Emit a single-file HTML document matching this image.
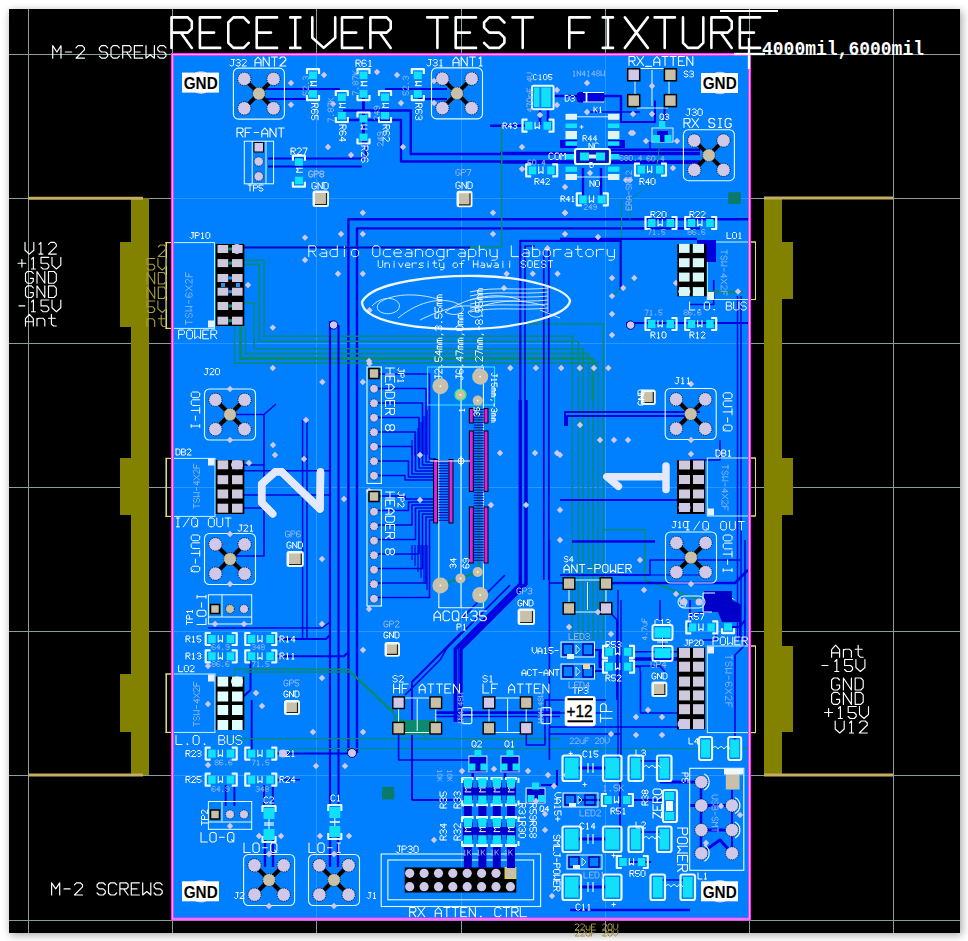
<!DOCTYPE html>
<html><head><meta charset="utf-8">
<style>
html,body{margin:0;padding:0;background:#fff;width:968px;height:941px;overflow:hidden}
svg{display:block}
</style></head><body>
<svg width="968" height="941" viewBox="0 0 968 941">
<defs><filter id="sh" x="-5%" y="-5%" width="110%" height="110%"><feGaussianBlur stdDeviation="4"/></filter></defs>
<rect x="0" y="0" width="968" height="941" fill="#fff"/>
<rect x="10" y="11" width="952" height="924" fill="#000" opacity="0.35" filter="url(#sh)"/>
<rect x="9" y="9" width="951" height="924" fill="#000"/>
<g stroke="#84a0a0" stroke-width="1">
<line x1="9" y1="54.5" x2="960" y2="54.5"/>
<line x1="9" y1="198.5" x2="960" y2="198.5"/>
<line x1="9" y1="343.5" x2="960" y2="343.5"/>
<line x1="9" y1="487.5" x2="960" y2="487.5"/>
<line x1="9" y1="631.5" x2="960" y2="631.5"/>
<line x1="9" y1="775.5" x2="960" y2="775.5"/>
<line x1="9" y1="920.5" x2="960" y2="920.5"/>
<line x1="28.5" y1="9" x2="28.5" y2="933"/>
<line x1="172.5" y1="9" x2="172.5" y2="933"/>
<line x1="316.5" y1="9" x2="316.5" y2="933"/>
<line x1="461.5" y1="9" x2="461.5" y2="933"/>
<line x1="605.5" y1="9" x2="605.5" y2="933"/>
<line x1="749.5" y1="9" x2="749.5" y2="933"/>
<line x1="893.5" y1="9" x2="893.5" y2="933"/>
</g>
<g fill="#828200">
<rect x="131" y="198" width="18" height="577"/>
<rect x="120" y="242" width="11" height="85"/>
<rect x="120" y="458" width="11" height="57"/>
<rect x="120" y="674" width="11" height="58"/>
<rect x="764" y="198" width="18" height="577"/>
<rect x="782" y="242" width="11" height="57"/>
<rect x="782" y="458" width="11" height="57"/>
<rect x="782" y="646" width="11" height="86"/>
</g>
<g stroke="#c4ac60" stroke-width="3">
<line x1="28" y1="198.3" x2="143" y2="198.3"/>
<line x1="28" y1="775" x2="143" y2="775"/>
<line x1="764" y1="198" x2="893" y2="198"/>
<line x1="764" y1="775" x2="893" y2="775"/>
</g>
<rect x="172" y="54" width="578" height="865" fill="#0080ff"/>
<g stroke="#a0d0ff" stroke-width="1" opacity="0.28">
<line x1="173" y1="198.5" x2="749" y2="198.5"/>
<line x1="173" y1="343.5" x2="749" y2="343.5"/>
<line x1="173" y1="487.5" x2="749" y2="487.5"/>
<line x1="173" y1="631.5" x2="749" y2="631.5"/>
<line x1="173" y1="775.5" x2="749" y2="775.5"/>
<line x1="316.5" y1="55" x2="316.5" y2="919"/>
<line x1="461.5" y1="55" x2="461.5" y2="919"/>
<line x1="605.5" y1="55" x2="605.5" y2="919"/>
</g>
<path d="M171.5 47.9L171.5 17.4L187.8 17.4L191.8 21.5L191.8 28.6L187.8 32.6L171.5 32.6M180.7 32.6L191.8 47.9M220.2 17.4L199.9 17.4L199.9 47.9L220.2 47.9M199.9 32.6L214.1 32.6M248.7 22.5L243.6 17.4L233.4 17.4L228.3 22.5L228.3 42.8L233.4 47.9L243.6 47.9L248.7 42.8M277.1 17.4L256.7 17.4L256.7 47.9L277.1 47.9M256.7 32.6L271.0 32.6M290.2 17.4L300.4 17.4M295.3 17.4L295.3 47.9M290.2 47.9L300.4 47.9M312.3 17.4L312.3 37.7L323.7 47.9L335.2 37.7L335.2 17.4M362.3 17.4L342.0 17.4L342.0 47.9L362.3 47.9M342.0 32.6L356.2 32.6M370.4 47.9L370.4 17.4L386.7 17.4L390.7 21.5L390.7 28.6L386.7 32.6L370.4 32.6M379.6 32.6L390.7 47.9M427.2 17.4L447.6 17.4M437.4 17.4L437.4 47.9M476.0 17.4L455.7 17.4L455.7 47.9L476.0 47.9M455.7 32.6L469.9 32.6M504.4 22.5L499.3 17.4L489.2 17.4L484.1 22.5L484.1 27.6L489.2 32.6L499.3 32.6L504.4 37.7L504.4 42.8L499.3 47.9L489.2 47.9L484.1 42.8M512.5 17.4L532.8 17.4M522.7 17.4L522.7 47.9M589.7 17.4L569.3 17.4L569.3 47.9M569.3 32.6L583.6 32.6M602.8 17.4L613.0 17.4M607.9 17.4L607.9 47.9M602.8 47.9L613.0 47.9M624.9 17.4L647.8 47.9M647.8 17.4L624.9 47.9M654.6 17.4L674.9 17.4M664.7 17.4L664.7 47.9M683.0 17.4L683.0 42.8L688.1 47.9L698.2 47.9L703.3 42.8L703.3 17.4M711.4 47.9L711.4 17.4L727.7 17.4L731.7 21.5L731.7 28.6L727.7 32.6L711.4 32.6M720.6 32.6L731.7 47.9M760.1 17.4L739.8 17.4L739.8 47.9L760.1 47.9M739.8 32.6L754.0 32.6" stroke="#ffffff" stroke-width="2.60" fill="none" stroke-linecap="round" stroke-linejoin="round"/>
<path d="M265.0 89.0L340.0 89.0" stroke="#0000e0" stroke-width="2.2" fill="none" stroke-linejoin="round"/>
<path d="M265.0 99.0L308.0 99.0" stroke="#0000e0" stroke-width="2.2" fill="none" stroke-linejoin="round"/>
<path d="M385.0 89.0L447.0 89.0" stroke="#0000e0" stroke-width="2.2" fill="none" stroke-linejoin="round"/>
<path d="M418.0 99.0L447.0 99.0" stroke="#0000e0" stroke-width="2.2" fill="none" stroke-linejoin="round"/>
<path d="M363.5 98.0L363.5 145.0" stroke="#0000e0" stroke-width="3.0" fill="none" stroke-linejoin="round"/>
<path d="M343.0 110.5L410.8 110.5L410.8 154.0L700.0 154.0" stroke="#0000e0" stroke-width="2.4" fill="none" stroke-linejoin="round"/>
<path d="M346.0 120.0L401.0 120.0L401.0 161.5L700.0 161.5" stroke="#0000e0" stroke-width="2.4" fill="none" stroke-linejoin="round"/>
<path d="M268.0 158.5L365.8 158.5L365.8 140.0" stroke="#0000e0" stroke-width="2.2" fill="none" stroke-linejoin="round"/>
<path d="M268.0 166.5L362.0 166.5" stroke="#0000e0" stroke-width="2.2" fill="none" stroke-linejoin="round"/>
<path d="M600.0 149.8L700.0 149.8" stroke="#0000e0" stroke-width="2.6" fill="none" stroke-linejoin="round"/>
<path d="M600.0 162.4L700.0 162.4" stroke="#0000e0" stroke-width="2.6" fill="none" stroke-linejoin="round"/>
<path d="M348.4 400.0L348.4 219.3L750.0 219.3" stroke="#0000e0" stroke-width="2.4" fill="none" stroke-linejoin="round"/>
<path d="M357.0 400.0L357.0 228.4L700.0 228.4" stroke="#0000e0" stroke-width="2.4" fill="none" stroke-linejoin="round"/>
<path d="M553.0 96.0L577.0 96.0" stroke="#0000e0" stroke-width="2.4" fill="none" stroke-linejoin="round"/>
<path d="M604.0 96.0L621.0 96.0L621.0 113.0" stroke="#0000e0" stroke-width="2.4" fill="none" stroke-linejoin="round"/>
<path d="M540.0 109.0L540.0 125.0" stroke="#0000e0" stroke-width="2.6" fill="none" stroke-linejoin="round"/>
<path d="M548.0 109.0L548.0 125.0" stroke="#0000e0" stroke-width="2.6" fill="none" stroke-linejoin="round"/>
<path d="M500.0 153.2L700.0 153.2" stroke="#0000e0" stroke-width="3.0" fill="none" stroke-linejoin="round"/>
<path d="M500.0 162.2L700.0 162.2" stroke="#0000e0" stroke-width="3.0" fill="none" stroke-linejoin="round"/>
<path d="M583.0 168.0L583.0 200.0" stroke="#0000e0" stroke-width="2.4" fill="none" stroke-linejoin="round"/>
<path d="M601.0 168.0L601.0 200.0" stroke="#0000e0" stroke-width="2.4" fill="none" stroke-linejoin="round"/>
<path d="M490.0 125.7L525.0 125.7" stroke="#0000e0" stroke-width="2.4" fill="none" stroke-linejoin="round"/>
<path d="M621.0 113.0L621.0 122.0L655.0 122.0L655.0 100.6" stroke="#0000e0" stroke-width="2.0" fill="none" stroke-linejoin="round"/>
<path d="M590.0 112.0L640.0 112.0" stroke="#0000e0" stroke-width="1.5" fill="none" stroke-linejoin="round"/>
<path d="M664.5 106.6L664.5 125.0" stroke="#0000e0" stroke-width="2.0" fill="none" stroke-linejoin="round"/>
<path d="M650.0 142.0L650.0 150.0" stroke="#0000e0" stroke-width="1.5" fill="none" stroke-linejoin="round"/>
<path d="M630.0 220.0L630.0 200.0L655.0 180.0L660.0 142.0" stroke="#0a8a6e" stroke-width="1.0" fill="none" stroke-linejoin="round"/>
<path d="M244.0 260.2L264.1 260.2L264.1 336.3L572.3 336.3L572.3 400.0" stroke="#0a8a6e" stroke-width="1.6" fill="none" stroke-linejoin="round"/>
<path d="M244.0 264.4L259.2 264.4L259.2 341.3L578.5 341.3L578.5 400.0" stroke="#0a8a6e" stroke-width="1.6" fill="none" stroke-linejoin="round"/>
<path d="M244.0 302.8L254.2 302.8L254.2 348.7L583.0 348.7L583.0 400.0" stroke="#0a8a6e" stroke-width="1.6" fill="none" stroke-linejoin="round"/>
<path d="M245.5 326.0L245.5 353.6L588.4 353.6L588.4 400.0" stroke="#0a8a6e" stroke-width="1.6" fill="none" stroke-linejoin="round"/>
<path d="M240.6 326.0L240.6 358.6L593.0 358.6L593.0 400.0" stroke="#0a8a6e" stroke-width="3.0" fill="none" stroke-linejoin="round"/>
<path d="M234.4 326.0L234.4 363.0L598.0 363.0L598.0 400.0" stroke="#0a8a6e" stroke-width="1.4" fill="none" stroke-linejoin="round"/>
<path d="M244.0 247.0L501.7 247.0L501.7 125.0" stroke="#0a8a6e" stroke-width="1.6" fill="none" stroke-linejoin="round"/>
<path d="M516.5 324.0L603.3 324.0L603.3 400.0" stroke="#0a8a6e" stroke-width="1.6" fill="none" stroke-linejoin="round"/>
<path d="M621.6 200.0L621.6 287.8L612.0 296.0" stroke="#0a8a6e" stroke-width="1.2" fill="none" stroke-linejoin="round"/>
<path d="M244.0 247.5L470.0 247.5" stroke="#0000e0" stroke-width="2.2" fill="none" stroke-linejoin="round"/>
<path d="M520.3 400.0L520.3 240.8L620.7 240.8L620.7 289.2" stroke="#0000e0" stroke-width="2.2" fill="none" stroke-linejoin="round"/>
<path d="M525.0 400.0L525.0 246.0L535.0 246.0" stroke="#0000e0" stroke-width="1.6" fill="none" stroke-linejoin="round"/>
<path d="M543.8 400.0L543.8 250.0" stroke="#0000e0" stroke-width="1.8" fill="none" stroke-linejoin="round"/>
<path d="M548.8 400.0L548.8 250.0" stroke="#0000e0" stroke-width="1.8" fill="none" stroke-linejoin="round"/>
<path d="M330.0 400.0L330.0 321.0" stroke="#0000e0" stroke-width="2.2" fill="none" stroke-linejoin="round"/>
<path d="M338.5 400.0L338.5 325.0" stroke="#0000e0" stroke-width="2.2" fill="none" stroke-linejoin="round"/>
<path d="M560.0 238.9L697.0 238.9" stroke="#0000e0" stroke-width="2.4" fill="none" stroke-linejoin="round"/>
<path d="M626.0 323.0L750.0 323.0" stroke="#0000e0" stroke-width="2.2" fill="none" stroke-linejoin="round"/>
<path d="M737.5 296.0L737.5 640.0" stroke="#0000e0" stroke-width="1.4" fill="none" stroke-linejoin="round"/>
<path d="M741.0 296.0L741.0 640.0" stroke="#0000e0" stroke-width="1.4" fill="none" stroke-linejoin="round"/>
<path d="M713.7 280.0L713.7 304.5L689.0 304.5" stroke="#0000e0" stroke-width="1.6" fill="none" stroke-linejoin="round"/>
<path d="M705.5 292.0L742.6 292.0" stroke="#0a8a6e" stroke-width="2.5" fill="none" stroke-linejoin="round"/>
<path d="M572.3 400.0L572.3 640.0" stroke="#0a8a6e" stroke-width="1.5" fill="none" stroke-linejoin="round"/>
<path d="M578.5 400.0L578.5 640.0" stroke="#0a8a6e" stroke-width="1.5" fill="none" stroke-linejoin="round"/>
<path d="M583.0 400.0L583.0 640.0" stroke="#0a8a6e" stroke-width="1.5" fill="none" stroke-linejoin="round"/>
<path d="M588.4 400.0L588.4 640.0" stroke="#0a8a6e" stroke-width="1.5" fill="none" stroke-linejoin="round"/>
<path d="M593.0 400.0L593.0 640.0" stroke="#0a8a6e" stroke-width="1.5" fill="none" stroke-linejoin="round"/>
<path d="M598.0 400.0L598.0 640.0" stroke="#0a8a6e" stroke-width="1.5" fill="none" stroke-linejoin="round"/>
<path d="M603.3 400.0L603.3 640.0" stroke="#0a8a6e" stroke-width="1.5" fill="none" stroke-linejoin="round"/>
<path d="M603.3 529.7L645.0 529.7L645.0 580.0L700.0 600.0" stroke="#0a8a6e" stroke-width="1.5" fill="none" stroke-linejoin="round"/>
<path d="M520.3 400.0L520.3 584.0L455.3 649.0L455.3 722.0" stroke="#0000e0" stroke-width="3.5" fill="none" stroke-linejoin="round"/>
<path d="M526.0 400.0L526.0 584.0L461.0 649.0L461.0 722.0" stroke="#0000e0" stroke-width="3.5" fill="none" stroke-linejoin="round"/>
<path d="M523.2 584.0L458.2 649.0L458.2 722.0" stroke="#0000e0" stroke-width="1.0" fill="none" stroke-linejoin="round"/>
<path d="M543.8 400.0L543.8 580.0" stroke="#0000e0" stroke-width="1.8" fill="none" stroke-linejoin="round"/>
<path d="M548.8 400.0L548.8 580.0" stroke="#0000e0" stroke-width="1.8" fill="none" stroke-linejoin="round"/>
<path d="M330.0 400.0L330.0 640.0" stroke="#0000e0" stroke-width="2.2" fill="none" stroke-linejoin="round"/>
<path d="M338.5 400.0L338.5 640.0" stroke="#0000e0" stroke-width="2.2" fill="none" stroke-linejoin="round"/>
<path d="M348.4 400.0L348.4 640.0" stroke="#0000e0" stroke-width="2.4" fill="none" stroke-linejoin="round"/>
<path d="M357.0 400.0L357.0 640.0" stroke="#0000e0" stroke-width="2.4" fill="none" stroke-linejoin="round"/>
<path d="M302.6 420.0L302.6 560.0" stroke="#0000e0" stroke-width="1.5" fill="none" stroke-linejoin="round"/>
<path d="M307.0 420.0L307.0 560.0" stroke="#0000e0" stroke-width="1.5" fill="none" stroke-linejoin="round"/>
<path d="M230.0 414.5L264.0 414.5L276.0 404.0" stroke="#0000e0" stroke-width="1.6" fill="none" stroke-linejoin="round"/>
<path d="M264.0 414.5L264.0 556.0L230.0 556.0" stroke="#0000e0" stroke-width="1.6" fill="none" stroke-linejoin="round"/>
<path d="M565.0 426.0L565.0 411.9L700.0 411.9" stroke="#0000e0" stroke-width="2.0" fill="none" stroke-linejoin="round"/>
<path d="M567.0 426.0L567.0 416.0L690.0 416.0" stroke="#0000e0" stroke-width="2.0" fill="none" stroke-linejoin="round"/>
<path d="M560.0 500.0L690.0 500.0" stroke="#0000e0" stroke-width="1.8" fill="none" stroke-linejoin="round"/>
<path d="M572.0 541.5L655.0 541.5" stroke="#0000e0" stroke-width="2.6" fill="none" stroke-linejoin="round"/>
<path d="M244.0 465.0L264.0 465.0" stroke="#0000e0" stroke-width="1.5" fill="none" stroke-linejoin="round"/>
<path d="M244.0 508.0L264.0 508.0" stroke="#0000e0" stroke-width="1.5" fill="none" stroke-linejoin="round"/>
<path d="M244.0 470.7L330.0 470.7" stroke="#0000e0" stroke-width="1.5" fill="none" stroke-linejoin="round"/>
<path d="M244.0 495.0L330.0 495.0" stroke="#0000e0" stroke-width="1.5" fill="none" stroke-linejoin="round"/>
<path d="M690.0 460.0L720.0 460.0L720.0 440.0" stroke="#0000e0" stroke-width="1.5" fill="none" stroke-linejoin="round"/>
<path d="M378.0 374.0L429.5 374.0L429.5 459.0L436.0 459.0" stroke="#0000e0" stroke-width="1.6" fill="none" stroke-linejoin="round"/>
<path d="M378.0 388.5L426.0 388.5L426.0 462.0L436.0 462.0" stroke="#0000e0" stroke-width="1.6" fill="none" stroke-linejoin="round"/>
<path d="M378.0 403.0L422.5 403.0L422.5 465.0L436.0 465.0" stroke="#0000e0" stroke-width="1.6" fill="none" stroke-linejoin="round"/>
<path d="M378.0 417.5L419.0 417.5L419.0 468.0L436.0 468.0" stroke="#0000e0" stroke-width="1.6" fill="none" stroke-linejoin="round"/>
<path d="M378.0 432.0L415.5 432.0L415.5 471.0L436.0 471.0" stroke="#0000e0" stroke-width="1.6" fill="none" stroke-linejoin="round"/>
<path d="M378.0 446.5L412.0 446.5L412.0 474.0L436.0 474.0" stroke="#0000e0" stroke-width="1.6" fill="none" stroke-linejoin="round"/>
<path d="M378.0 461.0L408.5 461.0L408.5 477.0L436.0 477.0" stroke="#0000e0" stroke-width="1.6" fill="none" stroke-linejoin="round"/>
<path d="M378.0 475.5L405.0 475.5L405.0 480.0L436.0 480.0" stroke="#0000e0" stroke-width="1.6" fill="none" stroke-linejoin="round"/>
<path d="M378.0 496.0L405.0 496.0L405.0 499.0L436.0 499.0" stroke="#0000e0" stroke-width="1.6" fill="none" stroke-linejoin="round"/>
<path d="M378.0 510.5L408.5 510.5L408.5 502.0L436.0 502.0" stroke="#0000e0" stroke-width="1.6" fill="none" stroke-linejoin="round"/>
<path d="M378.0 525.0L412.0 525.0L412.0 505.0L436.0 505.0" stroke="#0000e0" stroke-width="1.6" fill="none" stroke-linejoin="round"/>
<path d="M378.0 539.5L415.5 539.5L415.5 508.0L436.0 508.0" stroke="#0000e0" stroke-width="1.6" fill="none" stroke-linejoin="round"/>
<path d="M378.0 554.0L419.0 554.0L419.0 511.0L436.0 511.0" stroke="#0000e0" stroke-width="1.6" fill="none" stroke-linejoin="round"/>
<path d="M378.0 568.5L422.5 568.5L422.5 514.0L436.0 514.0" stroke="#0000e0" stroke-width="1.6" fill="none" stroke-linejoin="round"/>
<path d="M378.0 583.0L426.0 583.0L426.0 517.0L436.0 517.0" stroke="#0000e0" stroke-width="1.6" fill="none" stroke-linejoin="round"/>
<path d="M378.0 597.5L429.5 597.5L429.5 520.0L436.0 520.0" stroke="#0000e0" stroke-width="1.6" fill="none" stroke-linejoin="round"/>
<path d="M412.0 440.0L412.0 455.0" stroke="#0000e0" stroke-width="1.2" fill="none" stroke-linejoin="round"/>
<path d="M412.0 545.0L412.0 560.0" stroke="#0000e0" stroke-width="1.2" fill="none" stroke-linejoin="round"/>
<path d="M415.0 434.0L415.0 455.0" stroke="#0000e0" stroke-width="1.2" fill="none" stroke-linejoin="round"/>
<path d="M415.0 545.0L415.0 566.0" stroke="#0000e0" stroke-width="1.2" fill="none" stroke-linejoin="round"/>
<path d="M418.0 428.0L418.0 455.0" stroke="#0000e0" stroke-width="1.2" fill="none" stroke-linejoin="round"/>
<path d="M418.0 545.0L418.0 572.0" stroke="#0000e0" stroke-width="1.2" fill="none" stroke-linejoin="round"/>
<path d="M421.0 422.0L421.0 455.0" stroke="#0000e0" stroke-width="1.2" fill="none" stroke-linejoin="round"/>
<path d="M421.0 545.0L421.0 578.0" stroke="#0000e0" stroke-width="1.2" fill="none" stroke-linejoin="round"/>
<path d="M424.0 416.0L424.0 455.0" stroke="#0000e0" stroke-width="1.2" fill="none" stroke-linejoin="round"/>
<path d="M424.0 545.0L424.0 584.0" stroke="#0000e0" stroke-width="1.2" fill="none" stroke-linejoin="round"/>
<path d="M427.0 410.0L427.0 455.0" stroke="#0000e0" stroke-width="1.2" fill="none" stroke-linejoin="round"/>
<path d="M427.0 545.0L427.0 590.0" stroke="#0000e0" stroke-width="1.2" fill="none" stroke-linejoin="round"/>
<path d="M478.7 400.0L478.7 570.0" stroke="#0a8a6e" stroke-width="2.2" fill="none" stroke-linejoin="round"/>
<path d="M440.4 585.4L460.5 578.4L477.7 572.0" stroke="#0a8a6e" stroke-width="2.5" fill="none" stroke-linejoin="round"/>
<path d="M330.0 640.0L330.0 806.0" stroke="#0000e0" stroke-width="2.2" fill="none" stroke-linejoin="round"/>
<path d="M338.5 640.0L338.5 806.0" stroke="#0000e0" stroke-width="2.2" fill="none" stroke-linejoin="round"/>
<path d="M348.4 640.0L348.4 753.0" stroke="#0000e0" stroke-width="2.4" fill="none" stroke-linejoin="round"/>
<path d="M357.0 640.0L357.0 753.0" stroke="#0000e0" stroke-width="2.4" fill="none" stroke-linejoin="round"/>
<path d="M302.6 560.0L302.6 640.0" stroke="#0000e0" stroke-width="1.5" fill="none" stroke-linejoin="round"/>
<path d="M307.0 560.0L307.0 640.0" stroke="#0000e0" stroke-width="1.5" fill="none" stroke-linejoin="round"/>
<path d="M276.0 639.0L326.0 639.0L330.0 635.0" stroke="#0000e0" stroke-width="2.0" fill="none" stroke-linejoin="round"/>
<path d="M276.0 656.3L344.0 656.3L348.4 652.0" stroke="#0000e0" stroke-width="2.0" fill="none" stroke-linejoin="round"/>
<path d="M208.0 628.0L322.0 628.0L330.0 622.0" stroke="#0000e0" stroke-width="1.5" fill="none" stroke-linejoin="round"/>
<path d="M250.5 656.0L250.5 690.0L244.0 696.0" stroke="#0000e0" stroke-width="2.0" fill="none" stroke-linejoin="round"/>
<path d="M251.7 700.0L251.7 753.6" stroke="#0000e0" stroke-width="2.0" fill="none" stroke-linejoin="round"/>
<path d="M276.0 753.6L348.0 753.6" stroke="#0000e0" stroke-width="2.0" fill="none" stroke-linejoin="round"/>
<path d="M276.0 779.7L300.0 779.7" stroke="#0000e0" stroke-width="1.6" fill="none" stroke-linejoin="round"/>
<path d="M225.7 785.0L225.7 806.0" stroke="#0000e0" stroke-width="2.0" fill="none" stroke-linejoin="round"/>
<path d="M234.4 785.0L234.4 806.0" stroke="#0000e0" stroke-width="2.0" fill="none" stroke-linejoin="round"/>
<path d="M264.0 785.0L264.0 806.0" stroke="#0000e0" stroke-width="2.0" fill="none" stroke-linejoin="round"/>
<path d="M272.8 785.0L272.8 806.0" stroke="#0000e0" stroke-width="2.0" fill="none" stroke-linejoin="round"/>
<path d="M265.0 840.0L265.0 867.0" stroke="#0000e0" stroke-width="2.4" fill="none" stroke-linejoin="round"/>
<path d="M273.0 840.0L273.0 867.0" stroke="#0000e0" stroke-width="2.4" fill="none" stroke-linejoin="round"/>
<path d="M330.0 837.0L330.0 867.0" stroke="#0000e0" stroke-width="2.4" fill="none" stroke-linejoin="round"/>
<path d="M338.0 837.0L338.0 867.0" stroke="#0000e0" stroke-width="2.4" fill="none" stroke-linejoin="round"/>
<path d="M234.4 676.0L234.4 669.2L348.4 669.2L393.0 711.3L400.0 735.0" stroke="#0a8a6e" stroke-width="1.5" fill="none" stroke-linejoin="round"/>
<path d="M244.0 672.0L350.0 672.0L396.0 716.0L430.0 740.0" stroke="#0a8a6e" stroke-width="1.3" fill="none" stroke-linejoin="round"/>
<path d="M229.0 738.6L560.0 738.6" stroke="#0a8a6e" stroke-width="1.4" fill="none" stroke-linejoin="round"/>
<path d="M290.0 748.5L750.0 748.5" stroke="#0a8a6e" stroke-width="1.2" fill="none" stroke-linejoin="round"/>
<path d="M510.0 585.0L447.0 648.0L440.0 660.0L405.0 695.0" stroke="#0000e0" stroke-width="1.6" fill="none" stroke-linejoin="round"/>
<path d="M462.0 632.0L412.0 682.0L412.0 800.0" stroke="#0000e0" stroke-width="2.0" fill="none" stroke-linejoin="round"/>
<path d="M412.0 800.0L461.0 800.0" stroke="#0000e0" stroke-width="2.0" fill="none" stroke-linejoin="round"/>
<path d="M505.0 575.0L462.0 618.0" stroke="#0000e0" stroke-width="1.6" fill="none" stroke-linejoin="round"/>
<path d="M436.0 712.6L560.0 712.6" stroke="#0000e0" stroke-width="2.8" fill="none" stroke-linejoin="round"/>
<path d="M436.0 716.5L560.0 716.5" stroke="#0000e0" stroke-width="1.6" fill="none" stroke-linejoin="round"/>
<path d="M398.6 728.0L398.6 760.0L470.0 760.0" stroke="#0000e0" stroke-width="1.6" fill="none" stroke-linejoin="round"/>
<path d="M526.3 728.0L526.3 745.0L545.0 745.0L545.0 700.0L606.0 700.0" stroke="#0000e0" stroke-width="1.6" fill="none" stroke-linejoin="round"/>
<path d="M560.0 575.0L650.0 575.0L650.0 560.0L740.0 560.0" stroke="#0000e0" stroke-width="1.6" fill="none" stroke-linejoin="round"/>
<path d="M606.0 608.0L617.0 620.0L617.0 700.0" stroke="#0000e0" stroke-width="1.8" fill="none" stroke-linejoin="round"/>
<path d="M633.0 659.0L677.0 659.0" stroke="#0000e0" stroke-width="3.5" fill="none" stroke-linejoin="round"/>
<path d="M633.0 666.0L660.0 666.0L665.0 672.0" stroke="#0000e0" stroke-width="1.5" fill="none" stroke-linejoin="round"/>
<path d="M660.0 600.0L660.0 620.0" stroke="#0000e0" stroke-width="1.5" fill="none" stroke-linejoin="round"/>
<path d="M690.0 615.0L740.0 605.0L740.0 640.0" stroke="#0000e0" stroke-width="2.0" fill="none" stroke-linejoin="round"/>
<path d="M472.7 770.0L472.7 778.0" stroke="#0000e0" stroke-width="2.5" fill="none" stroke-linejoin="round"/>
<path d="M505.0 770.0L505.0 778.0" stroke="#0000e0" stroke-width="2.5" fill="none" stroke-linejoin="round"/>
<path d="M541.0 785.0L557.0 785.0L557.0 770.0" stroke="#0000e0" stroke-width="2.0" fill="none" stroke-linejoin="round"/>
<path d="M578.5 768.0L605.5 768.0" stroke="#0000e0" stroke-width="3.0" fill="none" stroke-linejoin="round"/>
<path d="M578.5 839.0L605.5 839.0" stroke="#0000e0" stroke-width="3.0" fill="none" stroke-linejoin="round"/>
<path d="M578.5 887.0L605.5 887.0" stroke="#0000e0" stroke-width="3.0" fill="none" stroke-linejoin="round"/>
<path d="M640.5 761.0L659.5 761.0" stroke="#0000e0" stroke-width="1.5" fill="none" stroke-linejoin="round"/>
<path d="M640.5 832.0L659.5 832.0" stroke="#0000e0" stroke-width="1.5" fill="none" stroke-linejoin="round"/>
<path d="M662.5 880.0L683.0 880.0" stroke="#0000e0" stroke-width="1.5" fill="none" stroke-linejoin="round"/>
<path d="M578.5 800.0L600.0 800.0" stroke="#0000e0" stroke-width="2.0" fill="none" stroke-linejoin="round"/>
<path d="M633.0 800.0L663.0 800.0" stroke="#0000e0" stroke-width="2.0" fill="none" stroke-linejoin="round"/>
<path d="M620.0 780.0L620.0 829.0" stroke="#0000e0" stroke-width="2.0" fill="none" stroke-linejoin="round"/>
<path d="M630.0 862.0L651.0 862.0" stroke="#0000e0" stroke-width="2.0" fill="none" stroke-linejoin="round"/>
<path d="M570.0 910.0L690.0 910.0" stroke="#0000e0" stroke-width="2.5" fill="none" stroke-linejoin="round"/>
<path d="M660.0 782.0L701.0 782.0" stroke="#0000e0" stroke-width="3.0" fill="none" stroke-linejoin="round"/>
<path d="M690.0 805.5L732.0 805.5" stroke="#0000e0" stroke-width="3.0" fill="none" stroke-linejoin="round"/>
<path d="M701.0 830.0L732.0 830.0" stroke="#0000e0" stroke-width="3.0" fill="none" stroke-linejoin="round"/>
<path d="M701.0 853.3L720.0 840.0L732.0 853.3" stroke="#0000e0" stroke-width="3.0" fill="none" stroke-linejoin="round"/>
<path d="M701.0 782.0L701.0 853.0" stroke="#0000e0" stroke-width="2.5" fill="none" stroke-linejoin="round"/>
<path d="M732.0 790.0L732.0 853.0" stroke="#0000e0" stroke-width="2.0" fill="none" stroke-linejoin="round"/>
<path d="M549.4 540.0L549.4 760.0" stroke="#0000e0" stroke-width="1.6" fill="none" stroke-linejoin="round"/>
<path d="M549.4 583.0L563.0 583.0" stroke="#0000e0" stroke-width="1.6" fill="none" stroke-linejoin="round"/>
<path d="M600.0 583.0L735.0 583.0L748.0 570.0" stroke="#0000e0" stroke-width="2.6" fill="none" stroke-linejoin="round"/>
<path d="M575.0 575.0L700.0 575.0" stroke="#0000e0" stroke-width="1.2" fill="none" stroke-linejoin="round"/>
<path d="M618.0 590.0L618.0 760.0" stroke="#0000e0" stroke-width="1.4" fill="none" stroke-linejoin="round"/>
<path d="M621.0 600.0L621.0 760.0" stroke="#0000e0" stroke-width="1.4" fill="none" stroke-linejoin="round"/>
<path d="M640.5 671.0L640.5 713.0L677.0 713.0" stroke="#0000e0" stroke-width="1.6" fill="none" stroke-linejoin="round"/>
<path d="M549.4 713.0L600.0 713.0" stroke="#0000e0" stroke-width="1.4" fill="none" stroke-linejoin="round"/>
<path d="M549.4 727.0L677.0 727.0" stroke="#0000e0" stroke-width="1.6" fill="none" stroke-linejoin="round"/>
<path d="M549.4 734.0L620.0 734.0" stroke="#0000e0" stroke-width="1.6" fill="none" stroke-linejoin="round"/>
<path d="M633.0 651.8L677.0 651.8" stroke="#0000e0" stroke-width="1.6" fill="none" stroke-linejoin="round"/>
<path d="M633.0 666.7L640.0 666.7L640.0 671.0" stroke="#0000e0" stroke-width="1.6" fill="none" stroke-linejoin="round"/>
<path d="M603.6 651.8L600.0 651.8L600.0 666.7L603.6 666.7" stroke="#0000e0" stroke-width="3.0" fill="none" stroke-linejoin="round"/>
<path d="M594.5 650.0L603.6 650.0" stroke="#0000e0" stroke-width="2.0" fill="none" stroke-linejoin="round"/>
<path d="M594.5 671.0L603.6 671.0" stroke="#0000e0" stroke-width="2.0" fill="none" stroke-linejoin="round"/>
<path d="M663.0 637.6L663.0 648.0" stroke="#0000e0" stroke-width="3.0" fill="none" stroke-linejoin="round"/>
<path d="M701.0 640.0L716.0 640.0L716.0 632.0" stroke="#0000e0" stroke-width="1.6" fill="none" stroke-linejoin="round"/>
<path d="M728.0 627.0L740.0 627.0L745.0 620.0" stroke="#0000e0" stroke-width="2.0" fill="none" stroke-linejoin="round"/>
<path d="M690.0 600.0L690.0 620.0L688.0 627.0" stroke="#0000e0" stroke-width="1.6" fill="none" stroke-linejoin="round"/>
<path d="M745.0 540.0L745.0 645.0L735.0 655.0L735.0 740.0" stroke="#0000e0" stroke-width="1.6" fill="none" stroke-linejoin="round"/>
<path d="M52.7 58.2L52.7 45.7L56.9 52.0L61.0 45.7L61.0 58.2M65.4 52.0L71.7 52.0M76.0 47.8L78.1 45.7L82.3 45.7L84.4 47.8L84.4 49.9L76.0 58.2L84.4 58.2M107.7 47.8L105.6 45.7L101.5 45.7L99.4 47.8L99.4 49.9L101.5 52.0L105.6 52.0L107.7 54.0L107.7 56.1L105.6 58.2L101.5 58.2L99.4 56.1M119.4 47.8L117.3 45.7L113.1 45.7L111.0 47.8L111.0 56.1L113.1 58.2L117.3 58.2L119.4 56.1M122.7 58.2L122.7 45.7L129.4 45.7L131.0 47.4L131.0 50.3L129.4 52.0L122.7 52.0M126.5 52.0L131.0 58.2M142.7 45.7L134.4 45.7L134.4 58.2L142.7 58.2M134.4 52.0L140.2 52.0M146.0 45.7L146.0 58.2L150.2 54.7L154.4 58.2L154.4 45.7M166.0 47.8L163.9 45.7L159.8 45.7L157.7 47.8L157.7 49.9L159.8 52.0L163.9 52.0L166.0 54.0L166.0 56.1L163.9 58.2L159.8 58.2L157.7 56.1" stroke="#ffffff" stroke-width="1.20" fill="none" stroke-linecap="round" stroke-linejoin="round"/>
<path d="M51.6 895.0L51.6 882.8L55.7 888.9L59.7 882.8L59.7 895.0M64.0 888.9L70.1 888.9M74.4 884.8L76.4 882.8L80.5 882.8L82.5 884.8L82.5 886.9L74.4 895.0L82.5 895.0M105.3 884.8L103.2 882.8L99.2 882.8L97.1 884.8L97.1 886.9L99.2 888.9L103.2 888.9L105.3 890.9L105.3 893.0L103.2 895.0L99.2 895.0L97.1 893.0M116.7 884.8L114.6 882.8L110.6 882.8L108.5 884.8L108.5 893.0L110.6 895.0L114.6 895.0L116.7 893.0M119.9 895.0L119.9 882.8L126.4 882.8L128.1 884.4L128.1 887.3L126.4 888.9L119.9 888.9M123.6 888.9L128.1 895.0M139.4 882.8L131.3 882.8L131.3 895.0L139.4 895.0M131.3 888.9L137.0 888.9M142.7 882.8L142.7 895.0L146.8 891.5L150.8 895.0L150.8 882.8M162.2 884.8L160.2 882.8L156.1 882.8L154.1 884.8L154.1 886.9L156.1 888.9L160.2 888.9L162.2 890.9L162.2 893.0L160.2 895.0L156.1 895.0L154.1 893.0" stroke="#ffffff" stroke-width="1.20" fill="none" stroke-linecap="round" stroke-linejoin="round"/>
<path d="M25.0 242.4L25.0 250.2L29.4 254.1L33.8 250.2L33.8 242.4M39.0 244.3L40.9 242.4L40.9 254.1M39.0 254.1L42.9 254.1M48.5 244.3L50.5 242.4L54.4 242.4L56.3 244.3L56.3 246.3L48.5 254.1L56.3 254.1" stroke="#ffffff" stroke-width="1.15" fill="none" stroke-linecap="round" stroke-linejoin="round"/>
<path d="M18.0 263.2L25.8 263.2M21.9 259.2L21.9 267.1M31.5 259.2L33.4 257.3L33.4 269.0M31.5 269.0L35.4 269.0M48.8 257.3L41.0 257.3L41.0 263.2L46.9 263.2L48.8 265.1L48.8 267.1L46.9 269.0L43.0 269.0L41.0 267.1M52.0 257.3L52.0 265.1L56.4 269.0L60.8 265.1L60.8 257.3" stroke="#ffffff" stroke-width="1.15" fill="none" stroke-linecap="round" stroke-linejoin="round"/>
<path d="M33.3 273.4L31.4 271.5L27.4 271.5L25.5 273.4L25.5 281.2L27.4 283.2L31.4 283.2L33.3 281.2L33.3 278.3L30.4 278.3M37.0 283.2L37.0 271.5L44.8 283.2L44.8 271.5M48.5 271.5L48.5 283.2L54.0 283.2L56.3 280.9L56.3 273.8L54.0 271.5L48.5 271.5" stroke="#ffffff" stroke-width="1.15" fill="none" stroke-linecap="round" stroke-linejoin="round"/>
<path d="M33.3 287.8L31.4 285.8L27.4 285.8L25.5 287.8L25.5 295.6L27.4 297.5L31.4 297.5L33.3 295.6L33.3 292.6L30.4 292.6M37.0 297.5L37.0 285.8L44.8 297.5L44.8 285.8M48.5 285.8L48.5 297.5L54.0 297.5L56.3 295.2L56.3 288.1L54.0 285.8L48.5 285.8" stroke="#ffffff" stroke-width="1.15" fill="none" stroke-linecap="round" stroke-linejoin="round"/>
<path d="M19.0 305.9L24.8 305.9M31.5 301.9L33.4 300.0L33.4 311.7M31.5 311.7L35.4 311.7M48.8 300.0L41.0 300.0L41.0 305.9L46.9 305.9L48.8 307.8L48.8 309.8L46.9 311.7L43.0 311.7L41.0 309.8M52.0 300.0L52.0 307.8L56.4 311.7L60.8 307.8L60.8 300.0" stroke="#ffffff" stroke-width="1.15" fill="none" stroke-linecap="round" stroke-linejoin="round"/>
<path d="M25.5 326.0L25.5 318.6L29.4 314.3L33.3 318.6L33.3 326.0M25.5 321.7L33.3 321.7M37.0 326.0L37.0 318.2M37.0 319.2L39.0 318.2L42.9 318.2L44.8 320.2L44.8 326.0M51.4 314.3L51.4 324.1L53.4 326.0L56.3 326.0M48.5 318.2L55.3 318.2" stroke="#ffffff" stroke-width="1.15" fill="none" stroke-linecap="round" stroke-linejoin="round"/>
<path d="M831.6 657.2L831.6 649.6L835.6 645.2L839.6 649.6L839.6 657.2M831.6 652.8L839.6 652.8M843.4 657.2L843.4 649.2M843.4 650.2L845.4 649.2L849.4 649.2L851.4 651.2L851.4 657.2M858.2 645.2L858.2 655.2L860.2 657.2L863.2 657.2M855.2 649.2L862.2 649.2" stroke="#ffffff" stroke-width="1.15" fill="none" stroke-linecap="round" stroke-linejoin="round"/>
<path d="M822.0 665.5L828.0 665.5M834.8 661.5L836.8 659.5L836.8 671.5M834.8 671.5L838.8 671.5M852.6 659.5L844.6 659.5L844.6 665.5L850.6 665.5L852.6 667.5L852.6 669.5L850.6 671.5L846.6 671.5L844.6 669.5M855.9 659.5L855.9 667.5L860.4 671.5L864.9 667.5L864.9 659.5" stroke="#ffffff" stroke-width="1.15" fill="none" stroke-linecap="round" stroke-linejoin="round"/>
<path d="M839.6 680.0L837.6 678.0L833.6 678.0L831.6 680.0L831.6 688.0L833.6 690.0L837.6 690.0L839.6 688.0L839.6 685.0L836.6 685.0M843.4 690.0L843.4 678.0L851.4 690.0L851.4 678.0M855.2 678.0L855.2 690.0L860.8 690.0L863.2 687.6L863.2 680.4L860.8 678.0L855.2 678.0" stroke="#ffffff" stroke-width="1.15" fill="none" stroke-linecap="round" stroke-linejoin="round"/>
<path d="M839.6 694.4L837.6 692.4L833.6 692.4L831.6 694.4L831.6 702.4L833.6 704.4L837.6 704.4L839.6 702.4L839.6 699.4L836.6 699.4M843.4 704.4L843.4 692.4L851.4 704.4L851.4 692.4M855.2 692.4L855.2 704.4L860.8 704.4L863.2 702.0L863.2 694.8L860.8 692.4L855.2 692.4" stroke="#ffffff" stroke-width="1.15" fill="none" stroke-linecap="round" stroke-linejoin="round"/>
<path d="M824.6 712.5L832.6 712.5M828.6 708.5L828.6 716.5M838.4 708.5L840.4 706.5L840.4 718.5M838.4 718.5L842.4 718.5M856.2 706.5L848.2 706.5L848.2 712.5L854.2 712.5L856.2 714.5L856.2 716.5L854.2 718.5L850.2 718.5L848.2 716.5M859.5 706.5L859.5 714.5L864.0 718.5L868.5 714.5L868.5 706.5" stroke="#ffffff" stroke-width="1.15" fill="none" stroke-linecap="round" stroke-linejoin="round"/>
<path d="M835.2 721.0L835.2 729.0L839.7 733.0L844.2 729.0L844.2 721.0M849.5 723.0L851.5 721.0L851.5 733.0M849.5 733.0L853.5 733.0M859.3 723.0L861.3 721.0L865.3 721.0L867.3 723.0L867.3 725.0L859.3 733.0L867.3 733.0" stroke="#ffffff" stroke-width="1.15" fill="none" stroke-linecap="round" stroke-linejoin="round"/>
<path d="M749.0 38.0L749.0 69.0" stroke="#fff" stroke-width="2.2" fill="none" stroke-linejoin="round"/>
<path d="M734.0 54.0L765.0 54.0" stroke="#fff" stroke-width="2.2" fill="none" stroke-linejoin="round"/>
<path d="M720.0 11.0L778.0 11.0" stroke="#fff" stroke-width="2.0" fill="none" stroke-linejoin="round"/>
<text x="762" y="55" font-family="Liberation Mono" font-weight="bold" font-size="19.5" fill="#fff" textLength="162" lengthAdjust="spacingAndGlyphs">4000mil,6000mil</text>
<rect x="233.4" y="68.1" width="51.0" height="51.0" rx="5" fill="none" stroke="#e8ffff" stroke-width="1.1"/>
<path d="M258.9 93.6L247.9 82.6" stroke="#000" stroke-width="4.0" fill="none" stroke-linejoin="round"/>
<path d="M258.9 93.6L247.9 104.6" stroke="#000" stroke-width="4.0" fill="none" stroke-linejoin="round"/>
<path d="M258.9 93.6L269.8 82.6" stroke="#000" stroke-width="4.0" fill="none" stroke-linejoin="round"/>
<path d="M258.9 93.6L269.8 104.6" stroke="#000" stroke-width="4.0" fill="none" stroke-linejoin="round"/>
<circle cx="244.3" cy="78.9" r="6.6" fill="#d0c8e8" stroke="#000" stroke-width="1" stroke-dasharray="1 1.3"/>
<circle cx="244.3" cy="108.3" r="6.6" fill="#d0c8e8" stroke="#000" stroke-width="1" stroke-dasharray="1 1.3"/>
<circle cx="273.5" cy="78.9" r="6.6" fill="#d0c8e8" stroke="#000" stroke-width="1" stroke-dasharray="1 1.3"/>
<circle cx="273.5" cy="108.3" r="6.6" fill="#d0c8e8" stroke="#000" stroke-width="1" stroke-dasharray="1 1.3"/>
<circle cx="258.9" cy="93.6" r="6.3" fill="#c8c0a8" stroke="#000" stroke-width="0.8" stroke-dasharray="1 1.3"/>
<rect x="431.5" y="67.9" width="51.0" height="51.0" rx="5" fill="none" stroke="#e8ffff" stroke-width="1.1"/>
<path d="M457.0 93.4L446.1 82.4" stroke="#000" stroke-width="4.0" fill="none" stroke-linejoin="round"/>
<path d="M457.0 93.4L446.1 104.4" stroke="#000" stroke-width="4.0" fill="none" stroke-linejoin="round"/>
<path d="M457.0 93.4L467.9 82.4" stroke="#000" stroke-width="4.0" fill="none" stroke-linejoin="round"/>
<path d="M457.0 93.4L467.9 104.4" stroke="#000" stroke-width="4.0" fill="none" stroke-linejoin="round"/>
<circle cx="442.4" cy="78.7" r="6.6" fill="#d0c8e8" stroke="#000" stroke-width="1" stroke-dasharray="1 1.3"/>
<circle cx="442.4" cy="108.1" r="6.6" fill="#d0c8e8" stroke="#000" stroke-width="1" stroke-dasharray="1 1.3"/>
<circle cx="471.6" cy="78.7" r="6.6" fill="#d0c8e8" stroke="#000" stroke-width="1" stroke-dasharray="1 1.3"/>
<circle cx="471.6" cy="108.1" r="6.6" fill="#d0c8e8" stroke="#000" stroke-width="1" stroke-dasharray="1 1.3"/>
<circle cx="457.0" cy="93.4" r="6.3" fill="#c8c0a8" stroke="#000" stroke-width="0.8" stroke-dasharray="1 1.3"/>
<rect x="683.4" y="129.7" width="51.0" height="51.0" rx="5" fill="none" stroke="#e8ffff" stroke-width="1.1"/>
<path d="M708.9 155.2L697.9 144.2" stroke="#000" stroke-width="4.0" fill="none" stroke-linejoin="round"/>
<path d="M708.9 155.2L697.9 166.2" stroke="#000" stroke-width="4.0" fill="none" stroke-linejoin="round"/>
<path d="M708.9 155.2L719.9 144.2" stroke="#000" stroke-width="4.0" fill="none" stroke-linejoin="round"/>
<path d="M708.9 155.2L719.9 166.2" stroke="#000" stroke-width="4.0" fill="none" stroke-linejoin="round"/>
<circle cx="694.3" cy="140.5" r="6.6" fill="#d0c8e8" stroke="#000" stroke-width="1" stroke-dasharray="1 1.3"/>
<circle cx="694.3" cy="169.9" r="6.6" fill="#d0c8e8" stroke="#000" stroke-width="1" stroke-dasharray="1 1.3"/>
<circle cx="723.5" cy="140.5" r="6.6" fill="#d0c8e8" stroke="#000" stroke-width="1" stroke-dasharray="1 1.3"/>
<circle cx="723.5" cy="169.9" r="6.6" fill="#d0c8e8" stroke="#000" stroke-width="1" stroke-dasharray="1 1.3"/>
<circle cx="708.9" cy="155.2" r="6.3" fill="#c8c0a8" stroke="#000" stroke-width="0.8" stroke-dasharray="1 1.3"/>
<rect x="204.5" y="389.0" width="51.0" height="51.0" rx="5" fill="none" stroke="#e8ffff" stroke-width="1.1"/>
<path d="M230.0 414.5L219.1 403.5" stroke="#000" stroke-width="4.0" fill="none" stroke-linejoin="round"/>
<path d="M230.0 414.5L219.1 425.5" stroke="#000" stroke-width="4.0" fill="none" stroke-linejoin="round"/>
<path d="M230.0 414.5L240.9 403.5" stroke="#000" stroke-width="4.0" fill="none" stroke-linejoin="round"/>
<path d="M230.0 414.5L240.9 425.5" stroke="#000" stroke-width="4.0" fill="none" stroke-linejoin="round"/>
<circle cx="215.4" cy="399.8" r="6.6" fill="#d0c8e8" stroke="#000" stroke-width="1" stroke-dasharray="1 1.3"/>
<circle cx="215.4" cy="429.2" r="6.6" fill="#d0c8e8" stroke="#000" stroke-width="1" stroke-dasharray="1 1.3"/>
<circle cx="244.6" cy="399.8" r="6.6" fill="#d0c8e8" stroke="#000" stroke-width="1" stroke-dasharray="1 1.3"/>
<circle cx="244.6" cy="429.2" r="6.6" fill="#d0c8e8" stroke="#000" stroke-width="1" stroke-dasharray="1 1.3"/>
<circle cx="230.0" cy="414.5" r="6.3" fill="#c8c0a8" stroke="#000" stroke-width="0.8" stroke-dasharray="1 1.3"/>
<rect x="204.5" y="533.5" width="51.0" height="51.0" rx="5" fill="none" stroke="#e8ffff" stroke-width="1.1"/>
<path d="M230.0 559.0L219.1 548.0" stroke="#000" stroke-width="4.0" fill="none" stroke-linejoin="round"/>
<path d="M230.0 559.0L219.1 570.0" stroke="#000" stroke-width="4.0" fill="none" stroke-linejoin="round"/>
<path d="M230.0 559.0L240.9 548.0" stroke="#000" stroke-width="4.0" fill="none" stroke-linejoin="round"/>
<path d="M230.0 559.0L240.9 570.0" stroke="#000" stroke-width="4.0" fill="none" stroke-linejoin="round"/>
<circle cx="215.4" cy="544.3" r="6.6" fill="#d0c8e8" stroke="#000" stroke-width="1" stroke-dasharray="1 1.3"/>
<circle cx="215.4" cy="573.7" r="6.6" fill="#d0c8e8" stroke="#000" stroke-width="1" stroke-dasharray="1 1.3"/>
<circle cx="244.6" cy="544.3" r="6.6" fill="#d0c8e8" stroke="#000" stroke-width="1" stroke-dasharray="1 1.3"/>
<circle cx="244.6" cy="573.7" r="6.6" fill="#d0c8e8" stroke="#000" stroke-width="1" stroke-dasharray="1 1.3"/>
<circle cx="230.0" cy="559.0" r="6.3" fill="#c8c0a8" stroke="#000" stroke-width="0.8" stroke-dasharray="1 1.3"/>
<rect x="665.2" y="388.5" width="51.0" height="51.0" rx="5" fill="none" stroke="#e8ffff" stroke-width="1.1"/>
<path d="M690.7 414.0L679.8 403.0" stroke="#000" stroke-width="4.0" fill="none" stroke-linejoin="round"/>
<path d="M690.7 414.0L679.8 425.0" stroke="#000" stroke-width="4.0" fill="none" stroke-linejoin="round"/>
<path d="M690.7 414.0L701.7 403.0" stroke="#000" stroke-width="4.0" fill="none" stroke-linejoin="round"/>
<path d="M690.7 414.0L701.7 425.0" stroke="#000" stroke-width="4.0" fill="none" stroke-linejoin="round"/>
<circle cx="676.1" cy="399.3" r="6.6" fill="#d0c8e8" stroke="#000" stroke-width="1" stroke-dasharray="1 1.3"/>
<circle cx="676.1" cy="428.7" r="6.6" fill="#d0c8e8" stroke="#000" stroke-width="1" stroke-dasharray="1 1.3"/>
<circle cx="705.3" cy="399.3" r="6.6" fill="#d0c8e8" stroke="#000" stroke-width="1" stroke-dasharray="1 1.3"/>
<circle cx="705.3" cy="428.7" r="6.6" fill="#d0c8e8" stroke="#000" stroke-width="1" stroke-dasharray="1 1.3"/>
<circle cx="690.7" cy="414.0" r="6.3" fill="#c8c0a8" stroke="#000" stroke-width="0.8" stroke-dasharray="1 1.3"/>
<rect x="665.5" y="532.0" width="51.0" height="51.0" rx="5" fill="none" stroke="#e8ffff" stroke-width="1.1"/>
<path d="M691.0 557.5L680.0 546.5" stroke="#000" stroke-width="4.0" fill="none" stroke-linejoin="round"/>
<path d="M691.0 557.5L680.0 568.5" stroke="#000" stroke-width="4.0" fill="none" stroke-linejoin="round"/>
<path d="M691.0 557.5L702.0 546.5" stroke="#000" stroke-width="4.0" fill="none" stroke-linejoin="round"/>
<path d="M691.0 557.5L702.0 568.5" stroke="#000" stroke-width="4.0" fill="none" stroke-linejoin="round"/>
<circle cx="676.4" cy="542.8" r="6.6" fill="#d0c8e8" stroke="#000" stroke-width="1" stroke-dasharray="1 1.3"/>
<circle cx="676.4" cy="572.2" r="6.6" fill="#d0c8e8" stroke="#000" stroke-width="1" stroke-dasharray="1 1.3"/>
<circle cx="705.6" cy="542.8" r="6.6" fill="#d0c8e8" stroke="#000" stroke-width="1" stroke-dasharray="1 1.3"/>
<circle cx="705.6" cy="572.2" r="6.6" fill="#d0c8e8" stroke="#000" stroke-width="1" stroke-dasharray="1 1.3"/>
<circle cx="691.0" cy="557.5" r="6.3" fill="#c8c0a8" stroke="#000" stroke-width="0.8" stroke-dasharray="1 1.3"/>
<rect x="243.6" y="854.5" width="51.0" height="51.0" rx="5" fill="none" stroke="#e8ffff" stroke-width="1.1"/>
<path d="M269.1 880.0L258.2 869.0" stroke="#000" stroke-width="4.0" fill="none" stroke-linejoin="round"/>
<path d="M269.1 880.0L258.2 891.0" stroke="#000" stroke-width="4.0" fill="none" stroke-linejoin="round"/>
<path d="M269.1 880.0L280.1 869.0" stroke="#000" stroke-width="4.0" fill="none" stroke-linejoin="round"/>
<path d="M269.1 880.0L280.1 891.0" stroke="#000" stroke-width="4.0" fill="none" stroke-linejoin="round"/>
<circle cx="254.5" cy="865.3" r="6.6" fill="#d0c8e8" stroke="#000" stroke-width="1" stroke-dasharray="1 1.3"/>
<circle cx="254.5" cy="894.7" r="6.6" fill="#d0c8e8" stroke="#000" stroke-width="1" stroke-dasharray="1 1.3"/>
<circle cx="283.7" cy="865.3" r="6.6" fill="#d0c8e8" stroke="#000" stroke-width="1" stroke-dasharray="1 1.3"/>
<circle cx="283.7" cy="894.7" r="6.6" fill="#d0c8e8" stroke="#000" stroke-width="1" stroke-dasharray="1 1.3"/>
<circle cx="269.1" cy="880.0" r="6.3" fill="#c8c0a8" stroke="#000" stroke-width="0.8" stroke-dasharray="1 1.3"/>
<rect x="308.5" y="854.5" width="51.0" height="51.0" rx="5" fill="none" stroke="#e8ffff" stroke-width="1.1"/>
<path d="M334.0 880.0L323.1 869.0" stroke="#000" stroke-width="4.0" fill="none" stroke-linejoin="round"/>
<path d="M334.0 880.0L323.1 891.0" stroke="#000" stroke-width="4.0" fill="none" stroke-linejoin="round"/>
<path d="M334.0 880.0L344.9 869.0" stroke="#000" stroke-width="4.0" fill="none" stroke-linejoin="round"/>
<path d="M334.0 880.0L344.9 891.0" stroke="#000" stroke-width="4.0" fill="none" stroke-linejoin="round"/>
<circle cx="319.4" cy="865.3" r="6.6" fill="#d0c8e8" stroke="#000" stroke-width="1" stroke-dasharray="1 1.3"/>
<circle cx="319.4" cy="894.7" r="6.6" fill="#d0c8e8" stroke="#000" stroke-width="1" stroke-dasharray="1 1.3"/>
<circle cx="348.6" cy="865.3" r="6.6" fill="#d0c8e8" stroke="#000" stroke-width="1" stroke-dasharray="1 1.3"/>
<circle cx="348.6" cy="894.7" r="6.6" fill="#d0c8e8" stroke="#000" stroke-width="1" stroke-dasharray="1 1.3"/>
<circle cx="334.0" cy="880.0" r="6.3" fill="#c8c0a8" stroke="#000" stroke-width="0.8" stroke-dasharray="1 1.3"/>
<circle cx="201.0" cy="82.6" r="11.3" fill="#d0c8e8"/>
<rect x="182.0" y="72.6" width="37.0" height="20.0" rx="0" fill="#ffffff"/>
<text x="200.7" y="88.9" font-family="Liberation Sans" font-weight="bold" font-size="16.5" fill="#000" text-anchor="middle" textLength="34" lengthAdjust="spacingAndGlyphs">GND</text>
<circle cx="720.0" cy="83.0" r="11.3" fill="#d0c8e8"/>
<rect x="701.0" y="73.0" width="37.0" height="20.0" rx="0" fill="#ffffff"/>
<text x="719.7" y="89.3" font-family="Liberation Sans" font-weight="bold" font-size="16.5" fill="#000" text-anchor="middle" textLength="34" lengthAdjust="spacingAndGlyphs">GND</text>
<circle cx="201.0" cy="891.3" r="11.3" fill="#d0c8e8"/>
<rect x="182.0" y="881.3" width="37.0" height="20.0" rx="0" fill="#ffffff"/>
<text x="200.7" y="897.6" font-family="Liberation Sans" font-weight="bold" font-size="16.5" fill="#000" text-anchor="middle" textLength="34" lengthAdjust="spacingAndGlyphs">GND</text>
<circle cx="720.0" cy="891.3" r="11.3" fill="#d0c8e8"/>
<rect x="701.0" y="881.3" width="37.0" height="20.0" rx="0" fill="#ffffff"/>
<text x="719.7" y="897.6" font-family="Liberation Sans" font-weight="bold" font-size="16.5" fill="#000" text-anchor="middle" textLength="34" lengthAdjust="spacingAndGlyphs">GND</text>
<path d="M231.6 59.5L234.3 59.5M233.5 59.5L233.5 64.9L232.4 66.0L231.1 66.0L230.0 64.9M236.0 60.6L237.0 59.5L239.2 59.5L240.3 60.6L240.3 61.7L239.2 62.8L240.3 63.8L240.3 64.9L239.2 66.0L237.0 66.0L236.0 64.9M237.6 62.8L239.2 62.8M241.9 60.6L243.0 59.5L245.2 59.5L246.2 60.6L246.2 61.7L241.9 66.0L246.2 66.0" stroke="#ffffff" stroke-width="1.00" fill="none" stroke-linecap="round" stroke-linejoin="round"/>
<path d="M255.0 66.0L255.0 60.3L258.0 57.0L261.0 60.3L261.0 66.0M255.0 62.7L261.0 62.7M263.2 66.0L263.2 57.0L269.2 66.0L269.2 57.0M271.5 57.0L277.5 57.0M274.5 57.0L274.5 66.0M279.8 58.5L281.2 57.0L284.2 57.0L285.8 58.5L285.8 60.0L279.8 66.0L285.8 66.0" stroke="#ffffff" stroke-width="1.10" fill="none" stroke-linecap="round" stroke-linejoin="round"/>
<path d="M428.6 59.5L431.3 59.5M430.5 59.5L430.5 64.9L429.4 66.0L428.1 66.0L427.0 64.9M433.0 60.6L434.0 59.5L436.2 59.5L437.3 60.6L437.3 61.7L436.2 62.8L437.3 63.8L437.3 64.9L436.2 66.0L434.0 66.0L433.0 64.9M434.6 62.8L436.2 62.8M440.0 60.6L441.1 59.5L441.1 66.0M440.0 66.0L442.2 66.0" stroke="#ffffff" stroke-width="1.00" fill="none" stroke-linecap="round" stroke-linejoin="round"/>
<path d="M453.0 66.0L453.0 60.3L456.0 57.0L459.0 60.3L459.0 66.0M453.0 62.7L459.0 62.7M461.2 66.0L461.2 57.0L467.2 66.0L467.2 57.0M469.5 57.0L475.5 57.0M472.5 57.0L472.5 66.0M479.2 58.5L480.8 57.0L480.8 66.0M479.2 66.0L482.2 66.0" stroke="#ffffff" stroke-width="1.10" fill="none" stroke-linecap="round" stroke-linejoin="round"/>
<path d="M237.0 137.0L237.0 128.0L241.8 128.0L243.0 129.2L243.0 131.3L241.8 132.5L237.0 132.5M239.7 132.5L243.0 137.0M251.2 128.0L245.2 128.0L245.2 137.0M245.2 132.5L249.4 132.5M254.2 132.5L258.8 132.5M261.8 137.0L261.8 131.3L264.8 128.0L267.8 131.3L267.8 137.0M261.8 133.7L267.8 133.7M270.0 137.0L270.0 128.0L276.0 137.0L276.0 128.0M278.2 128.0L284.2 128.0M281.2 128.0L281.2 137.0" stroke="#ffffff" stroke-width="1.10" fill="none" stroke-linecap="round" stroke-linejoin="round"/>
<path d="M629.0 65.5L629.0 56.5L633.8 56.5L635.0 57.7L635.0 59.8L633.8 61.0L629.0 61.0M631.7 61.0L635.0 65.5M636.9 56.5L643.6 65.5M643.6 56.5L636.9 65.5M645.5 66.4L651.5 66.4M653.8 65.5L653.8 59.8L656.8 56.5L659.8 59.8L659.8 65.5M653.8 62.2L659.8 62.2M662.0 56.5L668.0 56.5M665.0 56.5L665.0 65.5M670.2 56.5L676.2 56.5M673.2 56.5L673.2 65.5M684.5 56.5L678.5 56.5L678.5 65.5L684.5 65.5M678.5 61.0L682.7 61.0M686.8 65.5L686.8 56.5L692.8 65.5L692.8 56.5" stroke="#ffffff" stroke-width="1.10" fill="none" stroke-linecap="round" stroke-linejoin="round"/>
<path d="M688.0 72.0L687.0 71.0L685.0 71.0L684.0 72.0L684.0 73.0L685.0 74.0L687.0 74.0L688.0 75.0L688.0 76.0L687.0 77.0L685.0 77.0L684.0 76.0M689.5 72.0L690.5 71.0L692.5 71.0L693.5 72.0L693.5 73.0L692.5 74.0L693.5 75.0L693.5 76.0L692.5 77.0L690.5 77.0L689.5 76.0M691.0 74.0L692.5 74.0" stroke="#ffffff" stroke-width="1.00" fill="none" stroke-linecap="round" stroke-linejoin="round"/>
<path d="M687.6 109.0L690.3 109.0M689.5 109.0L689.5 114.4L688.4 115.5L687.1 115.5L686.0 114.4M692.0 110.1L693.0 109.0L695.2 109.0L696.3 110.1L696.3 111.2L695.2 112.2L696.3 113.3L696.3 114.4L695.2 115.5L693.0 115.5L692.0 114.4M693.6 112.2L695.2 112.2M699.0 109.0L701.2 109.0L702.2 110.1L702.2 114.4L701.2 115.5L699.0 115.5L697.9 114.4L697.9 110.1L699.0 109.0" stroke="#ffffff" stroke-width="1.00" fill="none" stroke-linecap="round" stroke-linejoin="round"/>
<path d="M684.0 127.5L684.0 118.5L688.8 118.5L690.0 119.7L690.0 121.8L688.8 123.0L684.0 123.0M686.7 123.0L690.0 127.5M691.9 118.5L698.6 127.5M698.6 118.5L691.9 127.5M714.8 120.0L713.2 118.5L710.2 118.5L708.8 120.0L708.8 121.5L710.2 123.0L713.2 123.0L714.8 124.5L714.8 126.0L713.2 127.5L710.2 127.5L708.8 126.0M718.5 118.5L721.5 118.5M720.0 118.5L720.0 127.5M718.5 127.5L721.5 127.5M731.2 120.0L729.8 118.5L726.8 118.5L725.2 120.0L725.2 126.0L726.8 127.5L729.8 127.5L731.2 126.0L731.2 123.8L729.0 123.8" stroke="#ffffff" stroke-width="1.10" fill="none" stroke-linecap="round" stroke-linejoin="round"/>
<path d="M307.0 74.1L307.0 69.1L319.0 69.1L319.0 74.1" stroke="#e8ffff" stroke-width="2.2" fill="none" stroke-linejoin="round"/>
<path d="M307.0 95.1L307.0 100.1L319.0 100.1L319.0 95.1" stroke="#e8ffff" stroke-width="2.2" fill="none" stroke-linejoin="round"/>
<rect x="309.0" y="71.6" width="8.0" height="7.5" rx="0" fill="#10e0f8"/>
<rect x="309.0" y="90.1" width="8.0" height="7.5" rx="0" fill="#10e0f8"/>
<path d="M316.5 81.6L310.5 81.6L312.2 83.6L310.5 85.6L316.5 85.6" stroke="#e8ffff" stroke-width="1.10" fill="none" stroke-linecap="round" stroke-linejoin="round"/>
<path d="M357.5 74.1L357.5 69.1L369.5 69.1L369.5 74.1" stroke="#e8ffff" stroke-width="2.2" fill="none" stroke-linejoin="round"/>
<path d="M357.5 95.1L357.5 100.1L369.5 100.1L369.5 95.1" stroke="#e8ffff" stroke-width="2.2" fill="none" stroke-linejoin="round"/>
<rect x="359.5" y="71.6" width="8.0" height="7.5" rx="0" fill="#10e0f8"/>
<rect x="359.5" y="90.1" width="8.0" height="7.5" rx="0" fill="#10e0f8"/>
<path d="M367.0 81.6L361.0 81.6L362.7 83.6L361.0 85.6L367.0 85.6" stroke="#e8ffff" stroke-width="1.10" fill="none" stroke-linecap="round" stroke-linejoin="round"/>
<path d="M411.8 74.1L411.8 69.1L423.8 69.1L423.8 74.1" stroke="#e8ffff" stroke-width="2.2" fill="none" stroke-linejoin="round"/>
<path d="M411.8 95.1L411.8 100.1L423.8 100.1L423.8 95.1" stroke="#e8ffff" stroke-width="2.2" fill="none" stroke-linejoin="round"/>
<rect x="413.8" y="71.6" width="8.0" height="7.5" rx="0" fill="#10e0f8"/>
<rect x="413.8" y="90.1" width="8.0" height="7.5" rx="0" fill="#10e0f8"/>
<path d="M421.3 81.6L415.3 81.6L417.0 83.6L415.3 85.6L421.3 85.6" stroke="#e8ffff" stroke-width="1.10" fill="none" stroke-linecap="round" stroke-linejoin="round"/>
<path d="M335.8 96.0L335.8 91.0L347.8 91.0L347.8 96.0" stroke="#e8ffff" stroke-width="2.2" fill="none" stroke-linejoin="round"/>
<path d="M335.8 117.0L335.8 122.0L347.8 122.0L347.8 117.0" stroke="#e8ffff" stroke-width="2.2" fill="none" stroke-linejoin="round"/>
<rect x="337.8" y="93.5" width="8.0" height="7.5" rx="0" fill="#10e0f8"/>
<rect x="337.8" y="112.0" width="8.0" height="7.5" rx="0" fill="#10e0f8"/>
<path d="M345.3 103.5L339.3 103.5L341.0 105.5L339.3 107.5L345.3 107.5" stroke="#e8ffff" stroke-width="1.10" fill="none" stroke-linecap="round" stroke-linejoin="round"/>
<path d="M379.0 96.0L379.0 91.0L391.0 91.0L391.0 96.0" stroke="#e8ffff" stroke-width="2.2" fill="none" stroke-linejoin="round"/>
<path d="M379.0 117.0L379.0 122.0L391.0 122.0L391.0 117.0" stroke="#e8ffff" stroke-width="2.2" fill="none" stroke-linejoin="round"/>
<rect x="381.0" y="93.5" width="8.0" height="7.5" rx="0" fill="#10e0f8"/>
<rect x="381.0" y="112.0" width="8.0" height="7.5" rx="0" fill="#10e0f8"/>
<path d="M388.5 103.5L382.5 103.5L384.2 105.5L382.5 107.5L388.5 107.5" stroke="#e8ffff" stroke-width="1.10" fill="none" stroke-linecap="round" stroke-linejoin="round"/>
<path d="M357.5 117.5L357.5 112.5L369.5 112.5L369.5 117.5" stroke="#e8ffff" stroke-width="2.2" fill="none" stroke-linejoin="round"/>
<path d="M357.5 138.5L357.5 143.5L369.5 143.5L369.5 138.5" stroke="#e8ffff" stroke-width="2.2" fill="none" stroke-linejoin="round"/>
<rect x="359.5" y="115.0" width="8.0" height="7.5" rx="0" fill="#10e0f8"/>
<rect x="359.5" y="133.5" width="8.0" height="7.5" rx="0" fill="#10e0f8"/>
<path d="M367.0 125.0L361.0 125.0L362.7 127.0L361.0 129.0L367.0 129.0" stroke="#e8ffff" stroke-width="1.10" fill="none" stroke-linecap="round" stroke-linejoin="round"/>
<path d="M356.0 66.5L356.0 60.0L359.5 60.0L360.3 60.9L360.3 62.4L359.5 63.2L356.0 63.2M357.9 63.2L360.3 66.5M366.3 61.1L365.2 60.0L363.0 60.0L362.0 61.1L362.0 65.4L363.0 66.5L365.2 66.5L366.3 65.4L366.3 64.3L365.2 63.2L362.0 63.2M369.0 61.1L370.1 60.0L370.1 66.5M369.0 66.5L371.2 66.5" stroke="#ffffff" stroke-width="1.00" fill="none" stroke-linecap="round" stroke-linejoin="round"/>
<path d="M311.5 103.5L318.0 103.5L318.0 107.0L317.1 107.8L315.6 107.8L314.8 107.0L314.8 103.5M314.8 105.5L311.5 107.8M316.9 113.8L318.0 112.7L318.0 110.5L316.9 109.5L312.6 109.5L311.5 110.5L311.5 112.7L312.6 113.8L313.7 113.8L314.8 112.7L314.8 109.5M318.0 119.8L318.0 115.4L314.8 115.4L314.8 118.7L313.7 119.8L312.6 119.8L311.5 118.7L311.5 116.5L312.6 115.4" stroke="#ffffff" stroke-width="1.00" fill="none" stroke-linecap="round" stroke-linejoin="round"/>
<path d="M339.5 125.0L346.0 125.0L346.0 128.5L345.1 129.3L343.6 129.3L342.8 128.5L342.8 125.0M342.8 127.0L339.5 129.3M344.9 135.3L346.0 134.2L346.0 132.0L344.9 131.0L340.6 131.0L339.5 132.0L339.5 134.2L340.6 135.3L341.7 135.3L342.8 134.2L342.8 131.0M339.5 140.2L346.0 140.2L341.7 136.9L341.7 141.2" stroke="#ffffff" stroke-width="1.00" fill="none" stroke-linecap="round" stroke-linejoin="round"/>
<path d="M383.0 125.0L389.5 125.0L389.5 128.5L388.6 129.3L387.1 129.3L386.2 128.5L386.2 125.0M386.2 127.0L383.0 129.3M388.4 135.3L389.5 134.2L389.5 132.0L388.4 131.0L384.1 131.0L383.0 132.0L383.0 134.2L384.1 135.3L385.2 135.3L386.2 134.2L386.2 131.0M388.4 136.9L389.5 138.0L389.5 140.2L388.4 141.2L387.3 141.2L383.0 136.9L383.0 141.2" stroke="#ffffff" stroke-width="1.00" fill="none" stroke-linecap="round" stroke-linejoin="round"/>
<path d="M415.5 103.5L422.0 103.5L422.0 107.0L421.1 107.8L419.6 107.8L418.8 107.0L418.8 103.5M418.8 105.5L415.5 107.8M420.9 113.8L422.0 112.7L422.0 110.5L420.9 109.5L416.6 109.5L415.5 110.5L415.5 112.7L416.6 113.8L417.7 113.8L418.8 112.7L418.8 109.5M420.9 115.4L422.0 116.5L422.0 118.7L420.9 119.8L419.8 119.8L418.8 118.7L417.7 119.8L416.6 119.8L415.5 118.7L415.5 116.5L416.6 115.4M418.8 117.0L418.8 118.7" stroke="#ffffff" stroke-width="1.00" fill="none" stroke-linecap="round" stroke-linejoin="round"/>
<path d="M361.5 146.0L368.0 146.0L368.0 149.5L367.1 150.3L365.6 150.3L364.8 149.5L364.8 146.0M364.8 147.9L361.5 150.3M366.9 152.0L368.0 153.0L368.0 155.2L366.9 156.3L365.8 156.3L361.5 152.0L361.5 156.3M366.9 162.2L368.0 161.2L368.0 159.0L366.9 157.9L362.6 157.9L361.5 159.0L361.5 161.2L362.6 162.2L363.7 162.2L364.8 161.2L364.8 157.9" stroke="#ffffff" stroke-width="1.00" fill="none" stroke-linecap="round" stroke-linejoin="round"/>
<path d="M291.0 79.8l3.2 3.2l-3.2 3.2l-3.2 -3.2z" fill="#d0c8e8"/>
<path d="M291.0 101.6l3.2 3.2l-3.2 3.2l-3.2 -3.2z" fill="#d0c8e8"/>
<path d="M324.0 71.8l3.2 3.2l-3.2 3.2l-3.2 -3.2z" fill="#d0c8e8"/>
<path d="M377.0 68.8l3.2 3.2l-3.2 3.2l-3.2 -3.2z" fill="#d0c8e8"/>
<path d="M401.0 99.8l3.2 3.2l-3.2 3.2l-3.2 -3.2z" fill="#d0c8e8"/>
<path d="M333.0 100.8l3.2 3.2l-3.2 3.2l-3.2 -3.2z" fill="#d0c8e8"/>
<path d="M328.0 143.8l3.2 3.2l-3.2 3.2l-3.2 -3.2z" fill="#d0c8e8"/>
<path d="M403.0 143.8l3.2 3.2l-3.2 3.2l-3.2 -3.2z" fill="#d0c8e8"/>
<path d="M351.0 151.8l3.2 3.2l-3.2 3.2l-3.2 -3.2z" fill="#d0c8e8"/>
<path d="M397.0 71.8l3.2 3.2l-3.2 3.2l-3.2 -3.2z" fill="#d0c8e8"/>
<path d="M434.0 77.8l3.2 3.2l-3.2 3.2l-3.2 -3.2z" fill="#d0c8e8"/>
<path d="M434.0 99.8l3.2 3.2l-3.2 3.2l-3.2 -3.2z" fill="#d0c8e8"/>
<rect x="244.3" y="141.2" width="29.3" height="42.6" rx="0" fill="none" stroke="#e8ffff" stroke-width="1"/>
<path d="M252.2 141.2L252.2 183.8" stroke="#e8ffff" stroke-width="1.0" fill="none" stroke-linejoin="round"/>
<path d="M266.0 141.2L266.0 183.8" stroke="#e8ffff" stroke-width="1.0" fill="none" stroke-linejoin="round"/>
<rect x="254.0" y="142.5" width="9.5" height="9.5" rx="0" fill="#d0c8e8" stroke="#000" stroke-width="1"/>
<circle cx="258.7" cy="161.5" r="4.6" fill="#d0c8e8" stroke="#000" stroke-width="0.8" stroke-dasharray="1 1"/>
<circle cx="258.7" cy="176.4" r="4.6" fill="#d0c8e8" stroke="#000" stroke-width="0.8" stroke-dasharray="1 1"/>
<path d="M248.0 185.0L252.0 185.0M250.0 185.0L250.0 191.0M253.5 191.0L253.5 185.0L256.7 185.0L257.5 185.8L257.5 187.2L256.7 188.0L253.5 188.0M263.0 185.0L259.0 185.0L259.0 188.0L262.0 188.0L263.0 189.0L263.0 190.0L262.0 191.0L260.0 191.0L259.0 190.0" stroke="#ffffff" stroke-width="1.00" fill="none" stroke-linecap="round" stroke-linejoin="round"/>
<path d="M292.9 160.7L292.9 155.7L304.9 155.7L304.9 160.7" stroke="#e8ffff" stroke-width="2.2" fill="none" stroke-linejoin="round"/>
<path d="M292.9 181.7L292.9 186.7L304.9 186.7L304.9 181.7" stroke="#e8ffff" stroke-width="2.2" fill="none" stroke-linejoin="round"/>
<rect x="294.9" y="158.2" width="8.0" height="7.5" rx="0" fill="#10e0f8"/>
<rect x="294.9" y="176.7" width="8.0" height="7.5" rx="0" fill="#10e0f8"/>
<path d="M302.4 168.2L296.4 168.2L298.1 170.2L296.4 172.2L302.4 172.2" stroke="#e8ffff" stroke-width="1.10" fill="none" stroke-linecap="round" stroke-linejoin="round"/>
<path d="M291.0 154.5L291.0 148.0L294.5 148.0L295.3 148.9L295.3 150.4L294.5 151.2L291.0 151.2M292.9 151.2L295.3 154.5M297.0 149.1L298.0 148.0L300.2 148.0L301.3 149.1L301.3 150.2L297.0 154.5L301.3 154.5M302.9 148.0L307.2 148.0L304.5 154.5" stroke="#ffffff" stroke-width="1.00" fill="none" stroke-linecap="round" stroke-linejoin="round"/>
<path d="M312.8 172.0L311.8 171.0L309.8 171.0L308.8 172.0L308.8 176.0L309.8 177.0L311.8 177.0L312.8 176.0L312.8 174.5L311.3 174.5M314.3 177.0L314.3 171.0L317.5 171.0L318.3 171.8L318.3 173.2L317.5 174.0L314.3 174.0M320.8 174.0L319.8 173.0L319.8 172.0L320.8 171.0L322.8 171.0L323.8 172.0L323.8 173.0L322.8 174.0L320.8 174.0L319.8 175.0L319.8 176.0L320.8 177.0L322.8 177.0L323.8 176.0L323.8 175.0L322.8 174.0" stroke="#8fb4f4" stroke-width="1.00" fill="none" stroke-linecap="round" stroke-linejoin="round"/>
<path d="M316.3 183.6L315.2 182.5L313.1 182.5L312.0 183.6L312.0 187.9L313.1 189.0L315.2 189.0L316.3 187.9L316.3 186.3L314.7 186.3M318.0 189.0L318.0 182.5L322.3 189.0L322.3 182.5M323.9 182.5L323.9 189.0L326.9 189.0L328.2 187.7L328.2 183.8L326.9 182.5L323.9 182.5" stroke="#ffffff" stroke-width="1.00" fill="none" stroke-linecap="round" stroke-linejoin="round"/>
<rect x="312.5" y="190.5" width="16.5" height="16.5" rx="2.5" fill="#f0f8ff"/>
<rect x="315.0" y="193.0" width="11.5" height="11.5" rx="0" fill="#c8c0a8"/>
<path d="M315.0 204.5L326.5 204.5L326.5 193.0" stroke="#202020" stroke-width="1.2" fill="none" stroke-linejoin="round"/>
<path d="M460.0 170.5L459.0 169.5L457.0 169.5L456.0 170.5L456.0 174.5L457.0 175.5L459.0 175.5L460.0 174.5L460.0 173.0L458.5 173.0M461.5 175.5L461.5 169.5L464.7 169.5L465.5 170.3L465.5 171.7L464.7 172.5L461.5 172.5M467.0 169.5L471.0 169.5L468.5 175.5" stroke="#8fb4f4" stroke-width="1.00" fill="none" stroke-linecap="round" stroke-linejoin="round"/>
<path d="M460.3 183.1L459.2 182.0L457.1 182.0L456.0 183.1L456.0 187.4L457.1 188.5L459.2 188.5L460.3 187.4L460.3 185.8L458.7 185.8M462.0 188.5L462.0 182.0L466.3 188.5L466.3 182.0M467.9 182.0L467.9 188.5L470.9 188.5L472.2 187.2L472.2 183.3L470.9 182.0L467.9 182.0" stroke="#ffffff" stroke-width="1.00" fill="none" stroke-linecap="round" stroke-linejoin="round"/>
<rect x="456.5" y="190.8" width="16.0" height="16.5" rx="2.5" fill="#f0f8ff"/>
<rect x="459.0" y="193.3" width="11.0" height="11.5" rx="0" fill="#c8c0a8"/>
<path d="M459.0 204.8L470.0 204.8L470.0 193.3" stroke="#202020" stroke-width="1.2" fill="none" stroke-linejoin="round"/>
<rect x="532.0" y="85.7" width="21.6" height="23.5" rx="1.5" fill="none" stroke="#e8ffff" stroke-width="2"/>
<rect x="533.8" y="87.5" width="5.6" height="19.5" rx="0" fill="#10e0f8"/>
<rect x="541.3" y="87.5" width="9.4" height="19.5" rx="0" fill="#10e0f8"/>
<path d="M536.9 75.4L536.0 74.5L534.3 74.5L533.4 75.4L533.4 78.8L534.3 79.7L536.0 79.7L536.9 78.8M539.3 75.4L540.2 74.5L540.2 79.7M539.3 79.7L541.0 79.7M544.3 74.5L546.1 74.5L546.9 75.4L546.9 78.8L546.1 79.7L544.3 79.7L543.5 78.8L543.5 75.4L544.3 74.5M551.9 74.5L548.5 74.5L548.5 77.1L551.1 77.1L551.9 78.0L551.9 78.8L551.1 79.7L549.3 79.7L548.5 78.8" stroke="#ffffff" stroke-width="0.90" fill="none" stroke-linecap="round" stroke-linejoin="round"/>
<path d="M573.3 71.7L574.1 70.8L574.1 76.0M573.3 76.0L575.0 76.0M577.2 76.0L577.2 70.8L580.6 76.0L580.6 70.8M584.5 76.0L584.5 70.8L581.9 74.3L585.4 74.3M587.6 71.7L588.4 70.8L588.4 76.0M587.6 76.0L589.3 76.0M594.1 76.0L594.1 70.8L591.5 74.3L594.9 74.3M597.1 73.4L596.2 72.5L596.2 71.7L597.1 70.8L598.8 70.8L599.7 71.7L599.7 72.5L598.8 73.4L597.1 73.4L596.2 74.3L596.2 75.1L597.1 76.0L598.8 76.0L599.7 75.1L599.7 74.3L598.8 73.4M601.0 70.8L601.0 76.0L602.7 74.5L604.5 76.0L604.5 70.8" stroke="#8fb4f4" stroke-width="0.90" fill="none" stroke-linecap="round" stroke-linejoin="round"/>
<rect x="577.0" y="92.5" width="27.0" height="9.5" rx="3" fill="#0000e0" stroke="#0000a0" stroke-width="1"/>
<path d="M583.0 92.5L604.0 92.5" stroke="#e8ffff" stroke-width="1.0" fill="none" stroke-linejoin="round"/>
<path d="M583.0 102.0L604.0 102.0" stroke="#e8ffff" stroke-width="1.0" fill="none" stroke-linejoin="round"/>
<path d="M586.5 92.5L586.5 102.0" stroke="#e8ffff" stroke-width="1.8" fill="none" stroke-linejoin="round"/>
<path d="M565.2 95.4L565.2 101.2L567.9 101.2L569.1 100.0L569.1 96.6L567.9 95.4L565.2 95.4M570.5 96.4L571.5 95.4L573.4 95.4L574.4 96.4L574.4 97.3L573.4 98.3L574.4 99.3L574.4 100.2L573.4 101.2L571.5 101.2L570.5 100.2M572.0 98.3L573.4 98.3" stroke="#ffffff" stroke-width="1.00" fill="none" stroke-linecap="round" stroke-linejoin="round"/>
<path d="M594.0 107.0L594.0 112.2M597.5 107.0L594.0 110.5M595.3 109.2L597.5 112.2M599.6 107.9L600.5 107.0L600.5 112.2M599.6 112.2L601.4 112.2" stroke="#ffffff" stroke-width="1.00" fill="none" stroke-linecap="round" stroke-linejoin="round"/>
<path d="M557.0 86.8l3.2 3.2l-3.2 3.2l-3.2 -3.2z" fill="#d0c8e8"/>
<path d="M557.0 101.8l3.2 3.2l-3.2 3.2l-3.2 -3.2z" fill="#d0c8e8"/>
<path d="M587.0 79.8l3.2 3.2l-3.2 3.2l-3.2 -3.2z" fill="#d0c8e8"/>
<path d="M587.0 108.8l3.2 3.2l-3.2 3.2l-3.2 -3.2z" fill="#d0c8e8"/>
<path d="M540.0 111.8l3.2 3.2l-3.2 3.2l-3.2 -3.2z" fill="#d0c8e8"/>
<path d="M522.0 143.8l3.2 3.2l-3.2 3.2l-3.2 -3.2z" fill="#d0c8e8"/>
<path d="M522.0 165.8l3.2 3.2l-3.2 3.2l-3.2 -3.2z" fill="#d0c8e8"/>
<path d="M565.0 139.8l3.2 3.2l-3.2 3.2l-3.2 -3.2z" fill="#d0c8e8"/>
<path d="M618.0 139.8l3.2 3.2l-3.2 3.2l-3.2 -3.2z" fill="#d0c8e8"/>
<path d="M590.0 169.8l3.2 3.2l-3.2 3.2l-3.2 -3.2z" fill="#d0c8e8"/>
<path d="M565.0 183.8l3.2 3.2l-3.2 3.2l-3.2 -3.2z" fill="#d0c8e8"/>
<path d="M626.0 176.8l3.2 3.2l-3.2 3.2l-3.2 -3.2z" fill="#d0c8e8"/>
<path d="M631.0 129.8l3.2 3.2l-3.2 3.2l-3.2 -3.2z" fill="#d0c8e8"/>
<path d="M565.0 209.8l3.2 3.2l-3.2 3.2l-3.2 -3.2z" fill="#d0c8e8"/>
<path d="M633.0 110.8l3.2 3.2l-3.2 3.2l-3.2 -3.2z" fill="#d0c8e8"/>
<path d="M652.0 110.8l3.2 3.2l-3.2 3.2l-3.2 -3.2z" fill="#d0c8e8"/>
<path d="M633.0 129.8l3.2 3.2l-3.2 3.2l-3.2 -3.2z" fill="#d0c8e8"/>
<path d="M646.0 137.8l3.2 3.2l-3.2 3.2l-3.2 -3.2z" fill="#d0c8e8"/>
<path d="M677.0 137.8l3.2 3.2l-3.2 3.2l-3.2 -3.2z" fill="#d0c8e8"/>
<path d="M673.0 164.8l3.2 3.2l-3.2 3.2l-3.2 -3.2z" fill="#d0c8e8"/>
<path d="M630.0 176.8l3.2 3.2l-3.2 3.2l-3.2 -3.2z" fill="#d0c8e8"/>
<path d="M560 140 L577 140 L577 148 L560 148z M608 140 L625 140 L625 148 L608 148z" fill="#0000e0"/>
<path d="M577.0 116.8L608.0 116.8" stroke="#e8ffff" stroke-width="0.9" fill="none" stroke-linejoin="round"/>
<path d="M577.0 177.0L608.0 177.0" stroke="#e8ffff" stroke-width="0.9" fill="none" stroke-linejoin="round"/>
<rect x="565.5" y="113.8" width="11.5" height="6.0" rx="0" fill="#e0f4f0"/>
<rect x="565.5" y="123.5" width="11.5" height="4.5" rx="0" fill="#10e0f8"/>
<rect x="565.5" y="131.0" width="11.5" height="8.0" rx="0" fill="#e0f4f0"/>
<rect x="565.5" y="141.3" width="11.5" height="4.5" rx="0" fill="#10e0f8"/>
<rect x="565.5" y="154.0" width="11.5" height="5.2" rx="0" fill="#10e0f8"/>
<rect x="565.5" y="166.6" width="11.5" height="5.2" rx="0" fill="#10e0f8"/>
<rect x="565.5" y="174.0" width="11.5" height="6.0" rx="0" fill="#e0f4f0"/>
<rect x="607.9" y="113.8" width="11.5" height="6.0" rx="0" fill="#e0f4f0"/>
<rect x="607.9" y="123.5" width="11.5" height="4.5" rx="0" fill="#10e0f8"/>
<rect x="607.9" y="131.0" width="11.5" height="8.0" rx="0" fill="#e0f4f0"/>
<rect x="607.9" y="141.3" width="11.5" height="4.5" rx="0" fill="#10e0f8"/>
<rect x="607.9" y="154.0" width="11.5" height="5.2" rx="0" fill="#10e0f8"/>
<rect x="607.9" y="166.6" width="11.5" height="5.2" rx="0" fill="#10e0f8"/>
<rect x="607.9" y="174.0" width="11.5" height="6.0" rx="0" fill="#e0f4f0"/>
<path d="M574 149 L610 149 L610 164 L574 164z" fill="#0818c0"/>
<rect x="575.0" y="149.0" width="35.0" height="15.0" rx="2" fill="none" stroke="#e8ffff" stroke-width="2.2"/>
<rect x="580.0" y="152.5" width="9.0" height="8.0" rx="0" fill="#10e0f8"/>
<rect x="596.0" y="152.5" width="9.0" height="8.0" rx="0" fill="#10e0f8"/>
<rect x="589.0" y="154.5" width="7.0" height="4.0" rx="0" fill="#e0f0ff"/>
<path d="M580.0 126.9L583.2 126.9M581.6 125.3L581.6 128.5" stroke="#ffffff" stroke-width="0.90" fill="none" stroke-linecap="round" stroke-linejoin="round"/>
<path d="M583.0 141.0L583.0 135.5L585.9 135.5L586.7 136.2L586.7 137.5L585.9 138.2L583.0 138.2M584.6 138.2L586.7 141.0M590.8 141.0L590.8 135.5L588.0 139.2L591.7 139.2M595.8 141.0L595.8 135.5L593.1 139.2L596.8 139.2" stroke="#ffffff" stroke-width="0.90" fill="none" stroke-linecap="round" stroke-linejoin="round"/>
<path d="M589.0 149.0L589.0 143.0L593.0 149.0L593.0 143.0M598.5 144.0L597.5 143.0L595.5 143.0L594.5 144.0L594.5 148.0L595.5 149.0L597.5 149.0L598.5 148.0" stroke="#ffffff" stroke-width="1.00" fill="none" stroke-linecap="round" stroke-linejoin="round"/>
<path d="M553.3 154.1L552.2 153.0L550.1 153.0L549.0 154.1L549.0 158.4L550.1 159.5L552.2 159.5L553.3 158.4M556.0 153.0L558.2 153.0L559.3 154.1L559.3 158.4L558.2 159.5L556.0 159.5L555.0 158.4L555.0 154.1L556.0 153.0M560.9 159.5L560.9 153.0L563.1 156.2L565.2 153.0L565.2 159.5" stroke="#ffffff" stroke-width="1.00" fill="none" stroke-linecap="round" stroke-linejoin="round"/>
<path d="M590.0 186.5L590.0 180.5L594.0 186.5L594.0 180.5M596.5 180.5L598.5 180.5L599.5 181.5L599.5 185.5L598.5 186.5L596.5 186.5L595.5 185.5L595.5 181.5L596.5 180.5" stroke="#ffffff" stroke-width="1.00" fill="none" stroke-linecap="round" stroke-linejoin="round"/>
<path d="M590.0 162.5L590.0 167.5L592.3 167.5L593.3 166.5L593.3 163.5L592.3 162.5L590.0 162.5" stroke="#ffffff" stroke-width="0.90" fill="none" stroke-linecap="round" stroke-linejoin="round"/>
<path d="M527.5 119.7L522.5 119.7L522.5 131.7L527.5 131.7" stroke="#e8ffff" stroke-width="2.2" fill="none" stroke-linejoin="round"/>
<path d="M548.5 119.7L553.5 119.7L553.5 131.7L548.5 131.7" stroke="#e8ffff" stroke-width="2.2" fill="none" stroke-linejoin="round"/>
<rect x="525.0" y="121.7" width="7.5" height="8.0" rx="0" fill="#10e0f8"/>
<rect x="543.5" y="121.7" width="7.5" height="8.0" rx="0" fill="#10e0f8"/>
<path d="M535.0 122.2L535.0 128.7L537.2 126.9L539.3 128.7L539.3 122.2" stroke="#e8ffff" stroke-width="1.10" fill="none" stroke-linecap="round" stroke-linejoin="round"/>
<path d="M503.0 128.5L503.0 123.0L505.9 123.0L506.7 123.7L506.7 125.0L505.9 125.8L503.0 125.8M504.6 125.8L506.7 128.5M510.8 128.5L510.8 123.0L508.0 126.7L511.7 126.7M513.1 123.9L514.0 123.0L515.8 123.0L516.8 123.9L516.8 124.8L515.8 125.8L516.8 126.7L516.8 127.6L515.8 128.5L514.0 128.5L513.1 127.6M514.5 125.8L515.8 125.8" stroke="#ffffff" stroke-width="1.00" fill="none" stroke-linecap="round" stroke-linejoin="round"/>
<path d="M531.2 164.4L526.2 164.4L526.2 176.4L531.2 176.4" stroke="#e8ffff" stroke-width="2.2" fill="none" stroke-linejoin="round"/>
<path d="M552.2 164.4L557.2 164.4L557.2 176.4L552.2 176.4" stroke="#e8ffff" stroke-width="2.2" fill="none" stroke-linejoin="round"/>
<rect x="528.7" y="166.4" width="7.5" height="8.0" rx="0" fill="#10e0f8"/>
<rect x="547.2" y="166.4" width="7.5" height="8.0" rx="0" fill="#10e0f8"/>
<path d="M538.7 166.9L538.7 173.4L540.9 171.6L543.0 173.4L543.0 166.9" stroke="#e8ffff" stroke-width="1.10" fill="none" stroke-linecap="round" stroke-linejoin="round"/>
<path d="M535.0 184.3L535.0 178.5L538.1 178.5L538.9 179.3L538.9 180.6L538.1 181.4L535.0 181.4M536.7 181.4L538.9 184.3M543.2 184.3L543.2 178.5L540.3 182.4L544.2 182.4M545.6 179.5L546.6 178.5L548.5 178.5L549.5 179.5L549.5 180.4L545.6 184.3L549.5 184.3" stroke="#ffffff" stroke-width="1.00" fill="none" stroke-linecap="round" stroke-linejoin="round"/>
<path d="M531.3 160.8L530.5 160.0L528.8 160.0L528.0 160.8L528.0 164.2L528.8 165.0L530.5 165.0L531.3 164.2L531.3 163.3L530.5 162.5L528.0 162.5M533.4 160.0L535.1 160.0L535.9 160.8L535.9 164.2L535.1 165.0L533.4 165.0L532.6 164.2L532.6 160.8L533.4 160.0M538.6 164.8L539.1 164.8L539.1 165.0L538.6 165.0L538.6 164.8M544.2 165.0L544.2 160.0L541.8 163.3L545.1 163.3" stroke="#8fb4f4" stroke-width="0.90" fill="none" stroke-linecap="round" stroke-linejoin="round"/>
<path d="M581.8 193.4L576.8 193.4L576.8 205.4L581.8 205.4" stroke="#e8ffff" stroke-width="2.2" fill="none" stroke-linejoin="round"/>
<path d="M602.8 193.4L607.8 193.4L607.8 205.4L602.8 205.4" stroke="#e8ffff" stroke-width="2.2" fill="none" stroke-linejoin="round"/>
<rect x="579.3" y="195.4" width="7.5" height="8.0" rx="0" fill="#10e0f8"/>
<rect x="597.8" y="195.4" width="7.5" height="8.0" rx="0" fill="#10e0f8"/>
<path d="M589.3 195.9L589.3 202.4L591.5 200.6L593.6 202.4L593.6 195.9" stroke="#e8ffff" stroke-width="1.10" fill="none" stroke-linecap="round" stroke-linejoin="round"/>
<path d="M561.0 201.5L561.0 196.0L563.9 196.0L564.7 196.7L564.7 198.0L563.9 198.8L561.0 198.8M562.6 198.8L564.7 201.5M568.8 201.5L568.8 196.0L566.0 199.7L569.7 199.7M572.0 196.9L572.9 196.0L572.9 201.5M572.0 201.5L573.8 201.5" stroke="#ffffff" stroke-width="1.00" fill="none" stroke-linecap="round" stroke-linejoin="round"/>
<path d="M584.0 205.3L584.8 204.5L586.5 204.5L587.3 205.3L587.3 206.2L584.0 209.5L587.3 209.5M591.1 209.5L591.1 204.5L588.6 207.8L591.9 207.8M593.2 208.7L594.0 209.5L595.7 209.5L596.5 208.7L596.5 205.3L595.7 204.5L594.0 204.5L593.2 205.3L593.2 206.2L594.0 207.0L596.5 207.0" stroke="#8fb4f4" stroke-width="0.90" fill="none" stroke-linecap="round" stroke-linejoin="round"/>
<path d="M637.0 68.5L668.0 68.5" stroke="#e8ffff" stroke-width="1.0" fill="none" stroke-linejoin="round"/>
<path d="M637.0 108.0L668.0 108.0" stroke="#e8ffff" stroke-width="1.0" fill="none" stroke-linejoin="round"/>
<path d="M635.0 70.0L635.0 106.0" stroke="#e8ffff" stroke-width="1.0" fill="none" stroke-linejoin="round"/>
<path d="M669.0 70.0L669.0 106.0" stroke="#e8ffff" stroke-width="1.0" fill="none" stroke-linejoin="round"/>
<path d="M652.0 70.0L652.0 106.0" stroke="#e8ffff" stroke-width="1.0" fill="none" stroke-linejoin="round"/>
<path d="M652.0 82.8l3.2 3.2l-3.2 3.2l-3.2 -3.2z" fill="#d0c8e8"/>
<rect x="627.7" y="68.8" width="12.0" height="12.0" rx="0" fill="#d0c8e8" stroke="#000" stroke-width="1.5"/>
<rect x="664.4" y="68.8" width="12.0" height="12.0" rx="0" fill="#c8c0a8" stroke="#000" stroke-width="1.5"/>
<rect x="627.7" y="94.6" width="12.0" height="12.0" rx="0" fill="#c8c0a8" stroke="#000" stroke-width="1.5"/>
<rect x="664.4" y="94.6" width="12.0" height="12.0" rx="0" fill="#c8c0a8" stroke="#000" stroke-width="1.5"/>
<rect x="652.0" y="128.0" width="21.0" height="14.0" rx="0" fill="none" stroke="#e8ffff" stroke-width="0.9"/>
<path d="M657 131 L668 131 L668 142 L657 142z" fill="#0000e0"/>
<rect x="659.0" y="121.0" width="6.5" height="7.0" rx="0" fill="#10e0f8"/>
<rect x="653.0" y="135.0" width="7.0" height="7.0" rx="0" fill="#10e0f8"/>
<rect x="664.5" y="135.0" width="7.0" height="7.0" rx="0" fill="#10e0f8"/>
<path d="M660.9 114.0L662.8 114.0L663.7 114.9L663.7 118.6L662.8 119.5L660.9 119.5L660.0 118.6L660.0 114.9L660.9 114.0M662.3 118.1L663.7 119.5M665.0 114.9L666.0 114.0L667.8 114.0L668.7 114.9L668.7 115.8L667.8 116.8L668.7 117.7L668.7 118.6L667.8 119.5L666.0 119.5L665.0 118.6M666.4 116.8L667.8 116.8" stroke="#ffffff" stroke-width="1.00" fill="none" stroke-linecap="round" stroke-linejoin="round"/>
<path d="M640.0 163.6L635.0 163.6L635.0 175.6L640.0 175.6" stroke="#e8ffff" stroke-width="2.2" fill="none" stroke-linejoin="round"/>
<path d="M661.0 163.6L666.0 163.6L666.0 175.6L661.0 175.6" stroke="#e8ffff" stroke-width="2.2" fill="none" stroke-linejoin="round"/>
<rect x="637.5" y="165.6" width="7.5" height="8.0" rx="0" fill="#10e0f8"/>
<rect x="656.0" y="165.6" width="7.5" height="8.0" rx="0" fill="#10e0f8"/>
<path d="M647.5 166.1L647.5 172.6L649.7 170.8L651.8 172.6L651.8 166.1" stroke="#e8ffff" stroke-width="1.10" fill="none" stroke-linecap="round" stroke-linejoin="round"/>
<path d="M640.0 184.5L640.0 178.5L643.2 178.5L644.0 179.3L644.0 180.7L643.2 181.5L640.0 181.5M641.8 181.5L644.0 184.5M648.5 184.5L648.5 178.5L645.5 182.5L649.5 182.5M652.0 178.5L654.0 178.5L655.0 179.5L655.0 183.5L654.0 184.5L652.0 184.5L651.0 183.5L651.0 179.5L652.0 178.5" stroke="#ffffff" stroke-width="1.00" fill="none" stroke-linecap="round" stroke-linejoin="round"/>
<path d="M623.3 156.3L622.5 155.5L620.8 155.5L620.0 156.3L620.0 159.7L620.8 160.5L622.5 160.5L623.3 159.7L623.3 158.8L622.5 158.0L620.0 158.0M625.4 158.0L624.6 157.2L624.6 156.3L625.4 155.5L627.1 155.5L627.9 156.3L627.9 157.2L627.1 158.0L625.4 158.0L624.6 158.8L624.6 159.7L625.4 160.5L627.1 160.5L627.9 159.7L627.9 158.8L627.1 158.0M630.0 155.5L631.7 155.5L632.5 156.3L632.5 159.7L631.7 160.5L630.0 160.5L629.2 159.7L629.2 156.3L630.0 155.5M635.2 160.2L635.7 160.2L635.7 160.5L635.2 160.5L635.2 160.2M640.8 160.5L640.8 155.5L638.3 158.8L641.7 158.8" stroke="#8fb4f4" stroke-width="0.90" fill="none" stroke-linecap="round" stroke-linejoin="round"/>
<rect x="728.2" y="192.2" width="12.7" height="11.8" rx="0" fill="#0a7a6a"/>
<circle cx="333.6" cy="325.0" r="4.2" fill="#d0c8e8" stroke="#0000a0" stroke-width="1"/>
<circle cx="630.6" cy="325.1" r="4.2" fill="#d0c8e8" stroke="#0000a0" stroke-width="1"/>
<path d="M305.0 234.4l3.2 3.2l-3.2 3.2l-3.2 -3.2z" fill="#d0c8e8"/>
<path d="M305.0 256.8l3.2 3.2l-3.2 3.2l-3.2 -3.2z" fill="#d0c8e8"/>
<path d="M341.0 230.8l3.2 3.2l-3.2 3.2l-3.2 -3.2z" fill="#d0c8e8"/>
<path d="M362.8 209.6l3.2 3.2l-3.2 3.2l-3.2 -3.2z" fill="#d0c8e8"/>
<path d="M362.8 230.8l3.2 3.2l-3.2 3.2l-3.2 -3.2z" fill="#d0c8e8"/>
<path d="M338.0 270.6l3.2 3.2l-3.2 3.2l-3.2 -3.2z" fill="#d0c8e8"/>
<path d="M362.8 270.6l3.2 3.2l-3.2 3.2l-3.2 -3.2z" fill="#d0c8e8"/>
<path d="M248.0 281.8l3.2 3.2l-3.2 3.2l-3.2 -3.2z" fill="#d0c8e8"/>
<path d="M369.5 307.1l3.2 3.2l-3.2 3.2l-3.2 -3.2z" fill="#d0c8e8"/>
<path d="M272.8 324.4l3.2 3.2l-3.2 3.2l-3.2 -3.2z" fill="#d0c8e8"/>
<path d="M272.8 364.8l3.2 3.2l-3.2 3.2l-3.2 -3.2z" fill="#d0c8e8"/>
<path d="M322.4 378.8l3.2 3.2l-3.2 3.2l-3.2 -3.2z" fill="#d0c8e8"/>
<path d="M362.8 378.8l3.2 3.2l-3.2 3.2l-3.2 -3.2z" fill="#d0c8e8"/>
<path d="M369.5 360.4l3.2 3.2l-3.2 3.2l-3.2 -3.2z" fill="#d0c8e8"/>
<path d="M493.0 209.6l3.2 3.2l-3.2 3.2l-3.2 -3.2z" fill="#d0c8e8"/>
<path d="M493.0 230.8l3.2 3.2l-3.2 3.2l-3.2 -3.2z" fill="#d0c8e8"/>
<path d="M565.0 209.6l3.2 3.2l-3.2 3.2l-3.2 -3.2z" fill="#d0c8e8"/>
<path d="M565.0 230.8l3.2 3.2l-3.2 3.2l-3.2 -3.2z" fill="#d0c8e8"/>
<path d="M547.5 245.1l3.2 3.2l-3.2 3.2l-3.2 -3.2z" fill="#d0c8e8"/>
<path d="M506.6 270.6l3.2 3.2l-3.2 3.2l-3.2 -3.2z" fill="#d0c8e8"/>
<path d="M532.7 270.6l3.2 3.2l-3.2 3.2l-3.2 -3.2z" fill="#d0c8e8"/>
<path d="M557.5 270.6l3.2 3.2l-3.2 3.2l-3.2 -3.2z" fill="#d0c8e8"/>
<path d="M612.0 274.8l3.2 3.2l-3.2 3.2l-3.2 -3.2z" fill="#d0c8e8"/>
<path d="M634.3 274.8l3.2 3.2l-3.2 3.2l-3.2 -3.2z" fill="#d0c8e8"/>
<path d="M623.2 284.8l3.2 3.2l-3.2 3.2l-3.2 -3.2z" fill="#d0c8e8"/>
<path d="M612.0 292.9l3.2 3.2l-3.2 3.2l-3.2 -3.2z" fill="#d0c8e8"/>
<path d="M612.0 310.8l3.2 3.2l-3.2 3.2l-3.2 -3.2z" fill="#d0c8e8"/>
<path d="M612.0 331.8l3.2 3.2l-3.2 3.2l-3.2 -3.2z" fill="#d0c8e8"/>
<path d="M504.0 284.8l3.2 3.2l-3.2 3.2l-3.2 -3.2z" fill="#d0c8e8"/>
<path d="M510.3 364.8l3.2 3.2l-3.2 3.2l-3.2 -3.2z" fill="#d0c8e8"/>
<path d="M535.9 364.8l3.2 3.2l-3.2 3.2l-3.2 -3.2z" fill="#d0c8e8"/>
<path d="M561.2 364.8l3.2 3.2l-3.2 3.2l-3.2 -3.2z" fill="#d0c8e8"/>
<path d="M579.8 364.8l3.2 3.2l-3.2 3.2l-3.2 -3.2z" fill="#d0c8e8"/>
<path d="M593.9 364.8l3.2 3.2l-3.2 3.2l-3.2 -3.2z" fill="#d0c8e8"/>
<path d="M608.3 364.8l3.2 3.2l-3.2 3.2l-3.2 -3.2z" fill="#d0c8e8"/>
<path d="M598.0 233.8l3.2 3.2l-3.2 3.2l-3.2 -3.2z" fill="#d0c8e8"/>
<path d="M676.0 279.8l3.2 3.2l-3.2 3.2l-3.2 -3.2z" fill="#d0c8e8"/>
<path d="M691.0 380.8l3.2 3.2l-3.2 3.2l-3.2 -3.2z" fill="#d0c8e8"/>
<rect x="166.0" y="242.6" width="48.5" height="85.8" rx="0" fill="none" stroke="#c8f4ff" stroke-width="1"/>
<path d="M165.5 242.6L172.0 242.6" stroke="#e8e040" stroke-width="1.0" fill="none" stroke-linejoin="round"/>
<path d="M165.5 328.4L172.0 328.4" stroke="#e8e040" stroke-width="1.0" fill="none" stroke-linejoin="round"/>
<path d="M166.5 242.6L166.5 328.4" stroke="#e8e040" stroke-width="1.0" fill="none" stroke-linejoin="round"/>
<rect x="208.0" y="320.5" width="6.5" height="7.0" rx="0" fill="#e8f0ff"/>
<rect x="215.8" y="244.0" width="28.5" height="81.9" rx="0" fill="#000"/>
<rect x="217.5" y="245.0" width="10.7" height="8.0" rx="0" fill="#d0c8dc"/>
<rect x="232.0" y="245.0" width="10.6" height="8.0" rx="0" fill="#d0c8dc"/>
<rect x="217.5" y="259.1" width="10.7" height="8.0" rx="0" fill="#d0c8dc"/>
<rect x="232.0" y="259.1" width="10.6" height="8.0" rx="0" fill="#d0c8dc"/>
<rect x="217.5" y="274.0" width="10.7" height="8.0" rx="0" fill="#d0c8dc"/>
<rect x="232.0" y="274.0" width="10.6" height="8.0" rx="0" fill="#d0c8dc"/>
<rect x="217.5" y="287.7" width="10.7" height="8.0" rx="0" fill="#d0c8dc"/>
<rect x="232.0" y="287.7" width="10.6" height="8.0" rx="0" fill="#d0c8dc"/>
<rect x="217.5" y="302.0" width="10.7" height="8.0" rx="0" fill="#d0c8dc"/>
<rect x="232.0" y="302.0" width="10.6" height="8.0" rx="0" fill="#d0c8dc"/>
<rect x="217.5" y="316.7" width="10.7" height="8.0" rx="0" fill="#d0c8dc"/>
<rect x="232.0" y="316.7" width="10.6" height="8.0" rx="0" fill="#d0c8dc"/>
<circle cx="236.9" cy="249.0" r="5.0" fill="#d0c8e8"/>
<rect x="221.0" y="283.0" width="4.0" height="4.0" rx="0" fill="#1e90ff"/>
<rect x="236.0" y="283.0" width="4.0" height="4.0" rx="0" fill="#1e90ff"/>
<rect x="228.2" y="247.5" width="3.8" height="3.0" rx="0" fill="#0a8a6e"/>
<rect x="228.2" y="261.6" width="3.8" height="3.0" rx="0" fill="#0a8a6e"/>
<rect x="228.2" y="304.5" width="3.8" height="3.0" rx="0" fill="#0a8a6e"/>
<rect x="228.2" y="319.2" width="3.8" height="3.0" rx="0" fill="#0a8a6e"/>
<rect x="228.2" y="276.5" width="3.8" height="3.0" rx="0" fill="#1e90ff"/>
<rect x="228.2" y="290.2" width="3.8" height="3.0" rx="0" fill="#1e90ff"/>
<path d="M191.4 232.6L193.9 232.6M193.1 232.6L193.1 237.4L192.1 238.4L191.0 238.4L190.0 237.4M195.3 238.4L195.3 232.6L198.4 232.6L199.2 233.4L199.2 234.7L198.4 235.5L195.3 235.5M201.6 233.6L202.6 232.6L202.6 238.4M201.6 238.4L203.5 238.4M206.9 232.6L208.8 232.6L209.8 233.6L209.8 237.4L208.8 238.4L206.9 238.4L205.9 237.4L205.9 233.6L206.9 232.6" stroke="#ffffff" stroke-width="1.00" fill="none" stroke-linecap="round" stroke-linejoin="round"/>
<path d="M178.6 338.8L178.6 330.0L183.3 330.0L184.5 331.2L184.5 333.2L183.3 334.4L178.6 334.4M188.1 330.0L191.1 330.0L192.5 331.5L192.5 337.3L191.1 338.8L188.1 338.8L186.7 337.3L186.7 331.5L188.1 330.0M194.7 330.0L194.7 338.8L197.7 336.3L200.6 338.8L200.6 330.0M208.7 330.0L202.8 330.0L202.8 338.8L208.7 338.8M202.8 334.4L206.9 334.4M210.9 338.8L210.9 330.0L215.6 330.0L216.7 331.2L216.7 333.2L215.6 334.4L210.9 334.4M213.5 334.4L216.7 338.8" stroke="#ffffff" stroke-width="1.00" fill="none" stroke-linecap="round" stroke-linejoin="round"/>
<path d="M158.3 246.9L160.2 245.0L164.1 245.0L166.0 246.9L166.0 248.8L158.3 256.5L166.0 256.5" stroke="#a8a040" stroke-width="1.10" fill="none" stroke-linecap="round" stroke-linejoin="round"/>
<path d="M154.7 258.5L147.0 258.5L147.0 264.2L152.8 264.2L154.7 266.2L154.7 268.1L152.8 270.0L148.9 270.0L147.0 268.1M157.9 258.5L157.9 266.2L162.2 270.0L166.5 266.2L166.5 258.5" stroke="#a8a040" stroke-width="1.10" fill="none" stroke-linecap="round" stroke-linejoin="round"/>
<path d="M147.0 284.0L147.0 272.5L154.7 284.0L154.7 272.5M158.3 272.5L158.3 284.0L163.7 284.0L166.0 281.7L166.0 274.8L163.7 272.5L158.3 272.5" stroke="#a8a040" stroke-width="1.10" fill="none" stroke-linecap="round" stroke-linejoin="round"/>
<path d="M147.0 298.5L147.0 287.0L154.7 298.5L154.7 287.0M158.3 287.0L158.3 298.5L163.7 298.5L166.0 296.2L166.0 289.3L163.7 287.0L158.3 287.0" stroke="#a8a040" stroke-width="1.10" fill="none" stroke-linecap="round" stroke-linejoin="round"/>
<path d="M154.7 301.0L147.0 301.0L147.0 306.8L152.8 306.8L154.7 308.7L154.7 310.6L152.8 312.5L148.9 312.5L147.0 310.6M157.9 301.0L157.9 308.7L162.2 312.5L166.5 308.7L166.5 301.0" stroke="#a8a040" stroke-width="1.10" fill="none" stroke-linecap="round" stroke-linejoin="round"/>
<path d="M147.0 326.5L147.0 318.8M147.0 319.8L148.9 318.8L152.8 318.8L154.7 320.8L154.7 326.5M161.2 315.0L161.2 324.6L163.1 326.5L166.0 326.5M158.3 318.8L165.0 318.8" stroke="#a8a040" stroke-width="1.10" fill="none" stroke-linecap="round" stroke-linejoin="round"/>
<rect x="707.3" y="242.0" width="48.2" height="57.5" rx="0" fill="none" stroke="#c8f4ff" stroke-width="1"/>
<path d="M749.0 242.0L755.5 242.0L755.5 299.5L749.0 299.5" stroke="#e8e040" stroke-width="1.0" fill="none" stroke-linejoin="round"/>
<path d="M697 240 L716 240 L716 262 L706 262 L706 252 L697 252z" fill="#0000e0"/>
<rect x="677.3" y="244.2" width="29.4" height="52.1" rx="0" fill="#000"/>
<rect x="679.0" y="243.9" width="10.6" height="9.0" rx="0" fill="#d8f8f8"/>
<rect x="692.8" y="243.9" width="11.2" height="9.0" rx="0" fill="#d8f8f8"/>
<rect x="679.0" y="258.2" width="10.6" height="9.0" rx="0" fill="#d8f8f8"/>
<rect x="692.8" y="258.2" width="11.2" height="9.0" rx="0" fill="#d8f8f8"/>
<rect x="679.0" y="272.6" width="10.6" height="9.0" rx="0" fill="#d8f8f8"/>
<rect x="692.8" y="272.6" width="11.2" height="9.0" rx="0" fill="#d8f8f8"/>
<rect x="679.0" y="287.1" width="10.6" height="9.0" rx="0" fill="#d8f8f8"/>
<rect x="692.8" y="287.1" width="11.2" height="9.0" rx="0" fill="#d8f8f8"/>
<ellipse cx="684.3" cy="291.6" rx="6" ry="4.5" fill="#d8f8f8"/>
<path d="M738.0 288.3l3.2 3.2l-3.2 3.2l-3.2 -3.2z" fill="#d0c8e8"/>
<rect x="707.5" y="292.0" width="6.5" height="7.0" rx="0" fill="#e8f0ff"/>
<path d="M727.0 232.5L727.0 238.5L731.0 238.5M733.5 232.5L735.5 232.5L736.5 233.5L736.5 237.5L735.5 238.5L733.5 238.5L732.5 237.5L732.5 233.5L733.5 232.5M739.0 233.5L740.0 232.5L740.0 238.5M739.0 238.5L741.0 238.5" stroke="#ffffff" stroke-width="1.00" fill="none" stroke-linecap="round" stroke-linejoin="round"/>
<path d="M689.6 302.0L689.6 310.0L694.9 310.0M699.2 309.6L700.0 309.6L700.0 310.0L699.2 310.0L699.2 309.6M705.6 302.0L708.3 302.0L709.6 303.3L709.6 308.7L708.3 310.0L705.6 310.0L704.3 308.7L704.3 303.3L705.6 302.0M713.9 309.6L714.7 309.6L714.7 310.0L713.9 310.0L713.9 309.6M726.3 306.0L730.5 306.0L731.6 307.1L731.6 308.9L730.5 310.0L726.3 310.0L726.3 302.0L730.3 302.0L731.3 303.1L731.3 304.9L730.3 306.0M733.6 302.0L733.6 308.7L734.9 310.0L737.6 310.0L738.9 308.7L738.9 302.0M746.3 303.3L744.9 302.0L742.3 302.0L740.9 303.3L740.9 304.7L742.3 306.0L744.9 306.0L746.3 307.3L746.3 308.7L744.9 310.0L742.3 310.0L740.9 308.7" stroke="#ffffff" stroke-width="1.00" fill="none" stroke-linecap="round" stroke-linejoin="round"/>
<path d="M650.5 217.0L645.5 217.0L645.5 229.0L650.5 229.0" stroke="#e8ffff" stroke-width="2.2" fill="none" stroke-linejoin="round"/>
<path d="M671.5 217.0L676.5 217.0L676.5 229.0L671.5 229.0" stroke="#e8ffff" stroke-width="2.2" fill="none" stroke-linejoin="round"/>
<rect x="648.0" y="219.0" width="7.5" height="8.0" rx="0" fill="#10e0f8"/>
<rect x="666.5" y="219.0" width="7.5" height="8.0" rx="0" fill="#10e0f8"/>
<path d="M658.0 219.5L658.0 226.0L660.2 224.2L662.3 226.0L662.3 219.5" stroke="#e8ffff" stroke-width="1.10" fill="none" stroke-linecap="round" stroke-linejoin="round"/>
<path d="M690.2 217.0L685.2 217.0L685.2 229.0L690.2 229.0" stroke="#e8ffff" stroke-width="2.2" fill="none" stroke-linejoin="round"/>
<path d="M711.2 217.0L716.2 217.0L716.2 229.0L711.2 229.0" stroke="#e8ffff" stroke-width="2.2" fill="none" stroke-linejoin="round"/>
<rect x="687.7" y="219.0" width="7.5" height="8.0" rx="0" fill="#10e0f8"/>
<rect x="706.2" y="219.0" width="7.5" height="8.0" rx="0" fill="#10e0f8"/>
<path d="M697.7 219.5L697.7 226.0L699.9 224.2L702.0 226.0L702.0 219.5" stroke="#e8ffff" stroke-width="1.10" fill="none" stroke-linecap="round" stroke-linejoin="round"/>
<path d="M650.5 318.0L645.5 318.0L645.5 330.0L650.5 330.0" stroke="#e8ffff" stroke-width="2.2" fill="none" stroke-linejoin="round"/>
<path d="M671.5 318.0L676.5 318.0L676.5 330.0L671.5 330.0" stroke="#e8ffff" stroke-width="2.2" fill="none" stroke-linejoin="round"/>
<rect x="648.0" y="320.0" width="7.5" height="8.0" rx="0" fill="#10e0f8"/>
<rect x="666.5" y="320.0" width="7.5" height="8.0" rx="0" fill="#10e0f8"/>
<path d="M658.0 320.5L658.0 327.0L660.2 325.2L662.3 327.0L662.3 320.5" stroke="#e8ffff" stroke-width="1.10" fill="none" stroke-linecap="round" stroke-linejoin="round"/>
<path d="M690.2 318.0L685.2 318.0L685.2 330.0L690.2 330.0" stroke="#e8ffff" stroke-width="2.2" fill="none" stroke-linejoin="round"/>
<path d="M711.2 318.0L716.2 318.0L716.2 330.0L711.2 330.0" stroke="#e8ffff" stroke-width="2.2" fill="none" stroke-linejoin="round"/>
<rect x="687.7" y="320.0" width="7.5" height="8.0" rx="0" fill="#10e0f8"/>
<rect x="706.2" y="320.0" width="7.5" height="8.0" rx="0" fill="#10e0f8"/>
<path d="M697.7 320.5L697.7 327.0L699.9 325.2L702.0 327.0L702.0 320.5" stroke="#e8ffff" stroke-width="1.10" fill="none" stroke-linecap="round" stroke-linejoin="round"/>
<path d="M651.0 217.5L651.0 211.5L654.2 211.5L655.0 212.3L655.0 213.7L654.2 214.5L651.0 214.5M652.8 214.5L655.0 217.5M656.5 212.5L657.5 211.5L659.5 211.5L660.5 212.5L660.5 213.5L656.5 217.5L660.5 217.5M663.0 211.5L665.0 211.5L666.0 212.5L666.0 216.5L665.0 217.5L663.0 217.5L662.0 216.5L662.0 212.5L663.0 211.5" stroke="#ffffff" stroke-width="1.00" fill="none" stroke-linecap="round" stroke-linejoin="round"/>
<path d="M690.0 217.5L690.0 211.5L693.2 211.5L694.0 212.3L694.0 213.7L693.2 214.5L690.0 214.5M691.8 214.5L694.0 217.5M695.5 212.5L696.5 211.5L698.5 211.5L699.5 212.5L699.5 213.5L695.5 217.5L699.5 217.5M701.0 212.5L702.0 211.5L704.0 211.5L705.0 212.5L705.0 213.5L701.0 217.5L705.0 217.5" stroke="#ffffff" stroke-width="1.00" fill="none" stroke-linecap="round" stroke-linejoin="round"/>
<path d="M651.0 338.0L651.0 332.0L654.2 332.0L655.0 332.8L655.0 334.2L654.2 335.0L651.0 335.0M652.8 335.0L655.0 338.0M657.5 333.0L658.5 332.0L658.5 338.0M657.5 338.0L659.5 338.0M663.0 332.0L665.0 332.0L666.0 333.0L666.0 337.0L665.0 338.0L663.0 338.0L662.0 337.0L662.0 333.0L663.0 332.0" stroke="#ffffff" stroke-width="1.00" fill="none" stroke-linecap="round" stroke-linejoin="round"/>
<path d="M690.0 338.0L690.0 332.0L693.2 332.0L694.0 332.8L694.0 334.2L693.2 335.0L690.0 335.0M691.8 335.0L694.0 338.0M696.5 333.0L697.5 332.0L697.5 338.0M696.5 338.0L698.5 338.0M701.0 333.0L702.0 332.0L704.0 332.0L705.0 333.0L705.0 334.0L701.0 338.0L705.0 338.0" stroke="#ffffff" stroke-width="1.00" fill="none" stroke-linecap="round" stroke-linejoin="round"/>
<path d="M648.0 229.5L651.3 229.5L649.2 234.5M653.4 230.3L654.2 229.5L654.2 234.5M653.4 234.5L655.1 234.5M658.6 234.2L659.1 234.2L659.1 234.5L658.6 234.5L658.6 234.2M665.1 229.5L661.8 229.5L661.8 232.0L664.2 232.0L665.1 232.8L665.1 233.7L664.2 234.5L662.6 234.5L661.8 233.7" stroke="#8fb4f4" stroke-width="0.90" fill="none" stroke-linecap="round" stroke-linejoin="round"/>
<path d="M688.8 232.0L688.0 231.2L688.0 230.3L688.8 229.5L690.5 229.5L691.3 230.3L691.3 231.2L690.5 232.0L688.8 232.0L688.0 232.8L688.0 233.7L688.8 234.5L690.5 234.5L691.3 233.7L691.3 232.8L690.5 232.0M695.9 230.3L695.1 229.5L693.4 229.5L692.6 230.3L692.6 233.7L693.4 234.5L695.1 234.5L695.9 233.7L695.9 232.8L695.1 232.0L692.6 232.0M698.6 234.2L699.1 234.2L699.1 234.5L698.6 234.5L698.6 234.2M705.1 230.3L704.2 229.5L702.6 229.5L701.8 230.3L701.8 233.7L702.6 234.5L704.2 234.5L705.1 233.7L705.1 232.8L704.2 232.0L701.8 232.0" stroke="#8fb4f4" stroke-width="0.90" fill="none" stroke-linecap="round" stroke-linejoin="round"/>
<path d="M645.0 310.0L648.3 310.0L646.2 315.0M650.4 310.8L651.2 310.0L651.2 315.0M650.4 315.0L652.1 315.0M655.6 314.8L656.1 314.8L656.1 315.0L655.6 315.0L655.6 314.8M662.1 310.0L658.8 310.0L658.8 312.5L661.2 312.5L662.1 313.3L662.1 314.2L661.2 315.0L659.6 315.0L658.8 314.2" stroke="#8fb4f4" stroke-width="0.90" fill="none" stroke-linecap="round" stroke-linejoin="round"/>
<path d="M684.8 312.5L684.0 311.7L684.0 310.8L684.8 310.0L686.5 310.0L687.3 310.8L687.3 311.7L686.5 312.5L684.8 312.5L684.0 313.3L684.0 314.2L684.8 315.0L686.5 315.0L687.3 314.2L687.3 313.3L686.5 312.5M691.9 310.8L691.1 310.0L689.4 310.0L688.6 310.8L688.6 314.2L689.4 315.0L691.1 315.0L691.9 314.2L691.9 313.3L691.1 312.5L688.6 312.5M694.6 314.8L695.1 314.8L695.1 315.0L694.6 315.0L694.6 314.8M701.1 310.8L700.2 310.0L698.6 310.0L697.8 310.8L697.8 314.2L698.6 315.0L700.2 315.0L701.1 314.2L701.1 313.3L700.2 312.5L697.8 312.5" stroke="#8fb4f4" stroke-width="0.90" fill="none" stroke-linecap="round" stroke-linejoin="round"/>
<path d="M308.8 256.6L308.8 245.8L314.6 245.8L316.0 247.2L316.0 249.8L314.6 251.2L308.8 251.2M312.0 251.2L316.0 256.6M321.3 249.4L324.9 249.4L326.7 251.2L326.7 256.6L321.3 256.6L319.5 254.8L321.3 253.0L326.7 253.0M337.3 245.8L337.3 256.6L331.9 256.6L330.1 254.8L330.1 251.2L331.9 249.4L337.3 249.4M344.4 249.4L344.4 256.6M344.4 246.5L344.4 247.6M353.2 249.4L356.8 249.4L358.6 251.2L358.6 254.8L356.8 256.6L353.2 256.6L351.4 254.8L351.4 251.2L353.2 249.4M374.5 245.8L378.1 245.8L379.9 247.6L379.9 254.8L378.1 256.6L374.5 256.6L372.7 254.8L372.7 247.6L374.5 245.8M390.6 249.4L385.2 249.4L383.4 251.2L383.4 254.8L385.2 256.6L390.6 256.6M394.0 253.0L401.2 253.0L401.2 251.2L399.4 249.4L395.8 249.4L394.0 251.2L394.0 254.8L395.8 256.6L401.2 256.6M406.5 249.4L410.1 249.4L411.9 251.2L411.9 256.6L406.5 256.6L404.7 254.8L406.5 253.0L411.9 253.0M415.4 256.6L415.4 249.4M415.4 250.3L417.2 249.4L420.8 249.4L422.6 251.2L422.6 256.6M427.8 249.4L431.4 249.4L433.2 251.2L433.2 254.8L431.4 256.6L427.8 256.6L426.0 254.8L426.0 251.2L427.8 249.4M443.9 249.4L443.9 258.4L442.1 260.2L438.5 260.2M443.9 249.4L438.5 249.4L436.7 251.2L436.7 254.8L438.5 256.6L443.9 256.6M447.3 256.6L447.3 249.4M447.3 251.2L449.1 249.4L454.5 249.4M459.8 249.4L463.4 249.4L465.2 251.2L465.2 256.6L459.8 256.6L458.0 254.8L459.8 253.0L465.2 253.0M468.6 260.2L468.6 249.4L474.0 249.4L475.8 251.2L475.8 254.8L474.0 256.6L468.6 256.6M479.3 245.8L479.3 256.6M479.3 250.3L481.1 249.4L484.7 249.4L486.5 251.2L486.5 256.6M490.0 249.4L490.0 254.8L491.8 256.6L497.2 256.6M497.2 249.4L497.2 258.4L495.4 260.2L491.8 260.2M511.3 245.8L511.3 256.6L518.5 256.6M523.7 249.4L527.3 249.4L529.1 251.2L529.1 256.6L523.7 256.6L521.9 254.8L523.7 253.0L529.1 253.0M532.6 245.8L532.6 256.6L538.0 256.6L539.8 254.8L539.8 251.2L538.0 249.4L532.6 249.4M545.0 249.4L548.6 249.4L550.4 251.2L550.4 254.8L548.6 256.6L545.0 256.6L543.2 254.8L543.2 251.2L545.0 249.4M553.9 256.6L553.9 249.4M553.9 251.2L555.7 249.4L561.1 249.4M566.3 249.4L569.9 249.4L571.7 251.2L571.7 256.6L566.3 256.6L564.5 254.8L566.3 253.0L571.7 253.0M577.9 245.8L577.9 254.8L579.7 256.6L582.4 256.6M575.2 249.4L581.5 249.4M587.7 249.4L591.3 249.4L593.1 251.2L593.1 254.8L591.3 256.6L587.7 256.6L585.9 254.8L585.9 251.2L587.7 249.4M596.5 256.6L596.5 249.4M596.5 251.2L598.3 249.4L603.7 249.4M607.2 249.4L607.2 254.8L609.0 256.6L614.4 256.6M614.4 249.4L614.4 258.4L612.6 260.2L609.0 260.2" stroke="#ffffff" stroke-width="0.95" fill="none" stroke-linecap="round" stroke-linejoin="round"/>
<path d="M378.2 260.7L378.2 266.4L379.3 267.5L381.6 267.5L382.7 266.4L382.7 260.7M385.0 267.5L385.0 263.0M385.0 263.5L386.1 263.0L388.4 263.0L389.5 264.1L389.5 267.5M394.1 263.0L394.1 267.5M394.1 261.2L394.1 261.8M398.6 263.0L400.9 267.5L403.1 263.0M405.4 265.2L409.9 265.2L409.9 264.1L408.8 263.0L406.5 263.0L405.4 264.1L405.4 266.4L406.5 267.5L409.9 267.5M412.2 267.5L412.2 263.0M412.2 264.1L413.3 263.0L416.7 263.0M423.5 263.0L420.1 263.0L419.0 264.1L420.1 265.2L422.4 265.2L423.5 266.4L422.4 267.5L419.0 267.5M428.1 263.0L428.1 267.5M428.1 261.2L428.1 261.8M434.3 260.7L434.3 266.4L435.4 267.5L437.1 267.5M432.6 263.0L436.6 263.0M439.4 263.0L439.4 266.4L440.5 267.5L443.9 267.5M443.9 263.0L443.9 268.6L442.8 269.8L440.5 269.8M454.1 263.0L456.4 263.0L457.5 264.1L457.5 266.4L456.4 267.5L454.1 267.5L453.0 266.4L453.0 264.1L454.1 263.0M464.3 260.7L462.6 260.7L461.5 261.8L461.5 267.5M459.8 263.5L463.2 263.5M473.4 260.7L473.4 267.5M477.9 260.7L477.9 267.5M473.4 264.1L477.9 264.1M481.3 263.0L483.6 263.0L484.7 264.1L484.7 267.5L481.3 267.5L480.2 266.4L481.3 265.2L484.7 265.2M487.0 263.0L488.1 267.5L489.3 265.2L490.4 267.5L491.5 263.0M494.9 263.0L497.2 263.0L498.3 264.1L498.3 267.5L494.9 267.5L493.8 266.4L494.9 265.2L498.3 265.2M502.9 263.0L502.9 267.5M502.9 261.2L502.9 261.8M509.7 263.0L509.7 267.5M509.7 261.2L509.7 261.8M525.5 261.8L524.4 260.7L522.1 260.7L521.0 261.8L521.0 263.0L522.1 264.1L524.4 264.1L525.5 265.2L525.5 266.4L524.4 267.5L522.1 267.5L521.0 266.4M528.9 260.7L531.2 260.7L532.3 261.8L532.3 266.4L531.2 267.5L528.9 267.5L527.8 266.4L527.8 261.8L528.9 260.7M539.1 260.7L534.6 260.7L534.6 267.5L539.1 267.5M534.6 264.1L537.8 264.1M545.9 261.8L544.8 260.7L542.5 260.7L541.4 261.8L541.4 263.0L542.5 264.1L544.8 264.1L545.9 265.2L545.9 266.4L544.8 267.5L542.5 267.5L541.4 266.4M548.2 260.7L552.7 260.7M550.5 260.7L550.5 267.5" stroke="#ffffff" stroke-width="0.90" fill="none" stroke-linecap="round" stroke-linejoin="round"/>
<path d="M362 302 C 372 281, 440 275, 480 276 C 530 277, 568 290, 570 301 C 568 314, 525 328, 470 329 C 410 330, 362 320, 362 302z" fill="none" stroke="#f0f8ff" stroke-width="2.3"/>
<g stroke="#e0f0ff" stroke-width="0.9" fill="none">
<path d="M372 306 C 385 292, 405 300, 398 310 C 390 318, 370 312, 380 302 C 400 290, 430 296, 440 300"/>
<path d="M398 318 C 420 300, 445 296, 460 305 C 470 312, 455 318, 445 312 C 470 295, 500 292, 520 300"/>
<path d="M420 320 C 440 310, 470 300, 480 310 C 488 318, 470 320, 468 312 C 490 300, 520 298, 545 306"/>
<path d="M470 292 C 495 286, 520 291, 548 288"/>
<path d="M470 296 C 495 290, 520 295, 548 292"/>
<path d="M470 300 C 495 294, 520 299, 548 296"/>
<path d="M470 304 C 495 298, 520 303, 548 300"/>
<path d="M470 308 C 495 302, 520 307, 548 304"/>
<path d="M470 312 C 495 306, 520 311, 548 308"/>
<path d="M548 285 L548 312 M540 310 L560 318"/>
</g>
<path d="M435.0 378.2L435.0 375.3M435.0 376.3L440.8 376.3L442.0 377.4L442.0 378.8L440.8 380.0M436.2 373.8L435.0 372.6L435.0 370.3L436.2 369.1L437.3 369.1L442.0 373.8L442.0 369.1M441.6 365.6L441.6 364.9L442.0 364.9L442.0 365.6L441.6 365.6M435.0 356.8L435.0 361.4L438.5 361.4L438.5 357.9L439.7 356.8L440.8 356.8L442.0 357.9L442.0 360.3L440.8 361.4M442.0 351.8L435.0 351.8L439.7 355.3L439.7 350.6M442.0 349.1L437.3 349.1L437.3 345.6L438.5 344.4L442.0 344.4M437.3 346.8L442.0 346.8M442.0 342.9L437.3 342.9L437.3 339.4L438.5 338.2L442.0 338.2M437.3 340.6L442.0 340.6M441.3 334.1L443.2 334.9M436.2 330.5L435.0 329.4L435.0 327.0L436.2 325.9L437.3 325.9L438.5 327.0L439.7 325.9L440.8 325.9L442.0 327.0L442.0 329.4L440.8 330.5M438.5 328.8L438.5 327.0M441.6 322.4L441.6 321.7L442.0 321.7L442.0 322.4L441.6 322.4M435.0 313.5L435.0 318.2L438.5 318.2L438.5 314.7L439.7 313.5L440.8 313.5L442.0 314.7L442.0 317.0L440.8 318.2M435.0 307.3L435.0 312.0L438.5 312.0L438.5 308.5L439.7 307.3L440.8 307.3L442.0 308.5L442.0 310.8L440.8 312.0M442.0 305.8L437.3 305.8L437.3 302.3L438.5 301.1L442.0 301.1M437.3 303.5L442.0 303.5M442.0 299.6L437.3 299.6L437.3 296.1L438.5 294.9L442.0 294.9M437.3 297.3L442.0 297.3" stroke="#ffffff" stroke-width="1.00" fill="none" stroke-linecap="round" stroke-linejoin="round"/>
<path d="M456.0 378.2L456.0 375.3M456.0 376.3L461.8 376.3L463.0 377.4L463.0 378.8L461.8 380.0M457.2 369.1L456.0 370.3L456.0 372.6L457.2 373.8L461.8 373.8L463.0 372.6L463.0 370.3L461.8 369.1L460.7 369.1L459.5 370.3L459.5 373.8M462.6 365.6L462.6 364.9L463.0 364.9L463.0 365.6L462.6 365.6M463.0 357.9L456.0 357.9L460.7 361.4L460.7 356.8M456.0 355.3L456.0 350.6L463.0 353.5M463.0 349.1L458.3 349.1L458.3 345.6L459.5 344.4L463.0 344.4M458.3 346.8L463.0 346.8M463.0 342.9L458.3 342.9L458.3 339.4L459.5 338.2L463.0 338.2M458.3 340.6L463.0 340.6M462.3 334.1L464.2 334.9M456.0 329.4L456.0 327.0L457.2 325.9L461.8 325.9L463.0 327.0L463.0 329.4L461.8 330.5L457.2 330.5L456.0 329.4M463.0 324.4L458.3 324.4L458.3 320.9L459.5 319.7L463.0 319.7M458.3 322.0L463.0 322.0M463.0 318.2L458.3 318.2L458.3 314.7L459.5 313.5L463.0 313.5M458.3 315.8L463.0 315.8" stroke="#ffffff" stroke-width="1.00" fill="none" stroke-linecap="round" stroke-linejoin="round"/>
<path d="M475.5 378.2L475.5 375.3M475.5 376.3L481.3 376.3L482.5 377.4L482.5 378.8L481.3 380.0M481.3 373.8L482.5 372.6L482.5 370.3L481.3 369.1L476.7 369.1L475.5 370.3L475.5 372.6L476.7 373.8L477.8 373.8L479.0 372.6L479.0 369.1M482.1 365.6L482.1 364.9L482.5 364.9L482.5 365.6L482.1 365.6M476.7 361.4L475.5 360.3L475.5 357.9L476.7 356.8L477.8 356.8L482.5 361.4L482.5 356.8M475.5 355.3L475.5 350.6L482.5 353.5M482.5 349.1L477.8 349.1L477.8 345.6L479.0 344.4L482.5 344.4M477.8 346.8L482.5 346.8M482.5 342.9L477.8 342.9L477.8 339.4L479.0 338.2L482.5 338.2M477.8 340.6L482.5 340.6M481.8 334.1L483.7 334.9M479.0 329.9L479.0 326.4M479.0 323.2L477.8 324.4L476.7 324.4L475.5 323.2L475.5 320.9L476.7 319.7L477.8 319.7L479.0 320.9L479.0 323.2L480.2 324.4L481.3 324.4L482.5 323.2L482.5 320.9L481.3 319.7L480.2 319.7L479.0 320.9M482.1 316.2L482.1 315.5L482.5 315.5L482.5 316.2L482.1 316.2M475.5 307.3L475.5 312.0L479.0 312.0L479.0 308.5L480.2 307.3L481.3 307.3L482.5 308.5L482.5 310.8L481.3 312.0M475.5 301.1L475.5 305.8L479.0 305.8L479.0 302.3L480.2 301.1L481.3 301.1L482.5 302.3L482.5 304.6L481.3 305.8M482.5 299.6L477.8 299.6L477.8 296.1L479.0 294.9L482.5 294.9M477.8 297.3L482.5 297.3M482.5 293.4L477.8 293.4L477.8 289.9L479.0 288.8L482.5 288.8M477.8 291.1L482.5 291.1" stroke="#ffffff" stroke-width="1.00" fill="none" stroke-linecap="round" stroke-linejoin="round"/>
<path d="M230.0 385.8l3.2 3.2l-3.2 3.2l-3.2 -3.2z" fill="#d0c8e8"/>
<path d="M230.0 436.8l3.2 3.2l-3.2 3.2l-3.2 -3.2z" fill="#d0c8e8"/>
<path d="M230.0 530.8l3.2 3.2l-3.2 3.2l-3.2 -3.2z" fill="#d0c8e8"/>
<path d="M230.0 580.8l3.2 3.2l-3.2 3.2l-3.2 -3.2z" fill="#d0c8e8"/>
<path d="M273.0 441.8l3.2 3.2l-3.2 3.2l-3.2 -3.2z" fill="#d0c8e8"/>
<path d="M304.0 455.8l3.2 3.2l-3.2 3.2l-3.2 -3.2z" fill="#d0c8e8"/>
<path d="M275.0 451.8l3.2 3.2l-3.2 3.2l-3.2 -3.2z" fill="#d0c8e8"/>
<path d="M249.0 459.8l3.2 3.2l-3.2 3.2l-3.2 -3.2z" fill="#d0c8e8"/>
<path d="M306.0 416.8l3.2 3.2l-3.2 3.2l-3.2 -3.2z" fill="#d0c8e8"/>
<path d="M344.0 495.8l3.2 3.2l-3.2 3.2l-3.2 -3.2z" fill="#d0c8e8"/>
<path d="M322.0 555.8l3.2 3.2l-3.2 3.2l-3.2 -3.2z" fill="#d0c8e8"/>
<path d="M369.0 357.8l3.2 3.2l-3.2 3.2l-3.2 -3.2z" fill="#d0c8e8"/>
<path d="M369.0 487.8l3.2 3.2l-3.2 3.2l-3.2 -3.2z" fill="#d0c8e8"/>
<path d="M369.0 605.8l3.2 3.2l-3.2 3.2l-3.2 -3.2z" fill="#d0c8e8"/>
<path d="M500.0 449.8l3.2 3.2l-3.2 3.2l-3.2 -3.2z" fill="#d0c8e8"/>
<path d="M535.0 449.8l3.2 3.2l-3.2 3.2l-3.2 -3.2z" fill="#d0c8e8"/>
<path d="M557.0 449.8l3.2 3.2l-3.2 3.2l-3.2 -3.2z" fill="#d0c8e8"/>
<path d="M580.0 421.8l3.2 3.2l-3.2 3.2l-3.2 -3.2z" fill="#d0c8e8"/>
<path d="M600.0 436.8l3.2 3.2l-3.2 3.2l-3.2 -3.2z" fill="#d0c8e8"/>
<path d="M614.0 436.8l3.2 3.2l-3.2 3.2l-3.2 -3.2z" fill="#d0c8e8"/>
<path d="M628.0 436.8l3.2 3.2l-3.2 3.2l-3.2 -3.2z" fill="#d0c8e8"/>
<path d="M691.0 450.8l3.2 3.2l-3.2 3.2l-3.2 -3.2z" fill="#d0c8e8"/>
<path d="M691.0 436.8l3.2 3.2l-3.2 3.2l-3.2 -3.2z" fill="#d0c8e8"/>
<path d="M691.0 580.8l3.2 3.2l-3.2 3.2l-3.2 -3.2z" fill="#d0c8e8"/>
<path d="M560.0 451.8l3.2 3.2l-3.2 3.2l-3.2 -3.2z" fill="#d0c8e8"/>
<path d="M560.0 506.8l3.2 3.2l-3.2 3.2l-3.2 -3.2z" fill="#d0c8e8"/>
<path d="M560.0 536.8l3.2 3.2l-3.2 3.2l-3.2 -3.2z" fill="#d0c8e8"/>
<path d="M491.0 501.8l3.2 3.2l-3.2 3.2l-3.2 -3.2z" fill="#d0c8e8"/>
<path d="M526.0 501.8l3.2 3.2l-3.2 3.2l-3.2 -3.2z" fill="#d0c8e8"/>
<path d="M420.0 451.8l3.2 3.2l-3.2 3.2l-3.2 -3.2z" fill="#d0c8e8"/>
<path d="M420.0 496.8l3.2 3.2l-3.2 3.2l-3.2 -3.2z" fill="#d0c8e8"/>
<path d="M640.0 556.8l3.2 3.2l-3.2 3.2l-3.2 -3.2z" fill="#d0c8e8"/>
<path d="M205.6 368.5L208.1 368.5M207.3 368.5L207.3 373.7L206.3 374.7L205.0 374.7L204.0 373.7M209.7 369.5L210.7 368.5L212.8 368.5L213.8 369.5L213.8 370.6L209.7 374.7L213.8 374.7M216.4 368.5L218.5 368.5L219.5 369.5L219.5 373.7L218.5 374.7L216.4 374.7L215.4 373.7L215.4 369.5L216.4 368.5" stroke="#ffffff" stroke-width="1.00" fill="none" stroke-linecap="round" stroke-linejoin="round"/>
<path d="M199.7 393.4L199.7 396.2L198.3 397.7L192.6 397.7L191.2 396.2L191.2 393.4L192.6 392.0L198.3 392.0L199.7 393.4M199.7 399.8L192.6 399.8L191.2 401.2L191.2 404.0L192.6 405.5L199.7 405.5M199.7 407.6L199.7 413.2M199.7 410.4L191.2 410.4M195.4 416.1L195.4 420.3M199.7 424.6L199.7 427.4M199.7 426.0L191.2 426.0M191.2 424.6L191.2 427.4" stroke="#ffffff" stroke-width="1.00" fill="none" stroke-linecap="round" stroke-linejoin="round"/>
<path d="M239.6 525.0L242.1 525.0M241.3 525.0L241.3 530.2L240.3 531.2L239.0 531.2L238.0 530.2M243.7 526.0L244.7 525.0L246.8 525.0L247.8 526.0L247.8 527.1L243.7 531.2L247.8 531.2M250.4 526.0L251.4 525.0L251.4 531.2M250.4 531.2L252.5 531.2" stroke="#ffffff" stroke-width="1.00" fill="none" stroke-linecap="round" stroke-linejoin="round"/>
<path d="M199.7 536.4L199.7 539.2L198.3 540.7L192.6 540.7L191.2 539.2L191.2 536.4L192.6 535.0L198.3 535.0L199.7 536.4M199.7 542.8L192.6 542.8L191.2 544.2L191.2 547.0L192.6 548.5L199.7 548.5M199.7 550.6L199.7 556.2M199.7 553.4L191.2 553.4M195.4 559.1L195.4 563.3M199.7 567.6L199.7 570.4L198.3 571.8L192.6 571.8L191.2 570.4L191.2 567.6L192.6 566.2L198.3 566.2L199.7 567.6M193.3 569.7L191.2 571.8" stroke="#ffffff" stroke-width="1.00" fill="none" stroke-linecap="round" stroke-linejoin="round"/>
<rect x="166.0" y="458.4" width="49.0" height="58.0" rx="0" fill="none" stroke="#c8f4ff" stroke-width="1"/>
<path d="M165.5 458.4L172.0 458.4" stroke="#e8e040" stroke-width="1.0" fill="none" stroke-linejoin="round"/>
<path d="M165.5 516.4L172.0 516.4" stroke="#e8e040" stroke-width="1.0" fill="none" stroke-linejoin="round"/>
<path d="M166.5 458.4L166.5 516.4" stroke="#e8e040" stroke-width="1.0" fill="none" stroke-linejoin="round"/>
<rect x="208.0" y="458.5" width="6.5" height="7.0" rx="0" fill="#e8f0ff"/>
<rect x="215.8" y="460.0" width="28.5" height="54.0" rx="0" fill="#000"/>
<rect x="217.5" y="460.3" width="10.7" height="9.0" rx="0" fill="#d0c8dc"/>
<rect x="232.0" y="460.3" width="10.6" height="9.0" rx="0" fill="#d0c8dc"/>
<rect x="217.5" y="475.2" width="10.7" height="9.0" rx="0" fill="#d0c8dc"/>
<rect x="232.0" y="475.2" width="10.6" height="9.0" rx="0" fill="#d0c8dc"/>
<rect x="217.5" y="489.5" width="10.7" height="9.0" rx="0" fill="#d0c8dc"/>
<rect x="232.0" y="489.5" width="10.6" height="9.0" rx="0" fill="#d0c8dc"/>
<rect x="217.5" y="503.7" width="10.7" height="9.0" rx="0" fill="#d0c8dc"/>
<rect x="232.0" y="503.7" width="10.6" height="9.0" rx="0" fill="#d0c8dc"/>
<ellipse cx="237" cy="464.8" rx="6" ry="4.5" fill="#d0c8e8"/>
<path d="M176.0 449.0L176.0 455.0L178.8 455.0L180.0 453.8L180.0 450.2L178.8 449.0L176.0 449.0M181.5 452.0L184.7 452.0L185.5 452.8L185.5 454.2L184.7 455.0L181.5 455.0L181.5 449.0L184.5 449.0L185.3 449.8L185.3 451.2L184.5 452.0M187.0 450.0L188.0 449.0L190.0 449.0L191.0 450.0L191.0 451.0L187.0 455.0L191.0 455.0" stroke="#ffffff" stroke-width="1.00" fill="none" stroke-linecap="round" stroke-linejoin="round"/>
<path d="M176.5 518.0L179.4 518.0M177.9 518.0L177.9 526.8M176.5 526.8L179.4 526.8M183.4 526.8L189.2 518.0M193.2 518.0L196.1 518.0L197.6 519.5L197.6 525.3L196.1 526.8L193.2 526.8L191.7 525.3L191.7 519.5L193.2 518.0M195.4 524.6L197.6 526.8M209.9 518.0L212.8 518.0L214.3 519.5L214.3 525.3L212.8 526.8L209.9 526.8L208.4 525.3L208.4 519.5L209.9 518.0M216.8 518.0L216.8 525.3L218.3 526.8L221.2 526.8L222.7 525.3L222.7 518.0M225.2 518.0L231.0 518.0M228.1 518.0L228.1 526.8" stroke="#ffffff" stroke-width="1.00" fill="none" stroke-linecap="round" stroke-linejoin="round"/>
<path d="M193.5 508.0L193.5 504.0M193.5 506.0L199.5 506.0M194.5 498.3L193.5 499.3L193.5 501.3L194.5 502.3L195.5 502.3L196.5 501.3L196.5 499.3L197.5 498.3L198.5 498.3L199.5 499.3L199.5 501.3L198.5 502.3M193.5 496.6L199.5 496.6L197.8 494.6L199.5 492.6L193.5 492.6M196.5 490.4L196.5 487.4M199.5 482.2L193.5 482.2L197.5 485.2L197.5 481.2M193.5 479.8L199.5 475.2M193.5 475.2L199.5 479.8M194.5 473.8L193.5 472.8L193.5 470.8L194.5 469.8L195.5 469.8L199.5 473.8L199.5 469.8M193.5 464.1L193.5 468.1L199.5 468.1M196.5 468.1L196.5 465.3" stroke="#8fb4f4" stroke-width="0.90" fill="none" stroke-linecap="round" stroke-linejoin="round"/>
<path d="M185.6 324.5L185.6 320.2M185.6 322.3L192.1 322.3M186.7 313.3L185.6 314.4L185.6 316.6L186.7 317.7L187.8 317.7L188.8 316.6L188.8 314.4L189.9 313.3L191.0 313.3L192.1 314.4L192.1 316.6L191.0 317.7M185.6 310.9L192.1 310.9L190.3 308.7L192.1 306.5L185.6 306.5M188.8 303.5L188.8 300.2M186.7 292.9L185.6 293.9L185.6 296.1L186.7 297.2L191.0 297.2L192.1 296.1L192.1 293.9L191.0 292.9L189.9 292.9L188.8 293.9L188.8 297.2M185.6 290.6L192.1 285.8M185.6 285.8L192.1 290.6M186.7 283.6L185.6 282.5L185.6 280.3L186.7 279.2L187.8 279.2L192.1 283.6L192.1 279.2M185.6 272.4L185.6 276.7L192.1 276.7M188.8 276.7L188.8 273.7" stroke="#8fb4f4" stroke-width="0.90" fill="none" stroke-linecap="round" stroke-linejoin="round"/>
<path d="M272.8 513.9L261.7 502.7L261.7 484.1L275.3 471.7L281.5 471.7L320.0 509.0L320.5 471.7" stroke="#e4e8ff" stroke-width="7.5" fill="none" stroke-linejoin="round"/>
<path d="M272.8 513.9 L261.7 502.7 L261.7 484.1 L275.3 471.7 L281.5 471.7 L320 509 L320.5 471.7" stroke="#e4e8ff" stroke-width="7.5" fill="none" stroke-linecap="round" stroke-linejoin="round"/>
<path d="M618.4 486.3 L606.8 476.7 L666 476.7 M666 466 L666 489.5" stroke="#e4e8ff" stroke-width="7.5" fill="none" stroke-linecap="round" stroke-linejoin="round"/>
<path d="M289.5 532.0L288.5 531.0L286.5 531.0L285.5 532.0L285.5 536.0L286.5 537.0L288.5 537.0L289.5 536.0L289.5 534.5L288.0 534.5M291.0 537.0L291.0 531.0L294.2 531.0L295.0 531.8L295.0 533.2L294.2 534.0L291.0 534.0M300.5 532.0L299.5 531.0L297.5 531.0L296.5 532.0L296.5 536.0L297.5 537.0L299.5 537.0L300.5 536.0L300.5 535.0L299.5 534.0L296.5 534.0" stroke="#8fb4f4" stroke-width="1.00" fill="none" stroke-linecap="round" stroke-linejoin="round"/>
<path d="M291.1 543.0L290.1 542.0L288.0 542.0L287.0 543.0L287.0 547.2L288.0 548.2L290.1 548.2L291.1 547.2L291.1 545.6L289.6 545.6M292.7 548.2L292.7 542.0L296.8 548.2L296.8 542.0M298.4 542.0L298.4 548.2L301.3 548.2L302.5 547.0L302.5 543.2L301.3 542.0L298.4 542.0" stroke="#ffffff" stroke-width="1.00" fill="none" stroke-linecap="round" stroke-linejoin="round"/>
<rect x="286.5" y="551.0" width="17.3" height="16.0" rx="2.5" fill="#f0f8ff"/>
<rect x="289.0" y="553.5" width="12.3" height="11.0" rx="0" fill="#c8c0a8"/>
<path d="M289.0 564.5L301.3 564.5L301.3 553.5" stroke="#202020" stroke-width="1.2" fill="none" stroke-linejoin="round"/>
<rect x="367.0" y="367.0" width="14.4" height="116.4" rx="0" fill="none" stroke="#e8ffff" stroke-width="1.1"/>
<rect x="369.0" y="368.5" width="10.0" height="10.0" rx="0" fill="#c8c0a8" stroke="#000" stroke-width="1.5"/>
<circle cx="374.0" cy="388.7" r="4.2" fill="#d0c8e8" stroke="#000" stroke-width="0.8" stroke-dasharray="1 1"/>
<circle cx="374.0" cy="403.2" r="4.2" fill="#d0c8e8" stroke="#000" stroke-width="0.8" stroke-dasharray="1 1"/>
<circle cx="374.0" cy="417.7" r="4.2" fill="#d0c8e8" stroke="#000" stroke-width="0.8" stroke-dasharray="1 1"/>
<circle cx="374.0" cy="432.2" r="4.2" fill="#d0c8e8" stroke="#000" stroke-width="0.8" stroke-dasharray="1 1"/>
<circle cx="374.0" cy="446.7" r="4.2" fill="#d0c8e8" stroke="#000" stroke-width="0.8" stroke-dasharray="1 1"/>
<circle cx="374.0" cy="461.2" r="4.2" fill="#d0c8e8" stroke="#000" stroke-width="0.8" stroke-dasharray="1 1"/>
<circle cx="374.0" cy="475.7" r="4.2" fill="#d0c8e8" stroke="#000" stroke-width="0.8" stroke-dasharray="1 1"/>
<rect x="367.0" y="490.0" width="14.4" height="116.0" rx="0" fill="none" stroke="#e8ffff" stroke-width="1.1"/>
<rect x="369.0" y="491.5" width="10.0" height="10.0" rx="0" fill="#c8c0a8" stroke="#000" stroke-width="1.5"/>
<circle cx="374.0" cy="511.7" r="4.2" fill="#d0c8e8" stroke="#000" stroke-width="0.8" stroke-dasharray="1 1"/>
<circle cx="374.0" cy="526.2" r="4.2" fill="#d0c8e8" stroke="#000" stroke-width="0.8" stroke-dasharray="1 1"/>
<circle cx="374.0" cy="540.7" r="4.2" fill="#d0c8e8" stroke="#000" stroke-width="0.8" stroke-dasharray="1 1"/>
<circle cx="374.0" cy="555.2" r="4.2" fill="#d0c8e8" stroke="#000" stroke-width="0.8" stroke-dasharray="1 1"/>
<circle cx="374.0" cy="569.7" r="4.2" fill="#d0c8e8" stroke="#000" stroke-width="0.8" stroke-dasharray="1 1"/>
<circle cx="374.0" cy="584.2" r="4.2" fill="#d0c8e8" stroke="#000" stroke-width="0.8" stroke-dasharray="1 1"/>
<circle cx="374.0" cy="598.7" r="4.2" fill="#d0c8e8" stroke="#000" stroke-width="0.8" stroke-dasharray="1 1"/>
<path d="M404.0 369.5L404.0 372.0M404.0 371.2L399.0 371.2L398.0 370.2L398.0 369.0L399.0 368.0M398.0 373.5L404.0 373.5L404.0 376.7L403.2 377.5L401.8 377.5L401.0 376.7L401.0 373.5M403.0 380.0L404.0 381.0L398.0 381.0M398.0 380.0L398.0 382.0" stroke="#ffffff" stroke-width="1.00" fill="none" stroke-linecap="round" stroke-linejoin="round"/>
<path d="M394.5 368.0L385.5 368.0M394.5 374.0L385.5 374.0M390.0 368.0L390.0 374.0M394.5 382.1L394.5 376.1L385.5 376.1L385.5 382.1M390.0 376.1L390.0 380.3M385.5 384.2L391.2 384.2L394.5 387.2L391.2 390.2L385.5 390.2M388.8 384.2L388.8 390.2M394.5 392.3L385.5 392.3L385.5 396.5L387.3 398.3L392.7 398.3L394.5 396.5L394.5 392.3M394.5 406.4L394.5 400.4L385.5 400.4L385.5 406.4M390.0 400.4L390.0 404.6M385.5 408.5L394.5 408.5L394.5 413.3L393.3 414.5L391.2 414.5L390.0 413.3L390.0 408.5M390.0 411.2L385.5 414.5M390.0 426.2L391.5 424.7L393.0 424.7L394.5 426.2L394.5 429.2L393.0 430.7L391.5 430.7L390.0 429.2L390.0 426.2L388.5 424.7L387.0 424.7L385.5 426.2L385.5 429.2L387.0 430.7L388.5 430.7L390.0 429.2" stroke="#ffffff" stroke-width="1.05" fill="none" stroke-linecap="round" stroke-linejoin="round"/>
<path d="M404.0 493.5L404.0 496.0M404.0 495.2L399.0 495.2L398.0 494.2L398.0 493.0L399.0 492.0M398.0 497.5L404.0 497.5L404.0 500.7L403.2 501.5L401.8 501.5L401.0 500.7L401.0 497.5M403.0 503.0L404.0 504.0L404.0 506.0L403.0 507.0L402.0 507.0L398.0 503.0L398.0 507.0" stroke="#ffffff" stroke-width="1.00" fill="none" stroke-linecap="round" stroke-linejoin="round"/>
<path d="M394.5 492.0L385.5 492.0M394.5 498.0L385.5 498.0M390.0 492.0L390.0 498.0M394.5 506.1L394.5 500.1L385.5 500.1L385.5 506.1M390.0 500.1L390.0 504.3M385.5 508.2L391.2 508.2L394.5 511.2L391.2 514.2L385.5 514.2M388.8 508.2L388.8 514.2M394.5 516.3L385.5 516.3L385.5 520.5L387.3 522.3L392.7 522.3L394.5 520.5L394.5 516.3M394.5 530.4L394.5 524.4L385.5 524.4L385.5 530.4M390.0 524.4L390.0 528.6M385.5 532.5L394.5 532.5L394.5 537.3L393.3 538.5L391.2 538.5L390.0 537.3L390.0 532.5M390.0 535.2L385.5 538.5M390.0 550.2L391.5 548.7L393.0 548.7L394.5 550.2L394.5 553.2L393.0 554.7L391.5 554.7L390.0 553.2L390.0 550.2L388.5 548.7L387.0 548.7L385.5 550.2L385.5 553.2L387.0 554.7L388.5 554.7L390.0 553.2" stroke="#ffffff" stroke-width="1.05" fill="none" stroke-linecap="round" stroke-linejoin="round"/>
<rect x="427.6" y="367.0" width="67.0" height="38.0" rx="0" fill="none" stroke="#40e8f0" stroke-width="1"/>
<path d="M438.8 367.0L438.8 607.7L483.4 607.7L483.4 367.0L438.8 367.0" stroke="#e8ffff" stroke-width="1.1" fill="none" stroke-linejoin="round"/>
<path d="M461.0 367.0L461.0 607.7" stroke="#e8ffff" stroke-width="1.1" fill="none" stroke-linejoin="round"/>
<rect x="433.6" y="459.5" width="4.0" height="63.5" rx="0" fill="#e020e0" stroke="#000" stroke-width="1"/>
<rect x="449.0" y="459.5" width="4.0" height="63.5" rx="0" fill="#e020e0" stroke="#000" stroke-width="1"/>
<rect x="469.3" y="431.0" width="4.0" height="60.4" rx="0" fill="#e020e0" stroke="#000" stroke-width="1"/>
<rect x="484.0" y="431.0" width="4.0" height="60.4" rx="0" fill="#e020e0" stroke="#000" stroke-width="1"/>
<rect x="469.3" y="408.5" width="4.0" height="14.5" rx="0" fill="#e020e0" stroke="#000" stroke-width="1"/>
<rect x="484.0" y="408.5" width="4.0" height="14.5" rx="0" fill="#e020e0" stroke="#000" stroke-width="1"/>
<rect x="469.3" y="507.0" width="4.0" height="56.0" rx="0" fill="#e020e0" stroke="#000" stroke-width="1"/>
<rect x="484.0" y="507.0" width="4.0" height="56.0" rx="0" fill="#e020e0" stroke="#000" stroke-width="1"/>
<path d="M438.5 460.5L448.5 460.5" stroke="#0000b0" stroke-width="1.0" fill="none" stroke-linejoin="round"/>
<path d="M438.5 463.1L448.5 463.1" stroke="#0000b0" stroke-width="1.0" fill="none" stroke-linejoin="round"/>
<path d="M438.5 465.7L448.5 465.7" stroke="#0000b0" stroke-width="1.0" fill="none" stroke-linejoin="round"/>
<path d="M438.5 468.3L448.5 468.3" stroke="#0000b0" stroke-width="1.0" fill="none" stroke-linejoin="round"/>
<path d="M438.5 470.9L448.5 470.9" stroke="#0000b0" stroke-width="1.0" fill="none" stroke-linejoin="round"/>
<path d="M438.5 473.5L448.5 473.5" stroke="#0000b0" stroke-width="1.0" fill="none" stroke-linejoin="round"/>
<path d="M438.5 476.1L448.5 476.1" stroke="#0000b0" stroke-width="1.0" fill="none" stroke-linejoin="round"/>
<path d="M438.5 478.7L448.5 478.7" stroke="#0000b0" stroke-width="1.0" fill="none" stroke-linejoin="round"/>
<path d="M438.5 481.3L448.5 481.3" stroke="#0000b0" stroke-width="1.0" fill="none" stroke-linejoin="round"/>
<path d="M438.5 483.9L448.5 483.9" stroke="#0000b0" stroke-width="1.0" fill="none" stroke-linejoin="round"/>
<path d="M438.5 486.5L448.5 486.5" stroke="#0000b0" stroke-width="1.0" fill="none" stroke-linejoin="round"/>
<path d="M438.5 489.1L448.5 489.1" stroke="#0000b0" stroke-width="1.0" fill="none" stroke-linejoin="round"/>
<path d="M438.5 491.7L448.5 491.7" stroke="#0000b0" stroke-width="1.0" fill="none" stroke-linejoin="round"/>
<path d="M438.5 494.3L448.5 494.3" stroke="#0000b0" stroke-width="1.0" fill="none" stroke-linejoin="round"/>
<path d="M438.5 496.9L448.5 496.9" stroke="#0000b0" stroke-width="1.0" fill="none" stroke-linejoin="round"/>
<path d="M438.5 499.5L448.5 499.5" stroke="#0000b0" stroke-width="1.0" fill="none" stroke-linejoin="round"/>
<path d="M438.5 502.1L448.5 502.1" stroke="#0000b0" stroke-width="1.0" fill="none" stroke-linejoin="round"/>
<path d="M438.5 504.7L448.5 504.7" stroke="#0000b0" stroke-width="1.0" fill="none" stroke-linejoin="round"/>
<path d="M438.5 507.3L448.5 507.3" stroke="#0000b0" stroke-width="1.0" fill="none" stroke-linejoin="round"/>
<path d="M438.5 509.9L448.5 509.9" stroke="#0000b0" stroke-width="1.0" fill="none" stroke-linejoin="round"/>
<path d="M438.5 512.5L448.5 512.5" stroke="#0000b0" stroke-width="1.0" fill="none" stroke-linejoin="round"/>
<path d="M438.5 515.1L448.5 515.1" stroke="#0000b0" stroke-width="1.0" fill="none" stroke-linejoin="round"/>
<path d="M438.5 517.7L448.5 517.7" stroke="#0000b0" stroke-width="1.0" fill="none" stroke-linejoin="round"/>
<path d="M438.5 520.3L448.5 520.3" stroke="#0000b0" stroke-width="1.0" fill="none" stroke-linejoin="round"/>
<path d="M473.7 409.5L483.7 409.5" stroke="#0000b0" stroke-width="1.0" fill="none" stroke-linejoin="round"/>
<path d="M473.7 412.1L483.7 412.1" stroke="#0000b0" stroke-width="1.0" fill="none" stroke-linejoin="round"/>
<path d="M473.7 414.7L483.7 414.7" stroke="#0000b0" stroke-width="1.0" fill="none" stroke-linejoin="round"/>
<path d="M473.7 417.3L483.7 417.3" stroke="#0000b0" stroke-width="1.0" fill="none" stroke-linejoin="round"/>
<path d="M473.7 419.9L483.7 419.9" stroke="#0000b0" stroke-width="1.0" fill="none" stroke-linejoin="round"/>
<path d="M473.7 422.5L483.7 422.5" stroke="#0000b0" stroke-width="1.0" fill="none" stroke-linejoin="round"/>
<path d="M473.7 425.1L483.7 425.1" stroke="#0000b0" stroke-width="1.0" fill="none" stroke-linejoin="round"/>
<path d="M473.7 427.7L483.7 427.7" stroke="#0000b0" stroke-width="1.0" fill="none" stroke-linejoin="round"/>
<path d="M473.7 430.3L483.7 430.3" stroke="#0000b0" stroke-width="1.0" fill="none" stroke-linejoin="round"/>
<path d="M473.7 432.9L483.7 432.9" stroke="#0000b0" stroke-width="1.0" fill="none" stroke-linejoin="round"/>
<path d="M473.7 435.5L483.7 435.5" stroke="#0000b0" stroke-width="1.0" fill="none" stroke-linejoin="round"/>
<path d="M473.7 438.1L483.7 438.1" stroke="#0000b0" stroke-width="1.0" fill="none" stroke-linejoin="round"/>
<path d="M473.7 440.7L483.7 440.7" stroke="#0000b0" stroke-width="1.0" fill="none" stroke-linejoin="round"/>
<path d="M473.7 443.3L483.7 443.3" stroke="#0000b0" stroke-width="1.0" fill="none" stroke-linejoin="round"/>
<path d="M473.7 445.9L483.7 445.9" stroke="#0000b0" stroke-width="1.0" fill="none" stroke-linejoin="round"/>
<path d="M473.7 448.5L483.7 448.5" stroke="#0000b0" stroke-width="1.0" fill="none" stroke-linejoin="round"/>
<path d="M473.7 451.1L483.7 451.1" stroke="#0000b0" stroke-width="1.0" fill="none" stroke-linejoin="round"/>
<path d="M473.7 453.7L483.7 453.7" stroke="#0000b0" stroke-width="1.0" fill="none" stroke-linejoin="round"/>
<path d="M473.7 456.3L483.7 456.3" stroke="#0000b0" stroke-width="1.0" fill="none" stroke-linejoin="round"/>
<path d="M473.7 458.9L483.7 458.9" stroke="#0000b0" stroke-width="1.0" fill="none" stroke-linejoin="round"/>
<path d="M473.7 461.5L483.7 461.5" stroke="#0000b0" stroke-width="1.0" fill="none" stroke-linejoin="round"/>
<path d="M473.7 464.1L483.7 464.1" stroke="#0000b0" stroke-width="1.0" fill="none" stroke-linejoin="round"/>
<path d="M473.7 466.7L483.7 466.7" stroke="#0000b0" stroke-width="1.0" fill="none" stroke-linejoin="round"/>
<path d="M473.7 469.3L483.7 469.3" stroke="#0000b0" stroke-width="1.0" fill="none" stroke-linejoin="round"/>
<path d="M473.7 471.9L483.7 471.9" stroke="#0000b0" stroke-width="1.0" fill="none" stroke-linejoin="round"/>
<path d="M473.7 474.5L483.7 474.5" stroke="#0000b0" stroke-width="1.0" fill="none" stroke-linejoin="round"/>
<path d="M473.7 477.1L483.7 477.1" stroke="#0000b0" stroke-width="1.0" fill="none" stroke-linejoin="round"/>
<path d="M473.7 479.7L483.7 479.7" stroke="#0000b0" stroke-width="1.0" fill="none" stroke-linejoin="round"/>
<path d="M473.7 482.3L483.7 482.3" stroke="#0000b0" stroke-width="1.0" fill="none" stroke-linejoin="round"/>
<path d="M473.7 484.9L483.7 484.9" stroke="#0000b0" stroke-width="1.0" fill="none" stroke-linejoin="round"/>
<path d="M473.7 487.5L483.7 487.5" stroke="#0000b0" stroke-width="1.0" fill="none" stroke-linejoin="round"/>
<path d="M473.7 490.1L483.7 490.1" stroke="#0000b0" stroke-width="1.0" fill="none" stroke-linejoin="round"/>
<path d="M473.7 492.7L483.7 492.7" stroke="#0000b0" stroke-width="1.0" fill="none" stroke-linejoin="round"/>
<path d="M473.7 495.3L483.7 495.3" stroke="#0000b0" stroke-width="1.0" fill="none" stroke-linejoin="round"/>
<path d="M473.7 497.9L483.7 497.9" stroke="#0000b0" stroke-width="1.0" fill="none" stroke-linejoin="round"/>
<path d="M473.7 500.5L483.7 500.5" stroke="#0000b0" stroke-width="1.0" fill="none" stroke-linejoin="round"/>
<path d="M473.7 503.1L483.7 503.1" stroke="#0000b0" stroke-width="1.0" fill="none" stroke-linejoin="round"/>
<path d="M473.7 505.7L483.7 505.7" stroke="#0000b0" stroke-width="1.0" fill="none" stroke-linejoin="round"/>
<path d="M473.7 508.3L483.7 508.3" stroke="#0000b0" stroke-width="1.0" fill="none" stroke-linejoin="round"/>
<path d="M473.7 510.9L483.7 510.9" stroke="#0000b0" stroke-width="1.0" fill="none" stroke-linejoin="round"/>
<path d="M473.7 513.5L483.7 513.5" stroke="#0000b0" stroke-width="1.0" fill="none" stroke-linejoin="round"/>
<path d="M473.7 516.1L483.7 516.1" stroke="#0000b0" stroke-width="1.0" fill="none" stroke-linejoin="round"/>
<path d="M473.7 518.7L483.7 518.7" stroke="#0000b0" stroke-width="1.0" fill="none" stroke-linejoin="round"/>
<path d="M473.7 521.3L483.7 521.3" stroke="#0000b0" stroke-width="1.0" fill="none" stroke-linejoin="round"/>
<path d="M473.7 523.9L483.7 523.9" stroke="#0000b0" stroke-width="1.0" fill="none" stroke-linejoin="round"/>
<path d="M473.7 526.5L483.7 526.5" stroke="#0000b0" stroke-width="1.0" fill="none" stroke-linejoin="round"/>
<path d="M473.7 529.1L483.7 529.1" stroke="#0000b0" stroke-width="1.0" fill="none" stroke-linejoin="round"/>
<path d="M473.7 531.7L483.7 531.7" stroke="#0000b0" stroke-width="1.0" fill="none" stroke-linejoin="round"/>
<path d="M473.7 534.3L483.7 534.3" stroke="#0000b0" stroke-width="1.0" fill="none" stroke-linejoin="round"/>
<path d="M473.7 536.9L483.7 536.9" stroke="#0000b0" stroke-width="1.0" fill="none" stroke-linejoin="round"/>
<path d="M473.7 539.5L483.7 539.5" stroke="#0000b0" stroke-width="1.0" fill="none" stroke-linejoin="round"/>
<path d="M473.7 542.1L483.7 542.1" stroke="#0000b0" stroke-width="1.0" fill="none" stroke-linejoin="round"/>
<path d="M473.7 544.7L483.7 544.7" stroke="#0000b0" stroke-width="1.0" fill="none" stroke-linejoin="round"/>
<path d="M473.7 547.3L483.7 547.3" stroke="#0000b0" stroke-width="1.0" fill="none" stroke-linejoin="round"/>
<path d="M473.7 549.9L483.7 549.9" stroke="#0000b0" stroke-width="1.0" fill="none" stroke-linejoin="round"/>
<path d="M473.7 552.5L483.7 552.5" stroke="#0000b0" stroke-width="1.0" fill="none" stroke-linejoin="round"/>
<path d="M473.7 555.1L483.7 555.1" stroke="#0000b0" stroke-width="1.0" fill="none" stroke-linejoin="round"/>
<path d="M473.7 557.7L483.7 557.7" stroke="#0000b0" stroke-width="1.0" fill="none" stroke-linejoin="round"/>
<path d="M473.7 560.3L483.7 560.3" stroke="#0000b0" stroke-width="1.0" fill="none" stroke-linejoin="round"/>
<circle cx="440.4" cy="386.2" r="8.0" fill="#c8c0a8"/>
<circle cx="440.4" cy="386.2" r="0.9" fill="#fff"/>
<circle cx="480.2" cy="376.7" r="8.0" fill="#c8c0a8"/>
<circle cx="480.2" cy="376.7" r="0.9" fill="#fff"/>
<circle cx="460.5" cy="394.8" r="5.0" fill="#c8c0a8"/>
<circle cx="460.5" cy="394.8" r="5.5" fill="none" stroke="#40ff60" stroke-width="1.2"/>
<circle cx="460.5" cy="394.8" r="0.9" fill="#fff"/>
<circle cx="477.7" cy="400.6" r="5.0" fill="#c8c0a8"/>
<circle cx="477.7" cy="400.6" r="0.9" fill="#fff"/>
<circle cx="440.4" cy="585.4" r="8.0" fill="#c8c0a8"/>
<circle cx="440.4" cy="585.4" r="0.9" fill="#fff"/>
<circle cx="480.2" cy="595.0" r="8.0" fill="#c8c0a8"/>
<circle cx="480.2" cy="595.0" r="0.9" fill="#fff"/>
<circle cx="460.5" cy="578.4" r="5.0" fill="#c8c0a8"/>
<circle cx="460.5" cy="578.4" r="0.9" fill="#fff"/>
<circle cx="477.7" cy="572.0" r="5.0" fill="#c8c0a8"/>
<circle cx="477.7" cy="572.0" r="0.9" fill="#fff"/>
<path d="M430.0 461.0L470.0 461.0" stroke="#fff" stroke-width="1.2" fill="none" stroke-linejoin="round"/>
<path d="M461.0 456.0L461.0 466.0" stroke="#fff" stroke-width="1.2" fill="none" stroke-linejoin="round"/>
<circle cx="461.0" cy="461.0" r="3.0" fill="none" stroke="#fff" stroke-width="1"/>
<path d="M434.0 620.8L434.0 614.6L437.3 611.0L440.5 614.6L440.5 620.8M434.0 617.2L440.5 617.2M449.7 612.6L448.0 611.0L444.8 611.0L443.1 612.6L443.1 619.2L444.8 620.8L448.0 620.8L449.7 619.2M453.9 611.0L457.2 611.0L458.8 612.6L458.8 619.2L457.2 620.8L453.9 620.8L452.3 619.2L452.3 612.6L453.9 611.0M456.4 618.4L458.8 620.8M466.3 620.8L466.3 611.0L461.4 617.5L468.0 617.5M470.6 612.6L472.2 611.0L475.5 611.0L477.1 612.6L477.1 614.3L475.5 615.9L477.1 617.5L477.1 619.2L475.5 620.8L472.2 620.8L470.6 619.2M473.0 615.9L475.5 615.9M486.3 611.0L479.7 611.0L479.7 615.9L484.6 615.9L486.3 617.5L486.3 619.2L484.6 620.8L481.4 620.8L479.7 619.2" stroke="#ffffff" stroke-width="1.10" fill="none" stroke-linecap="round" stroke-linejoin="round"/>
<path d="M457.0 630.0L457.0 624.0L460.2 624.0L461.0 624.8L461.0 626.2L460.2 627.0L457.0 627.0M463.5 625.0L464.5 624.0L464.5 630.0M463.5 630.0L465.5 630.0" stroke="#ffffff" stroke-width="1.00" fill="none" stroke-linecap="round" stroke-linejoin="round"/>
<path d="M459.9 411.1L459.0 410.2L464.5 410.2M464.5 411.1L464.5 409.2" stroke="#ffffff" stroke-width="1.00" fill="none" stroke-linecap="round" stroke-linejoin="round"/>
<path d="M474.9 416.0L474.0 415.1L474.0 413.2L474.9 412.3L475.8 412.3L476.8 413.2L477.7 412.3L478.6 412.3L479.5 413.2L479.5 415.1L478.6 416.0M476.8 414.6L476.8 413.2M474.0 407.3L474.0 411.0L476.8 411.0L476.8 408.2L477.7 407.3L478.6 407.3L479.5 408.2L479.5 410.0L478.6 411.0" stroke="#ffffff" stroke-width="1.00" fill="none" stroke-linecap="round" stroke-linejoin="round"/>
<path d="M451.0 568.0L450.0 567.0L450.0 565.0L451.0 564.0L452.0 564.0L453.0 565.0L454.0 564.0L455.0 564.0L456.0 565.0L456.0 567.0L455.0 568.0M453.0 566.5L453.0 565.0M456.0 559.5L450.0 559.5L454.0 562.5L454.0 558.5" stroke="#ffffff" stroke-width="1.00" fill="none" stroke-linecap="round" stroke-linejoin="round"/>
<path d="M464.0 564.0L463.0 565.0L463.0 567.0L464.0 568.0L468.0 568.0L469.0 567.0L469.0 565.0L468.0 564.0L467.0 564.0L466.0 565.0L466.0 568.0M468.0 562.5L469.0 561.5L469.0 559.5L468.0 558.5L464.0 558.5L463.0 559.5L463.0 561.5L464.0 562.5L465.0 562.5L466.0 561.5L466.0 558.5" stroke="#ffffff" stroke-width="1.00" fill="none" stroke-linecap="round" stroke-linejoin="round"/>
<path d="M497.0 374.4L497.0 376.7M497.0 375.9L492.4 375.9L491.5 375.0L491.5 373.9L492.4 373.0M496.1 379.0L497.0 379.9L491.5 379.9M491.5 379.0L491.5 380.8M497.0 386.8L497.0 383.1L494.2 383.1L494.2 385.8L493.3 386.8L492.4 386.8L491.5 385.8L491.5 384.0L492.4 383.1M491.5 388.1L495.2 388.1L495.2 390.9L494.2 391.8L491.5 391.8M495.2 390.0L491.5 390.0M491.5 393.2L495.2 393.2L495.2 395.9L494.2 396.8L491.5 396.8M495.2 395.0L491.5 395.0M492.1 400.2L490.6 399.7M494.2 403.7L494.2 406.5M496.1 408.3L497.0 409.2L497.0 411.0L496.1 412.0L495.2 412.0L494.2 411.0L493.3 412.0L492.4 412.0L491.5 411.0L491.5 409.2L492.4 408.3M494.2 409.7L494.2 411.0M491.5 413.3L495.2 413.3L495.2 416.1L494.2 417.0L491.5 417.0M495.2 415.2L491.5 415.2M491.5 418.4L495.2 418.4L495.2 421.1L494.2 422.0L491.5 422.0M495.2 420.2L491.5 420.2" stroke="#ffffff" stroke-width="1.00" fill="none" stroke-linecap="round" stroke-linejoin="round"/>
<rect x="640.8" y="389.6" width="15.0" height="15.4" rx="2.5" fill="#f0f8ff"/>
<rect x="643.3" y="392.1" width="10.0" height="10.4" rx="0" fill="#c8c0a8"/>
<path d="M643.3 402.5L653.3 402.5L653.3 392.1" stroke="#202020" stroke-width="1.2" fill="none" stroke-linejoin="round"/>
<path d="M639.0 401.0L638.0 402.0L638.0 404.0L639.0 405.0L643.0 405.0L644.0 404.0L644.0 402.0L643.0 401.0L641.5 401.0L641.5 402.5M644.0 399.5L638.0 399.5L644.0 395.5L638.0 395.5M638.0 394.0L644.0 394.0L644.0 391.2L642.8 390.0L639.2 390.0L638.0 391.2L638.0 394.0" stroke="#ffffff" stroke-width="1.00" fill="none" stroke-linecap="round" stroke-linejoin="round"/>
<path d="M676.5 377.5L679.1 377.5M678.3 377.5L678.3 382.7L677.3 383.7L676.0 383.7L675.0 382.7M681.7 378.5L682.8 377.5L682.8 383.7M681.7 383.7L683.8 383.7M687.4 378.5L688.4 377.5L688.4 383.7M687.4 383.7L689.5 383.7" stroke="#ffffff" stroke-width="1.00" fill="none" stroke-linecap="round" stroke-linejoin="round"/>
<path d="M732.0 394.3L732.0 397.2L730.5 398.7L724.7 398.7L723.2 397.2L723.2 394.3L724.7 392.8L730.5 392.8L732.0 394.3M732.0 400.9L724.7 400.9L723.2 402.3L723.2 405.3L724.7 406.7L732.0 406.7M732.0 408.9L732.0 414.8M732.0 411.9L723.2 411.9M727.6 417.7L727.6 422.1M732.0 426.5L732.0 429.5L730.5 430.9L724.7 430.9L723.2 429.5L723.2 426.5L724.7 425.1L730.5 425.1L732.0 426.5M725.4 428.7L723.2 430.9" stroke="#ffffff" stroke-width="1.00" fill="none" stroke-linecap="round" stroke-linejoin="round"/>
<rect x="707.3" y="458.0" width="48.2" height="58.0" rx="0" fill="none" stroke="#c8f4ff" stroke-width="1"/>
<path d="M749.0 458.0L755.5 458.0L755.5 516.0L749.0 516.0" stroke="#e8e040" stroke-width="1.0" fill="none" stroke-linejoin="round"/>
<rect x="707.5" y="508.5" width="6.5" height="7.0" rx="0" fill="#e8f0ff"/>
<rect x="677.0" y="460.3" width="28.0" height="53.7" rx="0" fill="#000"/>
<rect x="679.0" y="460.5" width="11.0" height="9.0" rx="0" fill="#d0c8dc"/>
<rect x="693.0" y="460.5" width="11.0" height="9.0" rx="0" fill="#d0c8dc"/>
<rect x="679.0" y="475.0" width="11.0" height="9.0" rx="0" fill="#d0c8dc"/>
<rect x="693.0" y="475.0" width="11.0" height="9.0" rx="0" fill="#d0c8dc"/>
<rect x="679.0" y="489.5" width="11.0" height="9.0" rx="0" fill="#d0c8dc"/>
<rect x="693.0" y="489.5" width="11.0" height="9.0" rx="0" fill="#d0c8dc"/>
<rect x="679.0" y="503.0" width="11.0" height="9.0" rx="0" fill="#d0c8dc"/>
<rect x="693.0" y="503.0" width="11.0" height="9.0" rx="0" fill="#d0c8dc"/>
<ellipse cx="684.5" cy="507.5" rx="6" ry="4.5" fill="#d0c8e8"/>
<path d="M716.0 450.0L716.0 456.2L718.9 456.2L720.1 455.0L720.1 451.2L718.9 450.0L716.0 450.0M721.7 453.1L725.0 453.1L725.8 453.9L725.8 455.4L725.0 456.2L721.7 456.2L721.7 450.0L724.8 450.0L725.6 450.8L725.6 452.3L724.8 453.1M728.4 451.0L729.4 450.0L729.4 456.2M728.4 456.2L730.5 456.2" stroke="#ffffff" stroke-width="1.00" fill="none" stroke-linecap="round" stroke-linejoin="round"/>
<path d="M728.0 465.0L728.0 469.0M728.0 467.0L722.0 467.0M727.0 474.9L728.0 473.9L728.0 471.9L727.0 470.9L726.0 470.9L725.0 471.9L725.0 473.9L724.0 474.9L723.0 474.9L722.0 473.9L722.0 471.9L723.0 470.9M728.0 476.8L722.0 476.8L723.7 478.8L722.0 480.8L728.0 480.8M725.0 483.2L725.0 486.2M722.0 491.6L728.0 491.6L724.0 488.6L724.0 492.6M728.0 494.2L722.0 498.8M728.0 498.8L722.0 494.2M727.0 500.4L728.0 501.4L728.0 503.4L727.0 504.4L726.0 504.4L722.0 500.4L722.0 504.4M728.0 510.3L728.0 506.3L722.0 506.3M725.0 506.3L725.0 509.1" stroke="#8fb4f4" stroke-width="0.90" fill="none" stroke-linecap="round" stroke-linejoin="round"/>
<path d="M686.4 521.5L689.2 521.5M687.8 521.5L687.8 530.0M686.4 530.0L689.2 530.0M693.9 530.0L699.6 521.5M704.3 521.5L707.1 521.5L708.5 522.9L708.5 528.6L707.1 530.0L704.3 530.0L702.9 528.6L702.9 522.9L704.3 521.5M706.4 527.9L708.5 530.0M722.1 521.5L725.0 521.5L726.4 522.9L726.4 528.6L725.0 530.0L722.1 530.0L720.7 528.6L720.7 522.9L722.1 521.5M729.6 521.5L729.6 528.6L731.0 530.0L733.9 530.0L735.3 528.6L735.3 521.5M738.5 521.5L744.2 521.5M741.4 521.5L741.4 530.0" stroke="#ffffff" stroke-width="1.00" fill="none" stroke-linecap="round" stroke-linejoin="round"/>
<path d="M673.5 521.5L676.1 521.5M675.3 521.5L675.3 526.7L674.3 527.7L673.0 527.7L672.0 526.7M678.7 522.5L679.8 521.5L679.8 527.7M678.7 527.7L680.8 527.7M684.4 521.5L686.5 521.5L687.5 522.5L687.5 526.7L686.5 527.7L684.4 527.7L683.4 526.7L683.4 522.5L684.4 521.5" stroke="#ffffff" stroke-width="1.00" fill="none" stroke-linecap="round" stroke-linejoin="round"/>
<path d="M732.0 536.5L732.0 539.4L730.5 540.9L724.7 540.9L723.2 539.4L723.2 536.5L724.7 535.0L730.5 535.0L732.0 536.5M732.0 543.1L724.7 543.1L723.2 544.5L723.2 547.5L724.7 548.9L732.0 548.9M732.0 551.1L732.0 557.0M732.0 554.1L723.2 554.1M727.6 559.9L727.6 564.3M732.0 568.7L732.0 571.7M732.0 570.2L723.2 570.2M723.2 568.7L723.2 571.7" stroke="#ffffff" stroke-width="1.00" fill="none" stroke-linecap="round" stroke-linejoin="round"/>
<circle cx="352.0" cy="753.0" r="4.5" fill="#d0c8e8" stroke="#0000a0" stroke-width="1"/>
<rect x="382.0" y="787.0" width="12.3" height="12.5" rx="0" fill="#0a7a6a"/>
<rect x="208.4" y="594.8" width="43.3" height="29.2" rx="0" fill="none" stroke="#e8ffff" stroke-width="1"/>
<path d="M222.0 594.8L222.0 617.0" stroke="#e8ffff" stroke-width="1.0" fill="none" stroke-linejoin="round"/>
<path d="M208.4 617.0L251.7 617.0" stroke="#e8ffff" stroke-width="1.0" fill="none" stroke-linejoin="round"/>
<rect x="210.5" y="604.5" width="9.0" height="9.0" rx="0" fill="#c8c0a8" stroke="#000" stroke-width="1.5"/>
<circle cx="230.0" cy="609.0" r="4.4" fill="#c8c0a8" stroke="#000" stroke-width="0.8" stroke-dasharray="1 1"/>
<circle cx="244.0" cy="609.0" r="4.4" fill="#d0c8e8" stroke="#000" stroke-width="0.8" stroke-dasharray="1 1"/>
<path d="M186.5 624.5L186.5 620.5M186.5 622.5L192.5 622.5M192.5 619.0L186.5 619.0L186.5 615.8L187.3 615.0L188.7 615.0L189.5 615.8L189.5 619.0M187.5 612.5L186.5 611.5L192.5 611.5M192.5 612.5L192.5 610.5" stroke="#ffffff" stroke-width="1.00" fill="none" stroke-linecap="round" stroke-linejoin="round"/>
<path d="M197.0 624.5L206.0 624.5L206.0 618.5M197.0 614.8L197.0 611.8L198.5 610.2L204.5 610.2L206.0 611.8L206.0 614.8L204.5 616.2L198.5 616.2L197.0 614.8M201.5 607.2L201.5 602.8M197.0 598.2L197.0 595.2M197.0 596.8L206.0 596.8M206.0 598.2L206.0 595.2" stroke="#ffffff" stroke-width="1.05" fill="none" stroke-linecap="round" stroke-linejoin="round"/>
<path d="M215.0 620.8l3.2 3.2l-3.2 3.2l-3.2 -3.2z" fill="#d0c8e8"/>
<path d="M244.0 620.8l3.2 3.2l-3.2 3.2l-3.2 -3.2z" fill="#d0c8e8"/>
<path d="M210.7 633.0L205.7 633.0L205.7 645.0L210.7 645.0" stroke="#e8ffff" stroke-width="2.2" fill="none" stroke-linejoin="round"/>
<path d="M231.7 633.0L236.7 633.0L236.7 645.0L231.7 645.0" stroke="#e8ffff" stroke-width="2.2" fill="none" stroke-linejoin="round"/>
<rect x="208.2" y="635.0" width="7.5" height="8.0" rx="0" fill="#10e0f8"/>
<rect x="226.7" y="635.0" width="7.5" height="8.0" rx="0" fill="#10e0f8"/>
<path d="M218.2 635.5L218.2 642.0L220.4 640.2L222.5 642.0L222.5 635.5" stroke="#e8ffff" stroke-width="1.10" fill="none" stroke-linecap="round" stroke-linejoin="round"/>
<path d="M250.3 633.0L245.3 633.0L245.3 645.0L250.3 645.0" stroke="#e8ffff" stroke-width="2.2" fill="none" stroke-linejoin="round"/>
<path d="M271.3 633.0L276.3 633.0L276.3 645.0L271.3 645.0" stroke="#e8ffff" stroke-width="2.2" fill="none" stroke-linejoin="round"/>
<rect x="247.8" y="635.0" width="7.5" height="8.0" rx="0" fill="#10e0f8"/>
<rect x="266.3" y="635.0" width="7.5" height="8.0" rx="0" fill="#10e0f8"/>
<path d="M257.8 635.5L257.8 642.0L260.0 640.2L262.1 642.0L262.1 635.5" stroke="#e8ffff" stroke-width="1.10" fill="none" stroke-linecap="round" stroke-linejoin="round"/>
<path d="M210.7 650.3L205.7 650.3L205.7 662.3L210.7 662.3" stroke="#e8ffff" stroke-width="2.2" fill="none" stroke-linejoin="round"/>
<path d="M231.7 650.3L236.7 650.3L236.7 662.3L231.7 662.3" stroke="#e8ffff" stroke-width="2.2" fill="none" stroke-linejoin="round"/>
<rect x="208.2" y="652.3" width="7.5" height="8.0" rx="0" fill="#10e0f8"/>
<rect x="226.7" y="652.3" width="7.5" height="8.0" rx="0" fill="#10e0f8"/>
<path d="M218.2 652.8L218.2 659.3L220.4 657.5L222.5 659.3L222.5 652.8" stroke="#e8ffff" stroke-width="1.10" fill="none" stroke-linecap="round" stroke-linejoin="round"/>
<path d="M250.3 650.3L245.3 650.3L245.3 662.3L250.3 662.3" stroke="#e8ffff" stroke-width="2.2" fill="none" stroke-linejoin="round"/>
<path d="M271.3 650.3L276.3 650.3L276.3 662.3L271.3 662.3" stroke="#e8ffff" stroke-width="2.2" fill="none" stroke-linejoin="round"/>
<rect x="247.8" y="652.3" width="7.5" height="8.0" rx="0" fill="#10e0f8"/>
<rect x="266.3" y="652.3" width="7.5" height="8.0" rx="0" fill="#10e0f8"/>
<path d="M257.8 652.8L257.8 659.3L260.0 657.5L262.1 659.3L262.1 652.8" stroke="#e8ffff" stroke-width="1.10" fill="none" stroke-linecap="round" stroke-linejoin="round"/>
<path d="M186.0 642.0L186.0 636.0L189.2 636.0L190.0 636.8L190.0 638.2L189.2 639.0L186.0 639.0M187.8 639.0L190.0 642.0M192.5 637.0L193.5 636.0L193.5 642.0M192.5 642.0L194.5 642.0M201.0 636.0L197.0 636.0L197.0 639.0L200.0 639.0L201.0 640.0L201.0 641.0L200.0 642.0L198.0 642.0L197.0 641.0" stroke="#ffffff" stroke-width="1.00" fill="none" stroke-linecap="round" stroke-linejoin="round"/>
<path d="M280.0 642.0L280.0 636.0L283.2 636.0L284.0 636.8L284.0 638.2L283.2 639.0L280.0 639.0M281.8 639.0L284.0 642.0M286.5 637.0L287.5 636.0L287.5 642.0M286.5 642.0L288.5 642.0M294.0 642.0L294.0 636.0L291.0 640.0L295.0 640.0" stroke="#ffffff" stroke-width="1.00" fill="none" stroke-linecap="round" stroke-linejoin="round"/>
<path d="M186.0 659.0L186.0 653.0L189.2 653.0L190.0 653.8L190.0 655.2L189.2 656.0L186.0 656.0M187.8 656.0L190.0 659.0M192.5 654.0L193.5 653.0L193.5 659.0M192.5 659.0L194.5 659.0M197.0 654.0L198.0 653.0L200.0 653.0L201.0 654.0L201.0 655.0L200.0 656.0L201.0 657.0L201.0 658.0L200.0 659.0L198.0 659.0L197.0 658.0M198.5 656.0L200.0 656.0" stroke="#ffffff" stroke-width="1.00" fill="none" stroke-linecap="round" stroke-linejoin="round"/>
<path d="M280.0 659.0L280.0 653.0L283.2 653.0L284.0 653.8L284.0 655.2L283.2 656.0L280.0 656.0M281.8 656.0L284.0 659.0M286.5 654.0L287.5 653.0L287.5 659.0M286.5 659.0L288.5 659.0M292.0 654.0L293.0 653.0L293.0 659.0M292.0 659.0L294.0 659.0" stroke="#ffffff" stroke-width="1.00" fill="none" stroke-linecap="round" stroke-linejoin="round"/>
<path d="M215.3 645.3L214.5 644.5L212.8 644.5L212.0 645.3L212.0 648.7L212.8 649.5L214.5 649.5L215.3 648.7L215.3 647.8L214.5 647.0L212.0 647.0M219.1 649.5L219.1 644.5L216.6 647.8L219.9 647.8M222.6 649.2L223.1 649.2L223.1 649.5L222.6 649.5L222.6 649.2M225.8 648.7L226.6 649.5L228.2 649.5L229.1 648.7L229.1 645.3L228.2 644.5L226.6 644.5L225.8 645.3L225.8 646.2L226.6 647.0L229.1 647.0" stroke="#8fb4f4" stroke-width="0.90" fill="none" stroke-linecap="round" stroke-linejoin="round"/>
<path d="M252.0 645.3L252.8 644.5L254.5 644.5L255.3 645.3L255.3 646.2L254.5 647.0L255.3 647.8L255.3 648.7L254.5 649.5L252.8 649.5L252.0 648.7M253.2 647.0L254.5 647.0M259.1 649.5L259.1 644.5L256.6 647.8L259.9 647.8M262.0 647.0L261.2 646.2L261.2 645.3L262.0 644.5L263.7 644.5L264.5 645.3L264.5 646.2L263.7 647.0L262.0 647.0L261.2 647.8L261.2 648.7L262.0 649.5L263.7 649.5L264.5 648.7L264.5 647.8L263.7 647.0" stroke="#8fb4f4" stroke-width="0.90" fill="none" stroke-linecap="round" stroke-linejoin="round"/>
<path d="M212.8 664.0L212.0 663.2L212.0 662.3L212.8 661.5L214.5 661.5L215.3 662.3L215.3 663.2L214.5 664.0L212.8 664.0L212.0 664.8L212.0 665.7L212.8 666.5L214.5 666.5L215.3 665.7L215.3 664.8L214.5 664.0M219.9 662.3L219.1 661.5L217.4 661.5L216.6 662.3L216.6 665.7L217.4 666.5L219.1 666.5L219.9 665.7L219.9 664.8L219.1 664.0L216.6 664.0M222.6 666.2L223.1 666.2L223.1 666.5L222.6 666.5L222.6 666.2M229.1 662.3L228.2 661.5L226.6 661.5L225.8 662.3L225.8 665.7L226.6 666.5L228.2 666.5L229.1 665.7L229.1 664.8L228.2 664.0L225.8 664.0" stroke="#8fb4f4" stroke-width="0.90" fill="none" stroke-linecap="round" stroke-linejoin="round"/>
<path d="M252.0 661.5L255.3 661.5L253.2 666.5M257.4 662.3L258.2 661.5L258.2 666.5M257.4 666.5L259.1 666.5M262.6 666.2L263.1 666.2L263.1 666.5L262.6 666.5L262.6 666.2M269.1 661.5L265.8 661.5L265.8 664.0L268.2 664.0L269.1 664.8L269.1 665.7L268.2 666.5L266.6 666.5L265.8 665.7" stroke="#8fb4f4" stroke-width="0.90" fill="none" stroke-linecap="round" stroke-linejoin="round"/>
<rect x="166.0" y="674.0" width="49.0" height="58.4" rx="0" fill="none" stroke="#c8f4ff" stroke-width="1"/>
<path d="M165.5 674.0L172.0 674.0" stroke="#e8e040" stroke-width="1.0" fill="none" stroke-linejoin="round"/>
<path d="M165.5 732.4L172.0 732.4" stroke="#e8e040" stroke-width="1.0" fill="none" stroke-linejoin="round"/>
<path d="M166.5 674.0L166.5 732.4" stroke="#e8e040" stroke-width="1.0" fill="none" stroke-linejoin="round"/>
<rect x="208.0" y="674.5" width="6.5" height="7.0" rx="0" fill="#e8f0ff"/>
<rect x="215.8" y="676.6" width="28.5" height="53.4" rx="0" fill="#000"/>
<rect x="217.5" y="676.6" width="10.7" height="10.0" rx="0" fill="#e0ffff"/>
<rect x="232.0" y="676.6" width="10.6" height="10.0" rx="0" fill="#e0ffff"/>
<rect x="217.5" y="691.5" width="10.7" height="10.0" rx="0" fill="#e0ffff"/>
<rect x="232.0" y="691.5" width="10.6" height="10.0" rx="0" fill="#e0ffff"/>
<rect x="217.5" y="705.0" width="10.7" height="10.0" rx="0" fill="#e0ffff"/>
<rect x="232.0" y="705.0" width="10.6" height="10.0" rx="0" fill="#e0ffff"/>
<rect x="217.5" y="720.0" width="10.7" height="10.0" rx="0" fill="#e0ffff"/>
<rect x="232.0" y="720.0" width="10.6" height="10.0" rx="0" fill="#e0ffff"/>
<ellipse cx="237" cy="681.6" rx="6" ry="5" fill="#e0ffff"/>
<path d="M178.6 665.5L178.6 671.7L182.7 671.7M185.3 665.5L187.4 665.5L188.4 666.5L188.4 670.7L187.4 671.7L185.3 671.7L184.3 670.7L184.3 666.5L185.3 665.5M190.0 666.5L191.0 665.5L193.1 665.5L194.1 666.5L194.1 667.6L190.0 671.7L194.1 671.7" stroke="#ffffff" stroke-width="1.00" fill="none" stroke-linecap="round" stroke-linejoin="round"/>
<path d="M193.5 726.0L193.5 722.0M193.5 724.0L199.5 724.0M194.5 716.3L193.5 717.3L193.5 719.3L194.5 720.3L195.5 720.3L196.5 719.3L196.5 717.3L197.5 716.3L198.5 716.3L199.5 717.3L199.5 719.3L198.5 720.3M193.5 714.6L199.5 714.6L197.8 712.6L199.5 710.6L193.5 710.6M196.5 708.4L196.5 705.4M199.5 700.2L193.5 700.2L197.5 703.2L197.5 699.2M193.5 697.8L199.5 693.2M193.5 693.2L199.5 697.8M194.5 691.8L193.5 690.8L193.5 688.8L194.5 687.8L195.5 687.8L199.5 691.8L199.5 687.8M193.5 682.1L193.5 686.1L199.5 686.1M196.5 686.1L196.5 683.3" stroke="#8fb4f4" stroke-width="0.90" fill="none" stroke-linecap="round" stroke-linejoin="round"/>
<path d="M176.0 735.5L176.0 744.5L182.0 744.5M187.1 744.0L188.0 744.0L188.0 744.5L187.1 744.5L187.1 744.0M194.6 735.5L197.6 735.5L199.1 737.0L199.1 743.0L197.6 744.5L194.6 744.5L193.1 743.0L193.1 737.0L194.6 735.5M204.2 744.0L205.1 744.0L205.1 744.5L204.2 744.5L204.2 744.0M218.8 740.0L223.6 740.0L224.8 741.2L224.8 743.3L223.6 744.5L218.8 744.5L218.8 735.5L223.2 735.5L224.4 736.7L224.4 738.8L223.2 740.0M227.3 735.5L227.3 743.0L228.8 744.5L231.8 744.5L233.3 743.0L233.3 735.5M241.8 737.0L240.3 735.5L237.3 735.5L235.8 737.0L235.8 738.5L237.3 740.0L240.3 740.0L241.8 741.5L241.8 743.0L240.3 744.5L237.3 744.5L235.8 743.0" stroke="#ffffff" stroke-width="1.00" fill="none" stroke-linecap="round" stroke-linejoin="round"/>
<path d="M210.7 747.6L205.7 747.6L205.7 759.6L210.7 759.6" stroke="#e8ffff" stroke-width="2.2" fill="none" stroke-linejoin="round"/>
<path d="M231.7 747.6L236.7 747.6L236.7 759.6L231.7 759.6" stroke="#e8ffff" stroke-width="2.2" fill="none" stroke-linejoin="round"/>
<rect x="208.2" y="749.6" width="7.5" height="8.0" rx="0" fill="#10e0f8"/>
<rect x="226.7" y="749.6" width="7.5" height="8.0" rx="0" fill="#10e0f8"/>
<path d="M218.2 750.1L218.2 756.6L220.4 754.8L222.5 756.6L222.5 750.1" stroke="#e8ffff" stroke-width="1.10" fill="none" stroke-linecap="round" stroke-linejoin="round"/>
<path d="M250.3 747.6L245.3 747.6L245.3 759.6L250.3 759.6" stroke="#e8ffff" stroke-width="2.2" fill="none" stroke-linejoin="round"/>
<path d="M271.3 747.6L276.3 747.6L276.3 759.6L271.3 759.6" stroke="#e8ffff" stroke-width="2.2" fill="none" stroke-linejoin="round"/>
<rect x="247.8" y="749.6" width="7.5" height="8.0" rx="0" fill="#10e0f8"/>
<rect x="266.3" y="749.6" width="7.5" height="8.0" rx="0" fill="#10e0f8"/>
<path d="M257.8 750.1L257.8 756.6L260.0 754.8L262.1 756.6L262.1 750.1" stroke="#e8ffff" stroke-width="1.10" fill="none" stroke-linecap="round" stroke-linejoin="round"/>
<path d="M210.7 773.7L205.7 773.7L205.7 785.7L210.7 785.7" stroke="#e8ffff" stroke-width="2.2" fill="none" stroke-linejoin="round"/>
<path d="M231.7 773.7L236.7 773.7L236.7 785.7L231.7 785.7" stroke="#e8ffff" stroke-width="2.2" fill="none" stroke-linejoin="round"/>
<rect x="208.2" y="775.7" width="7.5" height="8.0" rx="0" fill="#10e0f8"/>
<rect x="226.7" y="775.7" width="7.5" height="8.0" rx="0" fill="#10e0f8"/>
<path d="M218.2 776.2L218.2 782.7L220.4 780.9L222.5 782.7L222.5 776.2" stroke="#e8ffff" stroke-width="1.10" fill="none" stroke-linecap="round" stroke-linejoin="round"/>
<path d="M250.3 773.7L245.3 773.7L245.3 785.7L250.3 785.7" stroke="#e8ffff" stroke-width="2.2" fill="none" stroke-linejoin="round"/>
<path d="M271.3 773.7L276.3 773.7L276.3 785.7L271.3 785.7" stroke="#e8ffff" stroke-width="2.2" fill="none" stroke-linejoin="round"/>
<rect x="247.8" y="775.7" width="7.5" height="8.0" rx="0" fill="#10e0f8"/>
<rect x="266.3" y="775.7" width="7.5" height="8.0" rx="0" fill="#10e0f8"/>
<path d="M257.8 776.2L257.8 782.7L260.0 780.9L262.1 782.7L262.1 776.2" stroke="#e8ffff" stroke-width="1.10" fill="none" stroke-linecap="round" stroke-linejoin="round"/>
<path d="M186.0 756.5L186.0 750.5L189.2 750.5L190.0 751.3L190.0 752.7L189.2 753.5L186.0 753.5M187.8 753.5L190.0 756.5M191.5 751.5L192.5 750.5L194.5 750.5L195.5 751.5L195.5 752.5L191.5 756.5L195.5 756.5M197.0 751.5L198.0 750.5L200.0 750.5L201.0 751.5L201.0 752.5L200.0 753.5L201.0 754.5L201.0 755.5L200.0 756.5L198.0 756.5L197.0 755.5M198.5 753.5L200.0 753.5" stroke="#ffffff" stroke-width="1.00" fill="none" stroke-linecap="round" stroke-linejoin="round"/>
<path d="M280.0 756.5L280.0 750.5L283.2 750.5L284.0 751.3L284.0 752.7L283.2 753.5L280.0 753.5M281.8 753.5L284.0 756.5M285.5 751.5L286.5 750.5L288.5 750.5L289.5 751.5L289.5 752.5L285.5 756.5L289.5 756.5M292.0 751.5L293.0 750.5L293.0 756.5M292.0 756.5L294.0 756.5" stroke="#ffffff" stroke-width="1.00" fill="none" stroke-linecap="round" stroke-linejoin="round"/>
<path d="M186.0 782.5L186.0 776.5L189.2 776.5L190.0 777.3L190.0 778.7L189.2 779.5L186.0 779.5M187.8 779.5L190.0 782.5M191.5 777.5L192.5 776.5L194.5 776.5L195.5 777.5L195.5 778.5L191.5 782.5L195.5 782.5M201.0 776.5L197.0 776.5L197.0 779.5L200.0 779.5L201.0 780.5L201.0 781.5L200.0 782.5L198.0 782.5L197.0 781.5" stroke="#ffffff" stroke-width="1.00" fill="none" stroke-linecap="round" stroke-linejoin="round"/>
<path d="M280.0 782.5L280.0 776.5L283.2 776.5L284.0 777.3L284.0 778.7L283.2 779.5L280.0 779.5M281.8 779.5L284.0 782.5M285.5 777.5L286.5 776.5L288.5 776.5L289.5 777.5L289.5 778.5L285.5 782.5L289.5 782.5M294.0 782.5L294.0 776.5L291.0 780.5L295.0 780.5" stroke="#ffffff" stroke-width="1.00" fill="none" stroke-linecap="round" stroke-linejoin="round"/>
<path d="M215.8 762.5L215.0 761.7L215.0 760.8L215.8 760.0L217.5 760.0L218.3 760.8L218.3 761.7L217.5 762.5L215.8 762.5L215.0 763.3L215.0 764.2L215.8 765.0L217.5 765.0L218.3 764.2L218.3 763.3L217.5 762.5M222.9 760.8L222.1 760.0L220.4 760.0L219.6 760.8L219.6 764.2L220.4 765.0L222.1 765.0L222.9 764.2L222.9 763.3L222.1 762.5L219.6 762.5M225.6 764.8L226.1 764.8L226.1 765.0L225.6 765.0L225.6 764.8M232.1 760.8L231.2 760.0L229.6 760.0L228.8 760.8L228.8 764.2L229.6 765.0L231.2 765.0L232.1 764.2L232.1 763.3L231.2 762.5L228.8 762.5" stroke="#8fb4f4" stroke-width="0.90" fill="none" stroke-linecap="round" stroke-linejoin="round"/>
<path d="M252.0 760.0L255.3 760.0L253.2 765.0M257.4 760.8L258.2 760.0L258.2 765.0M257.4 765.0L259.1 765.0M262.6 764.8L263.1 764.8L263.1 765.0L262.6 765.0L262.6 764.8M269.1 760.0L265.8 760.0L265.8 762.5L268.2 762.5L269.1 763.3L269.1 764.2L268.2 765.0L266.6 765.0L265.8 764.2" stroke="#8fb4f4" stroke-width="0.90" fill="none" stroke-linecap="round" stroke-linejoin="round"/>
<path d="M215.3 787.3L214.5 786.5L212.8 786.5L212.0 787.3L212.0 790.7L212.8 791.5L214.5 791.5L215.3 790.7L215.3 789.8L214.5 789.0L212.0 789.0M219.1 791.5L219.1 786.5L216.6 789.8L219.9 789.8M222.6 791.2L223.1 791.2L223.1 791.5L222.6 791.5L222.6 791.2M225.8 790.7L226.6 791.5L228.2 791.5L229.1 790.7L229.1 787.3L228.2 786.5L226.6 786.5L225.8 787.3L225.8 788.2L226.6 789.0L229.1 789.0" stroke="#8fb4f4" stroke-width="0.90" fill="none" stroke-linecap="round" stroke-linejoin="round"/>
<path d="M256.0 787.3L256.8 786.5L258.5 786.5L259.3 787.3L259.3 788.2L258.5 789.0L259.3 789.8L259.3 790.7L258.5 791.5L256.8 791.5L256.0 790.7M257.2 789.0L258.5 789.0M263.1 791.5L263.1 786.5L260.6 789.8L263.9 789.8M266.0 789.0L265.2 788.2L265.2 787.3L266.0 786.5L267.7 786.5L268.5 787.3L268.5 788.2L267.7 789.0L266.0 789.0L265.2 789.8L265.2 790.7L266.0 791.5L267.7 791.5L268.5 790.7L268.5 789.8L267.7 789.0" stroke="#8fb4f4" stroke-width="0.90" fill="none" stroke-linecap="round" stroke-linejoin="round"/>
<circle cx="283.0" cy="753.5" r="4.0" fill="#d0c8e8"/>
<path d="M208.0 662.8l3.2 3.2l-3.2 3.2l-3.2 -3.2z" fill="#d0c8e8"/>
<path d="M208.0 700.8l3.2 3.2l-3.2 3.2l-3.2 -3.2z" fill="#d0c8e8"/>
<path d="M262.0 702.8l3.2 3.2l-3.2 3.2l-3.2 -3.2z" fill="#d0c8e8"/>
<path d="M322.0 620.8l3.2 3.2l-3.2 3.2l-3.2 -3.2z" fill="#d0c8e8"/>
<path d="M322.0 674.8l3.2 3.2l-3.2 3.2l-3.2 -3.2z" fill="#d0c8e8"/>
<path d="M363.0 646.8l3.2 3.2l-3.2 3.2l-3.2 -3.2z" fill="#d0c8e8"/>
<path d="M313.0 728.8l3.2 3.2l-3.2 3.2l-3.2 -3.2z" fill="#d0c8e8"/>
<path d="M363.0 728.8l3.2 3.2l-3.2 3.2l-3.2 -3.2z" fill="#d0c8e8"/>
<path d="M208.0 761.8l3.2 3.2l-3.2 3.2l-3.2 -3.2z" fill="#d0c8e8"/>
<path d="M316.0 762.8l3.2 3.2l-3.2 3.2l-3.2 -3.2z" fill="#d0c8e8"/>
<path d="M345.0 762.8l3.2 3.2l-3.2 3.2l-3.2 -3.2z" fill="#d0c8e8"/>
<path d="M256.0 689.8l3.2 3.2l-3.2 3.2l-3.2 -3.2z" fill="#d0c8e8"/>
<path d="M388.0 622.0L387.0 621.0L385.0 621.0L384.0 622.0L384.0 626.0L385.0 627.0L387.0 627.0L388.0 626.0L388.0 624.5L386.5 624.5M389.5 627.0L389.5 621.0L392.7 621.0L393.5 621.8L393.5 623.2L392.7 624.0L389.5 624.0M395.0 622.0L396.0 621.0L398.0 621.0L399.0 622.0L399.0 623.0L395.0 627.0L399.0 627.0" stroke="#8fb4f4" stroke-width="1.00" fill="none" stroke-linecap="round" stroke-linejoin="round"/>
<path d="M388.0 633.0L387.0 632.0L385.0 632.0L384.0 633.0L384.0 637.0L385.0 638.0L387.0 638.0L388.0 637.0L388.0 635.5L386.5 635.5M389.5 638.0L389.5 632.0L393.5 638.0L393.5 632.0M395.0 632.0L395.0 638.0L397.8 638.0L399.0 636.8L399.0 633.2L397.8 632.0L395.0 632.0" stroke="#ffffff" stroke-width="1.00" fill="none" stroke-linecap="round" stroke-linejoin="round"/>
<rect x="384.5" y="642.0" width="15.5" height="14.8" rx="2.5" fill="#f0f8ff"/>
<rect x="387.0" y="644.5" width="10.5" height="9.8" rx="0" fill="#c8c0a8"/>
<path d="M387.0 654.3L397.5 654.3L397.5 644.5" stroke="#202020" stroke-width="1.2" fill="none" stroke-linejoin="round"/>
<path d="M521.0 589.0L520.0 588.0L518.0 588.0L517.0 589.0L517.0 593.0L518.0 594.0L520.0 594.0L521.0 593.0L521.0 591.5L519.5 591.5M522.5 594.0L522.5 588.0L525.7 588.0L526.5 588.8L526.5 590.2L525.7 591.0L522.5 591.0M528.0 589.0L529.0 588.0L531.0 588.0L532.0 589.0L532.0 590.0L531.0 591.0L532.0 592.0L532.0 593.0L531.0 594.0L529.0 594.0L528.0 593.0M529.5 591.0L531.0 591.0" stroke="#8fb4f4" stroke-width="1.00" fill="none" stroke-linecap="round" stroke-linejoin="round"/>
<path d="M522.0 601.0L521.0 600.0L519.0 600.0L518.0 601.0L518.0 605.0L519.0 606.0L521.0 606.0L522.0 605.0L522.0 603.5L520.5 603.5M523.5 606.0L523.5 600.0L527.5 606.0L527.5 600.0M529.0 600.0L529.0 606.0L531.8 606.0L533.0 604.8L533.0 601.2L531.8 600.0L529.0 600.0" stroke="#ffffff" stroke-width="1.00" fill="none" stroke-linecap="round" stroke-linejoin="round"/>
<rect x="517.6" y="608.4" width="17.4" height="16.6" rx="2.5" fill="#f0f8ff"/>
<rect x="520.1" y="610.9" width="12.4" height="11.6" rx="0" fill="#c8c0a8"/>
<path d="M520.1 622.5L532.5 622.5L532.5 610.9" stroke="#202020" stroke-width="1.2" fill="none" stroke-linejoin="round"/>
<path d="M288.0 681.0L287.0 680.0L285.0 680.0L284.0 681.0L284.0 685.0L285.0 686.0L287.0 686.0L288.0 685.0L288.0 683.5L286.5 683.5M289.5 686.0L289.5 680.0L292.7 680.0L293.5 680.8L293.5 682.2L292.7 683.0L289.5 683.0M299.0 680.0L295.0 680.0L295.0 683.0L298.0 683.0L299.0 684.0L299.0 685.0L298.0 686.0L296.0 686.0L295.0 685.0" stroke="#8fb4f4" stroke-width="1.00" fill="none" stroke-linecap="round" stroke-linejoin="round"/>
<path d="M288.0 692.0L287.0 691.0L285.0 691.0L284.0 692.0L284.0 696.0L285.0 697.0L287.0 697.0L288.0 696.0L288.0 694.5L286.5 694.5M289.5 697.0L289.5 691.0L293.5 697.0L293.5 691.0M295.0 691.0L295.0 697.0L297.8 697.0L299.0 695.8L299.0 692.2L297.8 691.0L295.0 691.0" stroke="#ffffff" stroke-width="1.00" fill="none" stroke-linecap="round" stroke-linejoin="round"/>
<rect x="284.0" y="700.0" width="16.0" height="15.0" rx="2.5" fill="#f0f8ff"/>
<rect x="286.5" y="702.5" width="11.0" height="10.0" rx="0" fill="#c8c0a8"/>
<path d="M286.5 712.5L297.5 712.5L297.5 702.5" stroke="#202020" stroke-width="1.2" fill="none" stroke-linejoin="round"/>
<path d="M395 720 L439.5 720 L439.5 735 L395 735z" fill="#0a8a6e"/>
<path d="M404.6 698.0L429.8 698.0" stroke="#e8ffff" stroke-width="1.0" fill="none" stroke-linejoin="round"/>
<path d="M404.6 732.5L429.8 732.5" stroke="#e8ffff" stroke-width="1.0" fill="none" stroke-linejoin="round"/>
<path d="M398.6 708.0L398.6 722.0" stroke="#e8ffff" stroke-width="1.0" fill="none" stroke-linejoin="round"/>
<path d="M435.8 708.0L435.8 722.0" stroke="#e8ffff" stroke-width="1.0" fill="none" stroke-linejoin="round"/>
<path d="M417.2 699.0L417.2 731.0" stroke="#e8ffff" stroke-width="1.0" fill="none" stroke-linejoin="round"/>
<rect x="392.8" y="696.9" width="11.6" height="11.6" rx="0" fill="#d0c8e8" stroke="#000" stroke-width="1.4"/>
<rect x="430.0" y="696.9" width="11.6" height="11.6" rx="0" fill="#c8c0a8" stroke="#000" stroke-width="1.4"/>
<rect x="392.8" y="722.4" width="11.6" height="11.6" rx="0" fill="#c8c0a8" stroke="#000" stroke-width="1.4"/>
<rect x="430.0" y="722.4" width="11.6" height="11.6" rx="0" fill="#c8c0a8" stroke="#000" stroke-width="1.4"/>
<path d="M495.0 698.0L520.2 698.0" stroke="#e8ffff" stroke-width="1.0" fill="none" stroke-linejoin="round"/>
<path d="M495.0 732.5L520.2 732.5" stroke="#e8ffff" stroke-width="1.0" fill="none" stroke-linejoin="round"/>
<path d="M489.0 708.0L489.0 722.0" stroke="#e8ffff" stroke-width="1.0" fill="none" stroke-linejoin="round"/>
<path d="M526.2 708.0L526.2 722.0" stroke="#e8ffff" stroke-width="1.0" fill="none" stroke-linejoin="round"/>
<path d="M507.6 699.0L507.6 731.0" stroke="#e8ffff" stroke-width="1.0" fill="none" stroke-linejoin="round"/>
<rect x="483.2" y="696.9" width="11.6" height="11.6" rx="0" fill="#d0c8e8" stroke="#000" stroke-width="1.4"/>
<rect x="520.4" y="696.9" width="11.6" height="11.6" rx="0" fill="#c8c0a8" stroke="#000" stroke-width="1.4"/>
<rect x="483.2" y="722.4" width="11.6" height="11.6" rx="0" fill="#c8c0a8" stroke="#000" stroke-width="1.4"/>
<rect x="520.4" y="722.4" width="11.6" height="11.6" rx="0" fill="#d0c8e8" stroke="#000" stroke-width="1.4"/>
<path d="M397.3 676.6L396.2 675.5L394.1 675.5L393.0 676.6L393.0 677.7L394.1 678.8L396.2 678.8L397.3 679.8L397.3 680.9L396.2 682.0L394.1 682.0L393.0 680.9M399.0 676.6L400.0 675.5L402.2 675.5L403.3 676.6L403.3 677.7L399.0 682.0L403.3 682.0" stroke="#ffffff" stroke-width="1.00" fill="none" stroke-linecap="round" stroke-linejoin="round"/>
<path d="M393.6 684.0L393.6 693.0M399.6 684.0L399.6 693.0M393.6 688.5L399.6 688.5M408.2 684.0L402.2 684.0L402.2 693.0M402.2 688.5L406.4 688.5M419.2 693.0L419.2 687.3L422.2 684.0L425.2 687.3L425.2 693.0M419.2 689.7L425.2 689.7M427.8 684.0L433.8 684.0M430.8 684.0L430.8 693.0M436.4 684.0L442.4 684.0M439.4 684.0L439.4 693.0M450.9 684.0L444.9 684.0L444.9 693.0L450.9 693.0M444.9 688.5L449.1 688.5M453.5 693.0L453.5 684.0L459.5 693.0L459.5 684.0" stroke="#ffffff" stroke-width="1.05" fill="none" stroke-linecap="round" stroke-linejoin="round"/>
<path d="M487.3 676.6L486.2 675.5L484.1 675.5L483.0 676.6L483.0 677.7L484.1 678.8L486.2 678.8L487.3 679.8L487.3 680.9L486.2 682.0L484.1 682.0L483.0 680.9M490.0 676.6L491.1 675.5L491.1 682.0M490.0 682.0L492.2 682.0" stroke="#ffffff" stroke-width="1.00" fill="none" stroke-linecap="round" stroke-linejoin="round"/>
<path d="M483.0 684.0L483.0 693.0L489.0 693.0M497.6 684.0L491.6 684.0L491.6 693.0M491.6 688.5L495.8 688.5M508.6 693.0L508.6 687.3L511.6 684.0L514.6 687.3L514.6 693.0M508.6 689.7L514.6 689.7M517.2 684.0L523.2 684.0M520.2 684.0L520.2 693.0M525.8 684.0L531.8 684.0M528.8 684.0L528.8 693.0M540.3 684.0L534.3 684.0L534.3 693.0L540.3 693.0M534.3 688.5L538.5 688.5M542.9 693.0L542.9 684.0L548.9 693.0L548.9 684.0" stroke="#ffffff" stroke-width="1.05" fill="none" stroke-linecap="round" stroke-linejoin="round"/>
<rect x="461.8" y="707.6" width="10.0" height="16.0" rx="1.5" fill="none" stroke="#e8ffff" stroke-width="1.2"/>
<path d="M460.8 715.0L472.8 715.0" stroke="#e8ffff" stroke-width="1.0" fill="none" stroke-linejoin="round"/>
<rect x="541.0" y="707.6" width="10.0" height="16.0" rx="1.5" fill="none" stroke="#e8ffff" stroke-width="1.2"/>
<path d="M540.0 715.0L552.0 715.0" stroke="#e8ffff" stroke-width="1.0" fill="none" stroke-linejoin="round"/>
<path d="M458.8 723.2L458.0 722.3L463.0 722.3M463.0 723.2L463.0 721.5M463.0 719.4L458.0 719.4L463.0 716.1L458.0 716.1M463.0 712.3L458.0 712.3L461.3 714.8L461.3 711.5M458.8 709.4L458.0 708.6L463.0 708.6M463.0 709.4L463.0 707.8M463.0 703.2L458.0 703.2L461.3 705.7L461.3 702.3M460.5 700.2L459.7 701.1L458.8 701.1L458.0 700.2L458.0 698.6L458.8 697.8L459.7 697.8L460.5 698.6L460.5 700.2L461.3 701.1L462.2 701.1L463.0 700.2L463.0 698.6L462.2 697.8L461.3 697.8L460.5 698.6M458.0 696.5L463.0 696.5L461.6 694.8L463.0 693.2L458.0 693.2" stroke="#8fb4f4" stroke-width="0.90" fill="none" stroke-linecap="round" stroke-linejoin="round"/>
<path d="M538.8 723.2L538.0 722.3L543.0 722.3M543.0 723.2L543.0 721.5M543.0 719.4L538.0 719.4L543.0 716.1L538.0 716.1M543.0 712.3L538.0 712.3L541.3 714.8L541.3 711.5M538.8 709.4L538.0 708.6L543.0 708.6M543.0 709.4L543.0 707.8M543.0 703.2L538.0 703.2L541.3 705.7L541.3 702.3M540.5 700.2L539.7 701.1L538.8 701.1L538.0 700.2L538.0 698.6L538.8 697.8L539.7 697.8L540.5 698.6L540.5 700.2L541.3 701.1L542.2 701.1L543.0 700.2L543.0 698.6L542.2 697.8L541.3 697.8L540.5 698.6M538.0 696.5L543.0 696.5L541.6 694.8L543.0 693.2L538.0 693.2" stroke="#8fb4f4" stroke-width="0.90" fill="none" stroke-linecap="round" stroke-linejoin="round"/>
<rect x="564.7" y="696.0" width="31.0" height="30.2" rx="3" fill="#ffffff"/>
<rect x="567.5" y="698.2" width="25.5" height="2.0" rx="0" fill="#000"/>
<rect x="567.5" y="720.3" width="25.5" height="2.0" rx="0" fill="#000"/>
<text x="579.5" y="716.5" font-family="Liberation Sans" font-size="17" fill="#000" text-anchor="middle" textLength="26" lengthAdjust="spacingAndGlyphs" stroke="#000" stroke-width="0.4">+12</text>
<path d="M573.0 687.5L577.0 687.5M575.0 687.5L575.0 693.5M578.5 693.5L578.5 687.5L581.7 687.5L582.5 688.3L582.5 689.7L581.7 690.5L578.5 690.5M584.0 688.5L585.0 687.5L587.0 687.5L588.0 688.5L588.0 689.5L587.0 690.5L588.0 691.5L588.0 692.5L587.0 693.5L585.0 693.5L584.0 692.5M585.5 690.5L587.0 690.5" stroke="#ffffff" stroke-width="1.00" fill="none" stroke-linecap="round" stroke-linejoin="round"/>
<path d="M600.5 722.0L600.5 714.3M600.5 718.2L612.0 718.2M612.0 711.5L600.5 711.5L600.5 705.3L602.0 703.8L604.7 703.8L606.2 705.3L606.2 711.5" stroke="#ffffff" stroke-width="1.10" fill="none" stroke-linecap="round" stroke-linejoin="round"/>
<rect x="561.0" y="642.0" width="33.5" height="15.0" rx="0" fill="none" stroke="#e8ffff" stroke-width="1"/>
<rect x="563.0" y="644.0" width="10.0" height="11.0" rx="0" fill="none" stroke="#0000a0" stroke-width="1.5"/>
<rect x="583.0" y="644.0" width="10.0" height="11.0" rx="0" fill="none" stroke="#0000a0" stroke-width="1.5"/>
<path d="M576.0 645.0L576.0 654.0L580.0 649.5L576.0 645.0" stroke="#e8ffff" stroke-width="0.9" fill="none" stroke-linejoin="round"/>
<path d="M532.2 647.5L532.2 651.5L534.5 653.5L536.8 651.5L536.8 647.5M538.0 653.5L538.0 649.7L540.0 647.5L542.0 649.7L542.0 653.5M538.0 651.3L542.0 651.3M544.5 648.5L545.5 647.5L545.5 653.5M544.5 653.5L546.5 653.5M553.0 647.5L549.0 647.5L549.0 650.5L552.0 650.5L553.0 651.5L553.0 652.5L552.0 653.5L550.0 653.5L549.0 652.5M555.0 650.5L558.0 650.5" stroke="#ffffff" stroke-width="1.00" fill="none" stroke-linecap="round" stroke-linejoin="round"/>
<rect x="561.0" y="664.0" width="33.5" height="15.0" rx="0" fill="none" stroke="#e8ffff" stroke-width="1"/>
<rect x="563.0" y="666.0" width="10.0" height="11.0" rx="0" fill="none" stroke="#0000a0" stroke-width="1.5"/>
<rect x="583.0" y="666.0" width="10.0" height="11.0" rx="0" fill="none" stroke="#0000a0" stroke-width="1.5"/>
<path d="M576.0 667.0L576.0 676.0L580.0 671.5L576.0 667.0" stroke="#e8ffff" stroke-width="0.9" fill="none" stroke-linejoin="round"/>
<path d="M522.0 675.5L522.0 671.7L524.0 669.5L526.0 671.7L526.0 675.5M522.0 673.3L526.0 673.3M531.5 670.5L530.5 669.5L528.5 669.5L527.5 670.5L527.5 674.5L528.5 675.5L530.5 675.5L531.5 674.5M533.0 669.5L537.0 669.5M535.0 669.5L535.0 675.5M539.0 672.5L542.0 672.5M544.0 675.5L544.0 671.7L546.0 669.5L548.0 671.7L548.0 675.5M544.0 673.3L548.0 673.3M549.5 675.5L549.5 669.5L553.5 675.5L553.5 669.5M555.0 669.5L559.0 669.5M557.0 669.5L557.0 675.5" stroke="#ffffff" stroke-width="1.00" fill="none" stroke-linecap="round" stroke-linejoin="round"/>
<rect x="567.0" y="654.0" width="7.0" height="5.0" rx="0" fill="#e8f0f0"/>
<rect x="583.0" y="664.0" width="7.0" height="5.0" rx="0" fill="#e8d8a0"/>
<path d="M569.0 633.5L569.0 639.5L573.0 639.5M578.5 633.5L574.5 633.5L574.5 639.5L578.5 639.5M574.5 636.5L577.3 636.5M580.0 633.5L580.0 639.5L582.8 639.5L584.0 638.3L584.0 634.7L582.8 633.5L580.0 633.5M585.5 634.5L586.5 633.5L588.5 633.5L589.5 634.5L589.5 635.5L588.5 636.5L589.5 637.5L589.5 638.5L588.5 639.5L586.5 639.5L585.5 638.5M587.0 636.5L588.5 636.5" stroke="#8fb4f4" stroke-width="1.00" fill="none" stroke-linecap="round" stroke-linejoin="round"/>
<path d="M569.0 682.0L569.0 688.0L573.0 688.0M578.5 682.0L574.5 682.0L574.5 688.0L578.5 688.0M574.5 685.0L577.3 685.0M580.0 682.0L580.0 688.0L582.8 688.0L584.0 686.8L584.0 683.2L582.8 682.0L580.0 682.0M588.5 688.0L588.5 682.0L585.5 686.0L589.5 686.0" stroke="#8fb4f4" stroke-width="1.00" fill="none" stroke-linecap="round" stroke-linejoin="round"/>
<path d="M574.0 580.0L601.0 580.0" stroke="#e8ffff" stroke-width="1.0" fill="none" stroke-linejoin="round"/>
<path d="M574.0 612.0L601.0 612.0" stroke="#e8ffff" stroke-width="1.0" fill="none" stroke-linejoin="round"/>
<path d="M569.0 589.0L569.0 603.0" stroke="#e8ffff" stroke-width="1.0" fill="none" stroke-linejoin="round"/>
<path d="M606.0 589.0L606.0 603.0" stroke="#e8ffff" stroke-width="1.0" fill="none" stroke-linejoin="round"/>
<path d="M587.5 582.0L587.5 610.0" stroke="#e8ffff" stroke-width="1.0" fill="none" stroke-linejoin="round"/>
<rect x="563.2" y="577.8" width="11.6" height="11.6" rx="0" fill="#c8c0a8" stroke="#000" stroke-width="1.4"/>
<rect x="600.2" y="577.8" width="11.6" height="11.6" rx="0" fill="#c8c0a8" stroke="#000" stroke-width="1.4"/>
<rect x="563.2" y="602.6" width="11.6" height="11.6" rx="0" fill="#c8c0a8" stroke="#000" stroke-width="1.4"/>
<rect x="600.2" y="602.6" width="11.6" height="11.6" rx="0" fill="#d0c8e8" stroke="#000" stroke-width="1.4"/>
<path d="M568.0 557.3L567.0 556.4L565.2 556.4L564.3 557.3L564.3 558.2L565.2 559.1L567.0 559.1L568.0 560.1L568.0 561.0L567.0 561.9L565.2 561.9L564.3 561.0M572.1 561.9L572.1 556.4L569.3 560.1L573.0 560.1" stroke="#ffffff" stroke-width="1.00" fill="none" stroke-linecap="round" stroke-linejoin="round"/>
<path d="M564.0 572.5L564.0 567.4L566.7 564.5L569.3 567.4L569.3 572.5M564.0 569.6L569.3 569.6M571.7 572.5L571.7 564.5L577.1 572.5L577.1 564.5M579.5 564.5L584.8 564.5M582.1 564.5L582.1 572.5M587.9 568.5L591.9 568.5M594.9 572.5L594.9 564.5L599.2 564.5L600.3 565.6L600.3 567.4L599.2 568.5L594.9 568.5M604.0 564.5L606.7 564.5L608.0 565.8L608.0 571.2L606.7 572.5L604.0 572.5L602.7 571.2L602.7 565.8L604.0 564.5M610.4 564.5L610.4 572.5L613.1 570.2L615.7 572.5L615.7 564.5M623.5 564.5L618.1 564.5L618.1 572.5L623.5 572.5M618.1 568.5L621.9 568.5M625.9 572.5L625.9 564.5L630.1 564.5L631.2 565.6L631.2 567.4L630.1 568.5L625.9 568.5M628.3 568.5L631.2 572.5" stroke="#ffffff" stroke-width="1.05" fill="none" stroke-linecap="round" stroke-linejoin="round"/>
<path d="M468.9 757 L486.9 757 L486.9 773 L468.9 773z" fill="#0000d0"/>
<rect x="468.9" y="756.0" width="18.0" height="16.0" rx="0" fill="none" stroke="#e8ffff" stroke-width="0.9"/>
<rect x="474.4" y="750.0" width="7.0" height="7.0" rx="0" fill="#10e0f8"/>
<rect x="468.4" y="763.5" width="7.0" height="7.0" rx="0" fill="#10e0f8"/>
<rect x="480.4" y="763.5" width="7.0" height="7.0" rx="0" fill="#10e0f8"/>
<path d="M501.0 757 L519.0 757 L519.0 773 L501.0 773z" fill="#0000d0"/>
<rect x="501.0" y="756.0" width="18.0" height="16.0" rx="0" fill="none" stroke="#e8ffff" stroke-width="0.9"/>
<rect x="506.5" y="750.0" width="7.0" height="7.0" rx="0" fill="#10e0f8"/>
<rect x="500.5" y="763.5" width="7.0" height="7.0" rx="0" fill="#10e0f8"/>
<rect x="512.5" y="763.5" width="7.0" height="7.0" rx="0" fill="#10e0f8"/>
<path d="M473.0 741.0L475.0 741.0L476.0 742.0L476.0 746.0L475.0 747.0L473.0 747.0L472.0 746.0L472.0 742.0L473.0 741.0M474.5 745.5L476.0 747.0M477.5 742.0L478.5 741.0L480.5 741.0L481.5 742.0L481.5 743.0L477.5 747.0L481.5 747.0" stroke="#ffffff" stroke-width="1.00" fill="none" stroke-linecap="round" stroke-linejoin="round"/>
<path d="M506.0 741.0L508.0 741.0L509.0 742.0L509.0 746.0L508.0 747.0L506.0 747.0L505.0 746.0L505.0 742.0L506.0 741.0M507.5 745.5L509.0 747.0M511.5 742.0L512.5 741.0L512.5 747.0M511.5 747.0L513.5 747.0" stroke="#ffffff" stroke-width="1.00" fill="none" stroke-linecap="round" stroke-linejoin="round"/>
<rect x="707.3" y="646.0" width="48.2" height="86.6" rx="0" fill="none" stroke="#c8f4ff" stroke-width="1"/>
<path d="M749.0 646.0L755.5 646.0L755.5 732.6L749.0 732.6" stroke="#e8e040" stroke-width="1.0" fill="none" stroke-linejoin="round"/>
<rect x="707.5" y="646.5" width="6.5" height="7.0" rx="0" fill="#e8f0ff"/>
<rect x="677.0" y="647.6" width="28.0" height="81.8" rx="0" fill="#000"/>
<rect x="679.0" y="647.9" width="11.0" height="10.0" rx="0" fill="#d0c8dc"/>
<rect x="693.0" y="647.9" width="11.0" height="10.0" rx="0" fill="#d0c8dc"/>
<rect x="679.0" y="661.7" width="11.0" height="10.0" rx="0" fill="#d0c8dc"/>
<rect x="693.0" y="661.7" width="11.0" height="10.0" rx="0" fill="#d0c8dc"/>
<rect x="679.0" y="676.6" width="11.0" height="10.0" rx="0" fill="#d0c8dc"/>
<rect x="693.0" y="676.6" width="11.0" height="10.0" rx="0" fill="#d0c8dc"/>
<rect x="679.0" y="690.4" width="11.0" height="10.0" rx="0" fill="#d0c8dc"/>
<rect x="693.0" y="690.4" width="11.0" height="10.0" rx="0" fill="#d0c8dc"/>
<rect x="679.0" y="704.2" width="11.0" height="10.0" rx="0" fill="#d0c8dc"/>
<rect x="693.0" y="704.2" width="11.0" height="10.0" rx="0" fill="#d0c8dc"/>
<rect x="679.0" y="719.1" width="11.0" height="10.0" rx="0" fill="#d0c8dc"/>
<rect x="693.0" y="719.1" width="11.0" height="10.0" rx="0" fill="#d0c8dc"/>
<ellipse cx="683.5" cy="724.1" rx="6" ry="5" fill="#d0c8e8"/>
<path d="M685.7 640.0L688.0 640.0M687.2 640.0L687.2 644.6L686.3 645.5L685.2 645.5L684.3 644.6M689.3 645.5L689.3 640.0L692.3 640.0L693.0 640.7L693.0 642.0L692.3 642.8L689.3 642.8M694.4 640.9L695.3 640.0L697.1 640.0L698.0 640.9L698.0 641.8L694.4 645.5L698.0 645.5M700.3 640.0L702.2 640.0L703.1 640.9L703.1 644.6L702.2 645.5L700.3 645.5L699.4 644.6L699.4 640.9L700.3 640.0" stroke="#ffffff" stroke-width="1.00" fill="none" stroke-linecap="round" stroke-linejoin="round"/>
<path d="M713.0 644.8L713.0 637.0L717.2 637.0L718.2 638.0L718.2 639.9L717.2 640.9L713.0 640.9M721.6 637.0L724.2 637.0L725.5 638.3L725.5 643.5L724.2 644.8L721.6 644.8L720.3 643.5L720.3 638.3L721.6 637.0M727.6 637.0L727.6 644.8L730.2 642.6L732.8 644.8L732.8 637.0M740.0 637.0L734.8 637.0L734.8 644.8L740.0 644.8M734.8 640.9L738.5 640.9M742.1 644.8L742.1 637.0L746.3 637.0L747.3 638.0L747.3 639.9L746.3 640.9L742.1 640.9M744.5 640.9L747.3 644.8" stroke="#ffffff" stroke-width="1.00" fill="none" stroke-linecap="round" stroke-linejoin="round"/>
<path d="M732.0 655.0L732.0 659.3M732.0 657.2L725.5 657.2M730.9 666.2L732.0 665.1L732.0 662.9L730.9 661.8L729.8 661.8L728.8 662.9L728.8 665.1L727.7 666.2L726.6 666.2L725.5 665.1L725.5 662.9L726.6 661.8M732.0 668.6L725.5 668.6L727.3 670.8L725.5 673.0L732.0 673.0M728.8 676.0L728.8 679.3M730.9 686.6L732.0 685.5L732.0 683.4L730.9 682.3L726.6 682.3L725.5 683.4L725.5 685.5L726.6 686.6L727.7 686.6L728.8 685.5L728.8 682.3M732.0 688.9L725.5 693.7M732.0 693.7L725.5 688.9M730.9 696.0L732.0 697.0L732.0 699.2L730.9 700.3L729.8 700.3L725.5 696.0L725.5 700.3M732.0 707.1L732.0 702.8L725.5 702.8M728.8 702.8L728.8 705.8" stroke="#8fb4f4" stroke-width="0.90" fill="none" stroke-linecap="round" stroke-linejoin="round"/>
<rect x="652.5" y="625.0" width="20.0" height="15.0" rx="2" fill="none" stroke="#e8ffff" stroke-width="2"/>
<rect x="654.6" y="627.4" width="16.0" height="10.2" rx="0" fill="#10e0f8"/>
<rect x="652.5" y="646.0" width="20.0" height="15.0" rx="2" fill="none" stroke="#e8ffff" stroke-width="2"/>
<rect x="654.6" y="648.2" width="16.0" height="10.0" rx="0" fill="#10e0f8"/>
<path d="M662.6 637.6L662.6 648.0" stroke="#e8ffff" stroke-width="1.0" fill="none" stroke-linejoin="round"/>
<path d="M657.0 642.0L668.0 642.0" stroke="#e8ffff" stroke-width="1.0" fill="none" stroke-linejoin="round"/>
<path d="M659.0 620.5L658.0 619.5L656.0 619.5L655.0 620.5L655.0 624.5L656.0 625.5L658.0 625.5L659.0 624.5M661.5 620.5L662.5 619.5L662.5 625.5M661.5 625.5L663.5 625.5M666.0 620.5L667.0 619.5L669.0 619.5L670.0 620.5L670.0 621.5L669.0 622.5L670.0 623.5L670.0 624.5L669.0 625.5L667.0 625.5L666.0 624.5M667.5 622.5L669.0 622.5" stroke="#ffffff" stroke-width="1.00" fill="none" stroke-linecap="round" stroke-linejoin="round"/>
<path d="M647.0 637.5L642.0 637.5L645.3 640.0L645.3 636.7M646.8 634.0L646.8 633.5L647.0 633.5L647.0 634.0L646.8 634.0M642.0 630.8L642.0 627.5L647.0 629.6M643.7 626.2L646.2 626.2L647.0 625.4L647.0 622.9L643.7 622.9M642.0 618.3L642.0 621.7L647.0 621.7M644.5 621.7L644.5 619.3" stroke="#8fb4f4" stroke-width="0.90" fill="none" stroke-linecap="round" stroke-linejoin="round"/>
<path d="M722.0 607.2L722.0 602.2L734.0 602.2L734.0 607.2" stroke="#e8ffff" stroke-width="2.2" fill="none" stroke-linejoin="round"/>
<path d="M722.0 628.2L722.0 633.2L734.0 633.2L734.0 628.2" stroke="#e8ffff" stroke-width="2.2" fill="none" stroke-linejoin="round"/>
<rect x="724.0" y="604.7" width="8.0" height="7.5" rx="0" fill="#10e0f8"/>
<rect x="724.0" y="623.2" width="8.0" height="7.5" rx="0" fill="#10e0f8"/>
<path d="M731.5 614.7L725.5 614.7L727.2 616.7L725.5 618.7L731.5 618.7" stroke="#e8ffff" stroke-width="1.10" fill="none" stroke-linecap="round" stroke-linejoin="round"/>
<path d="M691.3 621.4L686.3 621.4L686.3 633.4L691.3 633.4" stroke="#e8ffff" stroke-width="2.2" fill="none" stroke-linejoin="round"/>
<path d="M712.3 621.4L717.3 621.4L717.3 633.4L712.3 633.4" stroke="#e8ffff" stroke-width="2.2" fill="none" stroke-linejoin="round"/>
<rect x="688.8" y="623.4" width="7.5" height="8.0" rx="0" fill="#10e0f8"/>
<rect x="707.3" y="623.4" width="7.5" height="8.0" rx="0" fill="#10e0f8"/>
<path d="M698.8 623.9L698.8 630.4L701.0 628.6L703.1 630.4L703.1 623.9" stroke="#e8ffff" stroke-width="1.10" fill="none" stroke-linecap="round" stroke-linejoin="round"/>
<path d="M608.0 645.8L603.0 645.8L603.0 657.8L608.0 657.8" stroke="#e8ffff" stroke-width="2.2" fill="none" stroke-linejoin="round"/>
<path d="M629.0 645.8L634.0 645.8L634.0 657.8L629.0 657.8" stroke="#e8ffff" stroke-width="2.2" fill="none" stroke-linejoin="round"/>
<rect x="605.5" y="647.8" width="7.5" height="8.0" rx="0" fill="#10e0f8"/>
<rect x="624.0" y="647.8" width="7.5" height="8.0" rx="0" fill="#10e0f8"/>
<path d="M615.5 648.3L615.5 654.8L617.7 653.0L619.8 654.8L619.8 648.3" stroke="#e8ffff" stroke-width="1.10" fill="none" stroke-linecap="round" stroke-linejoin="round"/>
<path d="M608.0 660.7L603.0 660.7L603.0 672.7L608.0 672.7" stroke="#e8ffff" stroke-width="2.2" fill="none" stroke-linejoin="round"/>
<path d="M629.0 660.7L634.0 660.7L634.0 672.7L629.0 672.7" stroke="#e8ffff" stroke-width="2.2" fill="none" stroke-linejoin="round"/>
<rect x="605.5" y="662.7" width="7.5" height="8.0" rx="0" fill="#10e0f8"/>
<rect x="624.0" y="662.7" width="7.5" height="8.0" rx="0" fill="#10e0f8"/>
<path d="M615.5 663.2L615.5 669.7L617.7 667.9L619.8 669.7L619.8 663.2" stroke="#e8ffff" stroke-width="1.10" fill="none" stroke-linecap="round" stroke-linejoin="round"/>
<path d="M719.0 604.5L719.0 598.5L722.2 598.5L723.0 599.3L723.0 600.7L722.2 601.5L719.0 601.5M720.8 601.5L723.0 604.5M728.5 598.5L724.5 598.5L724.5 601.5L727.5 601.5L728.5 602.5L728.5 603.5L727.5 604.5L725.5 604.5L724.5 603.5M734.0 599.5L733.0 598.5L731.0 598.5L730.0 599.5L730.0 603.5L731.0 604.5L733.0 604.5L734.0 603.5L734.0 602.5L733.0 601.5L730.0 601.5" stroke="#ffffff" stroke-width="1.00" fill="none" stroke-linecap="round" stroke-linejoin="round"/>
<path d="M689.0 619.5L689.0 613.5L692.2 613.5L693.0 614.3L693.0 615.7L692.2 616.5L689.0 616.5M690.8 616.5L693.0 619.5M698.5 613.5L694.5 613.5L694.5 616.5L697.5 616.5L698.5 617.5L698.5 618.5L697.5 619.5L695.5 619.5L694.5 618.5M700.0 613.5L704.0 613.5L701.5 619.5" stroke="#ffffff" stroke-width="1.00" fill="none" stroke-linecap="round" stroke-linejoin="round"/>
<path d="M606.0 647.5L606.0 641.5L609.2 641.5L610.0 642.3L610.0 643.7L609.2 644.5L606.0 644.5M607.8 644.5L610.0 647.5M615.5 641.5L611.5 641.5L611.5 644.5L614.5 644.5L615.5 645.5L615.5 646.5L614.5 647.5L612.5 647.5L611.5 646.5M617.0 642.5L618.0 641.5L620.0 641.5L621.0 642.5L621.0 643.5L620.0 644.5L621.0 645.5L621.0 646.5L620.0 647.5L618.0 647.5L617.0 646.5M618.5 644.5L620.0 644.5" stroke="#ffffff" stroke-width="1.00" fill="none" stroke-linecap="round" stroke-linejoin="round"/>
<path d="M606.0 681.0L606.0 675.0L609.2 675.0L610.0 675.8L610.0 677.2L609.2 678.0L606.0 678.0M607.8 678.0L610.0 681.0M615.5 675.0L611.5 675.0L611.5 678.0L614.5 678.0L615.5 679.0L615.5 680.0L614.5 681.0L612.5 681.0L611.5 680.0M617.0 676.0L618.0 675.0L620.0 675.0L621.0 676.0L621.0 677.0L617.0 681.0L621.0 681.0" stroke="#ffffff" stroke-width="1.00" fill="none" stroke-linecap="round" stroke-linejoin="round"/>
<path d="M704 591 L732 591 L732 600 L740 604 L740 622 L722 622 L718 612 L704 612z" fill="#0000c8"/>
<path d="M703.0 593.0L715.0 593.0" stroke="#e8ffff" stroke-width="1.0" fill="none" stroke-linejoin="round"/>
<path d="M703.0 593.0L703.0 612.0" stroke="#e8ffff" stroke-width="1.0" fill="none" stroke-linejoin="round"/>
<path d="M703.0 612.0L712.0 612.0" stroke="#e8ffff" stroke-width="1.0" fill="none" stroke-linejoin="round"/>
<path d="M680.0 606.1L680.0 604.2L680.9 603.3L684.6 603.3L685.5 604.2L685.5 606.1L684.6 607.0L680.9 607.0L680.0 606.1M684.1 604.7L685.5 603.3M680.0 598.3L680.0 602.0L682.8 602.0L682.8 599.2L683.7 598.3L684.6 598.3L685.5 599.2L685.5 601.0L684.6 602.0" stroke="#ffffff" stroke-width="1.00" fill="none" stroke-linecap="round" stroke-linejoin="round"/>
<path d="M684 596 L699 596 A6 6 0 0 1 699 608 L684 608 A6 6 0 0 1 684 596z" fill="none" stroke="#e8ffff" stroke-width="1"/>
<circle cx="684.0" cy="602.0" r="3.5" fill="#d0c8e8"/>
<circle cx="699.0" cy="602.0" r="3.5" fill="#d0c8e8"/>
<path d="M655.0 662.5L654.0 661.5L652.0 661.5L651.0 662.5L651.0 666.5L652.0 667.5L654.0 667.5L655.0 666.5L655.0 665.0L653.5 665.0M656.5 667.5L656.5 661.5L659.7 661.5L660.5 662.3L660.5 663.7L659.7 664.5L656.5 664.5M665.0 667.5L665.0 661.5L662.0 665.5L666.0 665.5" stroke="#8fb4f4" stroke-width="1.00" fill="none" stroke-linecap="round" stroke-linejoin="round"/>
<path d="M656.0 674.0L655.0 673.0L653.0 673.0L652.0 674.0L652.0 678.0L653.0 679.0L655.0 679.0L656.0 678.0L656.0 676.5L654.5 676.5M657.5 679.0L657.5 673.0L661.5 679.0L661.5 673.0M663.0 673.0L663.0 679.0L665.8 679.0L667.0 677.8L667.0 674.2L665.8 673.0L663.0 673.0" stroke="#ffffff" stroke-width="1.00" fill="none" stroke-linecap="round" stroke-linejoin="round"/>
<rect x="651.4" y="681.6" width="15.9" height="15.4" rx="2.5" fill="#f0f8ff"/>
<rect x="653.9" y="684.1" width="10.9" height="10.4" rx="0" fill="#c8c0a8"/>
<path d="M653.9 694.5L664.8 694.5L664.8 684.1" stroke="#202020" stroke-width="1.2" fill="none" stroke-linejoin="round"/>
<path d="M569.0 623.8l3.2 3.2l-3.2 3.2l-3.2 -3.2z" fill="#d0c8e8"/>
<path d="M611.0 630.8l3.2 3.2l-3.2 3.2l-3.2 -3.2z" fill="#d0c8e8"/>
<path d="M648.0 706.8l3.2 3.2l-3.2 3.2l-3.2 -3.2z" fill="#d0c8e8"/>
<path d="M662.0 713.8l3.2 3.2l-3.2 3.2l-3.2 -3.2z" fill="#d0c8e8"/>
<path d="M636.0 713.8l3.2 3.2l-3.2 3.2l-3.2 -3.2z" fill="#d0c8e8"/>
<path d="M636.0 731.8l3.2 3.2l-3.2 3.2l-3.2 -3.2z" fill="#d0c8e8"/>
<path d="M662.0 731.8l3.2 3.2l-3.2 3.2l-3.2 -3.2z" fill="#d0c8e8"/>
<path d="M566.0 771.8l3.2 3.2l-3.2 3.2l-3.2 -3.2z" fill="#d0c8e8"/>
<path d="M644.0 586.8l3.2 3.2l-3.2 3.2l-3.2 -3.2z" fill="#d0c8e8"/>
<path d="M676.0 590.8l3.2 3.2l-3.2 3.2l-3.2 -3.2z" fill="#d0c8e8"/>
<path d="M611.0 730.8l3.2 3.2l-3.2 3.2l-3.2 -3.2z" fill="#d0c8e8"/>
<path d="M598.0 608.8l3.2 3.2l-3.2 3.2l-3.2 -3.2z" fill="#d0c8e8"/>
<rect x="699.1" y="737.0" width="13.0" height="23.0" rx="2" fill="none" stroke="#e8ffff" stroke-width="2"/>
<rect x="701.1" y="739.5" width="9.0" height="18.0" rx="0" fill="#10e0f8"/>
<rect x="728.2" y="737.0" width="13.0" height="23.0" rx="2" fill="none" stroke="#e8ffff" stroke-width="2"/>
<rect x="730.2" y="739.5" width="9.0" height="18.0" rx="0" fill="#10e0f8"/>
<path d="M712 749 q3 -5 6 0 q3 -5 6 0 q3 -5 6 0" stroke="#e8ffff" stroke-width="1" fill="none"/>
<path d="M689.0 738.0L689.0 744.0L693.0 744.0M697.5 744.0L697.5 738.0L694.5 742.0L698.5 742.0" stroke="#ffffff" stroke-width="1.00" fill="none" stroke-linecap="round" stroke-linejoin="round"/>
<rect x="208.4" y="801.5" width="43.3" height="27.8" rx="0" fill="none" stroke="#e8ffff" stroke-width="1"/>
<path d="M222.0 801.5L222.0 822.0" stroke="#e8ffff" stroke-width="1.0" fill="none" stroke-linejoin="round"/>
<path d="M208.4 822.0L251.7 822.0" stroke="#e8ffff" stroke-width="1.0" fill="none" stroke-linejoin="round"/>
<rect x="210.5" y="810.0" width="9.0" height="9.0" rx="0" fill="#c8c0a8" stroke="#000" stroke-width="1.5"/>
<circle cx="230.0" cy="814.4" r="4.4" fill="#d0c8e8" stroke="#000" stroke-width="0.8" stroke-dasharray="1 1"/>
<circle cx="244.0" cy="814.4" r="4.4" fill="#d0c8e8" stroke="#000" stroke-width="0.8" stroke-dasharray="1 1"/>
<path d="M230.0 822.8l3.2 3.2l-3.2 3.2l-3.2 -3.2z" fill="#d0c8e8"/>
<path d="M201.5 825.0L201.5 821.0M201.5 823.0L207.5 823.0M207.5 819.5L201.5 819.5L201.5 816.3L202.3 815.5L203.7 815.5L204.5 816.3L204.5 819.5M202.5 814.0L201.5 813.0L201.5 811.0L202.5 810.0L203.5 810.0L207.5 814.0L207.5 810.0" stroke="#ffffff" stroke-width="1.00" fill="none" stroke-linecap="round" stroke-linejoin="round"/>
<path d="M201.0 832.5L201.0 842.0L207.3 842.0M211.4 832.5L214.6 832.5L216.2 834.1L216.2 840.4L214.6 842.0L211.4 842.0L209.9 840.4L209.9 834.1L211.4 832.5M219.5 837.2L224.3 837.2M229.2 832.5L232.3 832.5L233.9 834.1L233.9 840.4L232.3 842.0L229.2 842.0L227.6 840.4L227.6 834.1L229.2 832.5M231.6 839.6L233.9 842.0" stroke="#ffffff" stroke-width="1.05" fill="none" stroke-linecap="round" stroke-linejoin="round"/>
<path d="M262.5 812.0 L262.5 806.0 L275.5 806.0 L275.5 812.0" stroke="#e8ffff" stroke-width="2.2" fill="none" stroke-linejoin="round"/>
<path d="M262.5 836.0 L262.5 842.0 L275.5 842.0 L275.5 836.0" stroke="#e8ffff" stroke-width="2.2" fill="none" stroke-linejoin="round"/>
<rect x="263.5" y="808.0" width="11.0" height="11.0" rx="0" fill="#10e0f8"/>
<rect x="263.5" y="829.0" width="11.0" height="11.0" rx="0" fill="#10e0f8"/>
<path d="M264.0 823.0L274.0 823.0" stroke="#e8ffff" stroke-width="1.2" fill="none" stroke-linejoin="round"/>
<path d="M264.0 825.0L274.0 825.0" stroke="#e8ffff" stroke-width="1.2" fill="none" stroke-linejoin="round"/>
<path d="M269.0 819.0L269.0 829.0" stroke="#e8ffff" stroke-width="1.0" fill="none" stroke-linejoin="round"/>
<path d="M328.3 811.0 L328.3 805.0 L341.3 805.0 L341.3 811.0" stroke="#e8ffff" stroke-width="2.2" fill="none" stroke-linejoin="round"/>
<path d="M328.3 833.0 L328.3 839.0 L341.3 839.0 L341.3 833.0" stroke="#e8ffff" stroke-width="2.2" fill="none" stroke-linejoin="round"/>
<rect x="329.3" y="807.0" width="11.0" height="11.0" rx="0" fill="#10e0f8"/>
<rect x="329.3" y="826.0" width="11.0" height="11.0" rx="0" fill="#10e0f8"/>
<path d="M329.8 822.0L339.8 822.0" stroke="#e8ffff" stroke-width="1.2" fill="none" stroke-linejoin="round"/>
<path d="M329.8 822.0L339.8 822.0" stroke="#e8ffff" stroke-width="1.2" fill="none" stroke-linejoin="round"/>
<path d="M334.8 818.0L334.8 826.0" stroke="#e8ffff" stroke-width="1.0" fill="none" stroke-linejoin="round"/>
<path d="M268.0 798.0L267.0 797.0L265.0 797.0L264.0 798.0L264.0 802.0L265.0 803.0L267.0 803.0L268.0 802.0M269.5 798.0L270.5 797.0L272.5 797.0L273.5 798.0L273.5 799.0L269.5 803.0L273.5 803.0" stroke="#ffffff" stroke-width="1.00" fill="none" stroke-linecap="round" stroke-linejoin="round"/>
<path d="M335.0 796.0L334.0 795.0L332.0 795.0L331.0 796.0L331.0 800.0L332.0 801.0L334.0 801.0L335.0 800.0M337.5 796.0L338.5 795.0L338.5 801.0M337.5 801.0L339.5 801.0" stroke="#ffffff" stroke-width="1.00" fill="none" stroke-linecap="round" stroke-linejoin="round"/>
<path d="M259.0 832.8l3.2 3.2l-3.2 3.2l-3.2 -3.2z" fill="#d0c8e8"/>
<path d="M281.0 832.8l3.2 3.2l-3.2 3.2l-3.2 -3.2z" fill="#d0c8e8"/>
<path d="M320.0 832.8l3.2 3.2l-3.2 3.2l-3.2 -3.2z" fill="#d0c8e8"/>
<path d="M349.0 832.8l3.2 3.2l-3.2 3.2l-3.2 -3.2z" fill="#d0c8e8"/>
<path d="M269.0 850.8l3.2 3.2l-3.2 3.2l-3.2 -3.2z" fill="#d0c8e8"/>
<path d="M334.0 850.8l3.2 3.2l-3.2 3.2l-3.2 -3.2z" fill="#d0c8e8"/>
<path d="M269.0 902.8l3.2 3.2l-3.2 3.2l-3.2 -3.2z" fill="#d0c8e8"/>
<path d="M334.0 902.8l3.2 3.2l-3.2 3.2l-3.2 -3.2z" fill="#d0c8e8"/>
<path d="M244.0 843.0L244.0 852.5L250.3 852.5M254.4 843.0L257.6 843.0L259.2 844.6L259.2 850.9L257.6 852.5L254.4 852.5L252.9 850.9L252.9 844.6L254.4 843.0M262.5 847.8L267.3 847.8M272.2 843.0L275.4 843.0L276.9 844.6L276.9 850.9L275.4 852.5L272.2 852.5L270.6 850.9L270.6 844.6L272.2 843.0M274.6 850.1L276.9 852.5" stroke="#ffffff" stroke-width="1.05" fill="none" stroke-linecap="round" stroke-linejoin="round"/>
<path d="M309.0 843.0L309.0 852.5L315.3 852.5M319.4 843.0L322.6 843.0L324.2 844.6L324.2 850.9L322.6 852.5L319.4 852.5L317.9 850.9L317.9 844.6L319.4 843.0M327.5 847.8L332.3 847.8M337.2 843.0L340.4 843.0M338.8 843.0L338.8 852.5M337.2 852.5L340.4 852.5" stroke="#ffffff" stroke-width="1.05" fill="none" stroke-linecap="round" stroke-linejoin="round"/>
<path d="M235.9 892.5L238.4 892.5M237.6 892.5L237.6 897.5L236.6 898.5L235.4 898.5L234.4 897.5M239.9 893.5L240.9 892.5L242.9 892.5L243.9 893.5L243.9 894.5L239.9 898.5L243.9 898.5" stroke="#ffffff" stroke-width="1.00" fill="none" stroke-linecap="round" stroke-linejoin="round"/>
<path d="M368.5 892.5L371.0 892.5M370.2 892.5L370.2 897.5L369.2 898.5L368.0 898.5L367.0 897.5M373.5 893.5L374.5 892.5L374.5 898.5M373.5 898.5L375.5 898.5" stroke="#ffffff" stroke-width="1.00" fill="none" stroke-linecap="round" stroke-linejoin="round"/>
<rect x="381.2" y="854.0" width="159.4" height="52.5" rx="0" fill="none" stroke="#e8ffff" stroke-width="1.1"/>
<rect x="387.9" y="860.0" width="145.7" height="39.8" rx="0" fill="none" stroke="#e8ffff" stroke-width="1.1"/>
<path d="M404.7 867.6 L516.3 867.6 L516.3 892.4 L404.7 892.4z" fill="#000"/>
<circle cx="409.7" cy="873.3" r="4.6" fill="#d0c8e8"/>
<circle cx="409.7" cy="886.7" r="4.6" fill="#d0c8e8"/>
<circle cx="424.1" cy="873.3" r="4.6" fill="#d0c8e8"/>
<circle cx="424.1" cy="886.7" r="4.6" fill="#d0c8e8"/>
<circle cx="438.5" cy="873.3" r="4.6" fill="#d0c8e8"/>
<circle cx="438.5" cy="886.7" r="4.6" fill="#d0c8e8"/>
<circle cx="452.8" cy="873.3" r="4.6" fill="#d0c8e8"/>
<circle cx="452.8" cy="886.7" r="4.6" fill="#d0c8e8"/>
<circle cx="467.2" cy="873.3" r="4.6" fill="#d0c8e8"/>
<circle cx="467.2" cy="886.7" r="4.6" fill="#d0c8e8"/>
<circle cx="481.6" cy="873.3" r="4.6" fill="#d0c8e8"/>
<circle cx="481.6" cy="886.7" r="4.6" fill="#d0c8e8"/>
<circle cx="496.0" cy="873.3" r="4.6" fill="#d0c8e8"/>
<circle cx="496.0" cy="886.7" r="4.6" fill="#d0c8e8"/>
<circle cx="510.4" cy="873.3" r="4.6" fill="#d0c8e8"/>
<rect x="505.0" y="867.5" width="11.0" height="11.0" rx="0" fill="#c8c0a8" stroke="#e0d040" stroke-width="1"/>
<circle cx="510.4" cy="886.7" r="4.6" fill="#d0c8e8"/>
<path d="M397.6 846.0L400.3 846.0M399.5 846.0L399.5 851.4L398.4 852.5L397.1 852.5L396.0 851.4M402.0 852.5L402.0 846.0L405.4 846.0L406.3 846.9L406.3 848.4L405.4 849.2L402.0 849.2M407.9 847.1L409.0 846.0L411.2 846.0L412.2 847.1L412.2 848.2L411.2 849.2L412.2 850.3L412.2 851.4L411.2 852.5L409.0 852.5L407.9 851.4M409.5 849.2L411.2 849.2M415.0 846.0L417.1 846.0L418.2 847.1L418.2 851.4L417.1 852.5L415.0 852.5L413.9 851.4L413.9 847.1L415.0 846.0" stroke="#ffffff" stroke-width="1.00" fill="none" stroke-linecap="round" stroke-linejoin="round"/>
<path d="M409.7 916.7L409.7 907.5L414.6 907.5L415.8 908.7L415.8 910.9L414.6 912.1L409.7 912.1M412.5 912.1L415.8 916.7M417.8 907.5L424.7 916.7M424.7 907.5L417.8 916.7M435.2 916.7L435.2 910.9L438.3 907.5L441.4 910.9L441.4 916.7M435.2 913.3L441.4 913.3M443.7 907.5L449.9 907.5M446.8 907.5L446.8 916.7M452.2 907.5L458.4 907.5M455.3 907.5L455.3 916.7M466.9 907.5L460.8 907.5L460.8 916.7L466.9 916.7M460.8 912.1L465.1 912.1M469.3 916.7L469.3 907.5L475.4 916.7L475.4 907.5M480.4 916.2L481.3 916.2L481.3 916.7L480.4 916.7L480.4 916.2M500.9 909.0L499.4 907.5L496.3 907.5L494.8 909.0L494.8 915.2L496.3 916.7L499.4 916.7L500.9 915.2M503.3 907.5L509.4 907.5M506.4 907.5L506.4 916.7M511.8 916.7L511.8 907.5L516.7 907.5L518.0 908.7L518.0 910.9L516.7 912.1L511.8 912.1M514.6 912.1L518.0 916.7M520.3 907.5L520.3 916.7L526.5 916.7" stroke="#ffffff" stroke-width="1.05" fill="none" stroke-linecap="round" stroke-linejoin="round"/>
<path d="M462.9 782.7 L472.9 782.7 L472.9 800.0 L462.9 800.0z" fill="#0000c8"/>
<path d="M477.4 782.7 L487.4 782.7 L487.4 800.0 L477.4 800.0z" fill="#0000c8"/>
<path d="M491.8 782.7 L501.8 782.7 L501.8 800.0 L491.8 800.0z" fill="#0000c8"/>
<path d="M506.0 782.7 L516.0 782.7 L516.0 800.0 L506.0 800.0z" fill="#0000c8"/>
<circle cx="475.2" cy="791.4" r="4" fill="#0000c8"/>
<circle cx="489.6" cy="791.4" r="4" fill="#0000c8"/>
<circle cx="503.9" cy="791.4" r="4" fill="#0000c8"/>
<path d="M461.5 778.4 L519 778.4" stroke="#e8ffff" stroke-width="3" stroke-dasharray="12 2.5"/>
<path d="M461.5 805.0 L519 805.0" stroke="#e8ffff" stroke-width="3" stroke-dasharray="12 2.5"/>
<path d="M462.0 777.9L462.0 782.9" stroke="#e8ffff" stroke-width="2.0" fill="none" stroke-linejoin="round"/>
<path d="M518.5 777.9L518.5 782.9" stroke="#e8ffff" stroke-width="2.0" fill="none" stroke-linejoin="round"/>
<path d="M462.0 805.5L462.0 800.5" stroke="#e8ffff" stroke-width="2.0" fill="none" stroke-linejoin="round"/>
<path d="M518.5 805.5L518.5 800.5" stroke="#e8ffff" stroke-width="2.0" fill="none" stroke-linejoin="round"/>
<rect x="463.7" y="778.2" width="8.4" height="9.0" rx="0" fill="#10e0f8"/>
<rect x="463.7" y="795.5" width="8.4" height="9.0" rx="0" fill="#10e0f8"/>
<path d="M470.9 787.9L464.9 787.9L466.6 789.9L464.9 791.9L470.9 791.9" stroke="#e8ffff" stroke-width="1.00" fill="none" stroke-linecap="round" stroke-linejoin="round"/>
<rect x="478.2" y="778.2" width="8.4" height="9.0" rx="0" fill="#10e0f8"/>
<rect x="478.2" y="795.5" width="8.4" height="9.0" rx="0" fill="#10e0f8"/>
<path d="M485.4 787.9L479.4 787.9L481.1 789.9L479.4 791.9L485.4 791.9" stroke="#e8ffff" stroke-width="1.00" fill="none" stroke-linecap="round" stroke-linejoin="round"/>
<rect x="492.6" y="778.2" width="8.4" height="9.0" rx="0" fill="#10e0f8"/>
<rect x="492.6" y="795.5" width="8.4" height="9.0" rx="0" fill="#10e0f8"/>
<path d="M499.8 787.9L493.8 787.9L495.5 789.9L493.8 791.9L499.8 791.9" stroke="#e8ffff" stroke-width="1.00" fill="none" stroke-linecap="round" stroke-linejoin="round"/>
<rect x="506.8" y="778.2" width="8.4" height="9.0" rx="0" fill="#10e0f8"/>
<rect x="506.8" y="795.5" width="8.4" height="9.0" rx="0" fill="#10e0f8"/>
<path d="M514.0 787.9L508.0 787.9L509.7 789.9L508.0 791.9L514.0 791.9" stroke="#e8ffff" stroke-width="1.00" fill="none" stroke-linecap="round" stroke-linejoin="round"/>
<path d="M462.9 822.4 L472.9 822.4 L472.9 839.8 L462.9 839.8z" fill="#0000c8"/>
<path d="M477.4 822.4 L487.4 822.4 L487.4 839.8 L477.4 839.8z" fill="#0000c8"/>
<path d="M491.8 822.4 L501.8 822.4 L501.8 839.8 L491.8 839.8z" fill="#0000c8"/>
<path d="M506.0 822.4 L516.0 822.4 L516.0 839.8 L506.0 839.8z" fill="#0000c8"/>
<circle cx="475.2" cy="831.1" r="4" fill="#0000c8"/>
<circle cx="489.6" cy="831.1" r="4" fill="#0000c8"/>
<circle cx="503.9" cy="831.1" r="4" fill="#0000c8"/>
<path d="M461.5 817.5 L519 817.5" stroke="#e8ffff" stroke-width="3" stroke-dasharray="12 2.5"/>
<path d="M461.5 845.5 L519 845.5" stroke="#e8ffff" stroke-width="3" stroke-dasharray="12 2.5"/>
<path d="M462.0 817.0L462.0 822.0" stroke="#e8ffff" stroke-width="2.0" fill="none" stroke-linejoin="round"/>
<path d="M518.5 817.0L518.5 822.0" stroke="#e8ffff" stroke-width="2.0" fill="none" stroke-linejoin="round"/>
<path d="M462.0 846.0L462.0 841.0" stroke="#e8ffff" stroke-width="2.0" fill="none" stroke-linejoin="round"/>
<path d="M518.5 846.0L518.5 841.0" stroke="#e8ffff" stroke-width="2.0" fill="none" stroke-linejoin="round"/>
<rect x="463.7" y="817.9" width="8.4" height="9.0" rx="0" fill="#10e0f8"/>
<rect x="463.7" y="835.3" width="8.4" height="9.0" rx="0" fill="#10e0f8"/>
<path d="M470.9 827.6L464.9 827.6L466.6 829.6L464.9 831.6L470.9 831.6" stroke="#e8ffff" stroke-width="1.00" fill="none" stroke-linecap="round" stroke-linejoin="round"/>
<rect x="478.2" y="817.9" width="8.4" height="9.0" rx="0" fill="#10e0f8"/>
<rect x="478.2" y="835.3" width="8.4" height="9.0" rx="0" fill="#10e0f8"/>
<path d="M485.4 827.6L479.4 827.6L481.1 829.6L479.4 831.6L485.4 831.6" stroke="#e8ffff" stroke-width="1.00" fill="none" stroke-linecap="round" stroke-linejoin="round"/>
<rect x="492.6" y="817.9" width="8.4" height="9.0" rx="0" fill="#10e0f8"/>
<rect x="492.6" y="835.3" width="8.4" height="9.0" rx="0" fill="#10e0f8"/>
<path d="M499.8 827.6L493.8 827.6L495.5 829.6L493.8 831.6L499.8 831.6" stroke="#e8ffff" stroke-width="1.00" fill="none" stroke-linecap="round" stroke-linejoin="round"/>
<rect x="506.8" y="817.9" width="8.4" height="9.0" rx="0" fill="#10e0f8"/>
<rect x="506.8" y="835.3" width="8.4" height="9.0" rx="0" fill="#10e0f8"/>
<path d="M514.0 827.6L508.0 827.6L509.7 829.6L508.0 831.6L514.0 831.6" stroke="#e8ffff" stroke-width="1.00" fill="none" stroke-linecap="round" stroke-linejoin="round"/>
<rect x="463.9" y="806.0" width="8.0" height="10.0" rx="0" fill="#0000c8"/>
<rect x="463.9" y="847.0" width="8.0" height="21.0" rx="0" fill="#0000c8"/>
<rect x="478.4" y="806.0" width="8.0" height="10.0" rx="0" fill="#0000c8"/>
<rect x="478.4" y="847.0" width="8.0" height="21.0" rx="0" fill="#0000c8"/>
<rect x="492.8" y="806.0" width="8.0" height="10.0" rx="0" fill="#0000c8"/>
<rect x="492.8" y="847.0" width="8.0" height="21.0" rx="0" fill="#0000c8"/>
<rect x="507.0" y="806.0" width="8.0" height="10.0" rx="0" fill="#0000c8"/>
<rect x="507.0" y="847.0" width="8.0" height="21.0" rx="0" fill="#0000c8"/>
<path d="M446.5 808.0L440.0 808.0L440.0 804.5L440.9 803.7L442.4 803.7L443.2 804.5L443.2 808.0M443.2 806.0L446.5 803.7M441.1 802.0L440.0 801.0L440.0 798.8L441.1 797.7L442.2 797.7L443.2 798.8L444.3 797.7L445.4 797.7L446.5 798.8L446.5 801.0L445.4 802.0M443.2 800.4L443.2 798.8M440.0 791.8L440.0 796.1L443.2 796.1L443.2 792.8L444.3 791.8L445.4 791.8L446.5 792.8L446.5 795.0L445.4 796.1" stroke="#ffffff" stroke-width="1.00" fill="none" stroke-linecap="round" stroke-linejoin="round"/>
<path d="M460.5 808.0L454.0 808.0L454.0 804.5L454.9 803.7L456.4 803.7L457.2 804.5L457.2 808.0M457.2 806.0L460.5 803.7M455.1 802.0L454.0 801.0L454.0 798.8L455.1 797.7L456.2 797.7L457.2 798.8L458.3 797.7L459.4 797.7L460.5 798.8L460.5 801.0L459.4 802.0M457.2 800.4L457.2 798.8M455.1 796.1L454.0 795.0L454.0 792.8L455.1 791.8L456.2 791.8L457.2 792.8L458.3 791.8L459.4 791.8L460.5 792.8L460.5 795.0L459.4 796.1M457.2 794.5L457.2 792.8" stroke="#ffffff" stroke-width="1.00" fill="none" stroke-linecap="round" stroke-linejoin="round"/>
<path d="M446.5 840.0L440.0 840.0L440.0 836.5L440.9 835.7L442.4 835.7L443.2 836.5L443.2 840.0M443.2 838.0L446.5 835.7M441.1 834.0L440.0 833.0L440.0 830.8L441.1 829.7L442.2 829.7L443.2 830.8L444.3 829.7L445.4 829.7L446.5 830.8L446.5 833.0L445.4 834.0M443.2 832.4L443.2 830.8M446.5 824.8L440.0 824.8L444.3 828.1L444.3 823.8" stroke="#ffffff" stroke-width="1.00" fill="none" stroke-linecap="round" stroke-linejoin="round"/>
<path d="M460.5 840.0L454.0 840.0L454.0 836.5L454.9 835.7L456.4 835.7L457.2 836.5L457.2 840.0M457.2 838.0L460.5 835.7M455.1 834.0L454.0 833.0L454.0 830.8L455.1 829.7L456.2 829.7L457.2 830.8L458.3 829.7L459.4 829.7L460.5 830.8L460.5 833.0L459.4 834.0M457.2 832.4L457.2 830.8M455.1 828.1L454.0 827.0L454.0 824.8L455.1 823.8L456.2 823.8L460.5 828.1L460.5 823.8" stroke="#ffffff" stroke-width="1.00" fill="none" stroke-linecap="round" stroke-linejoin="round"/>
<path d="M519.0 803.6L525.5 803.6L525.5 807.1L524.6 807.9L523.1 807.9L522.2 807.1L522.2 803.6M522.2 805.6L519.0 807.9M524.4 809.6L525.5 810.6L525.5 812.8L524.4 813.9L523.3 813.9L522.2 812.8L521.2 813.9L520.1 813.9L519.0 812.8L519.0 810.6L520.1 809.6M522.2 811.2L522.2 812.8M524.4 816.6L525.5 817.7L519.0 817.7M519.0 816.6L519.0 818.8M519.0 821.5L525.5 821.5L525.5 824.9L524.6 825.8L523.1 825.8L522.2 824.9L522.2 821.5M522.2 823.4L519.0 825.8M524.4 827.4L525.5 828.5L525.5 830.7L524.4 831.8L523.3 831.8L522.2 830.7L521.2 831.8L520.1 831.8L519.0 830.7L519.0 828.5L520.1 827.4M522.2 829.1L522.2 830.7M525.5 834.5L525.5 836.6L524.4 837.7L520.1 837.7L519.0 836.6L519.0 834.5L520.1 833.4L524.4 833.4L525.5 834.5" stroke="#ffffff" stroke-width="1.00" fill="none" stroke-linecap="round" stroke-linejoin="round"/>
<path d="M529.8 803.6L536.3 803.6L536.3 807.1L535.4 807.9L533.9 807.9L533.0 807.1L533.0 803.6M533.0 805.6L529.8 807.9M536.3 813.9L536.3 809.6L533.0 809.6L533.0 812.8L532.0 813.9L530.9 813.9L529.8 812.8L529.8 810.6L530.9 809.6M530.9 815.5L529.8 816.6L529.8 818.8L530.9 819.9L535.2 819.9L536.3 818.8L536.3 816.6L535.2 815.5L534.1 815.5L533.0 816.6L533.0 819.9M529.8 821.5L536.3 821.5L536.3 824.9L535.4 825.8L533.9 825.8L533.0 824.9L533.0 821.5M533.0 823.4L529.8 825.8M536.3 831.8L536.3 827.4L533.0 827.4L533.0 830.7L532.0 831.8L530.9 831.8L529.8 830.7L529.8 828.5L530.9 827.4M533.0 834.5L534.1 833.4L535.2 833.4L536.3 834.5L536.3 836.6L535.2 837.7L534.1 837.7L533.0 836.6L533.0 834.5L532.0 833.4L530.9 833.4L529.8 834.5L529.8 836.6L530.9 837.7L532.0 837.7L533.0 836.6" stroke="#ffffff" stroke-width="1.00" fill="none" stroke-linecap="round" stroke-linejoin="round"/>
<path d="M441.2 770.8L442.0 771.5L437.5 771.5M437.5 770.8L437.5 772.2M442.0 774.9L442.0 776.4L441.2 777.1L438.2 777.1L437.5 776.4L437.5 774.9L438.2 774.1L441.2 774.1L442.0 774.9M442.0 778.2L437.5 778.2M442.0 781.2L439.0 778.2M440.1 779.4L437.5 781.2" stroke="#8fb4f4" stroke-width="0.80" fill="none" stroke-linecap="round" stroke-linejoin="round"/>
<path d="M451.2 770.8L452.0 771.5L447.5 771.5M447.5 770.8L447.5 772.2M452.0 774.9L452.0 776.4L451.2 777.1L448.2 777.1L447.5 776.4L447.5 774.9L448.2 774.1L451.2 774.1L452.0 774.9M452.0 778.2L447.5 778.2M452.0 781.2L449.0 778.2M450.1 779.4L447.5 781.2" stroke="#8fb4f4" stroke-width="0.80" fill="none" stroke-linecap="round" stroke-linejoin="round"/>
<path d="M463.8 850.8L464.7 850.0L464.7 855.0M463.8 855.0L465.5 855.0M467.6 850.0L467.6 855.0M470.9 850.0L467.6 853.3M468.8 852.1L470.9 855.0M477.6 850.8L478.4 850.0L478.4 855.0M477.6 855.0L479.2 855.0M481.3 850.0L481.3 855.0M484.7 850.0L481.3 853.3M482.6 852.1L484.7 855.0M491.3 850.8L492.2 850.0L492.2 855.0M491.3 855.0L493.0 855.0M495.1 850.0L495.1 855.0M498.4 850.0L495.1 853.3M496.3 852.1L498.4 855.0M505.1 850.8L505.9 850.0L505.9 855.0M505.1 855.0L506.8 855.0M508.8 850.0L508.8 855.0M512.2 850.0L508.8 853.3M510.1 852.1L512.2 855.0" stroke="#8fb4f4" stroke-width="0.90" fill="none" stroke-linecap="round" stroke-linejoin="round"/>
<path d="M527 789 L545 789 L545 803 L527 803z" fill="#0000d0"/>
<rect x="526.0" y="788.0" width="19.0" height="15.0" rx="0" fill="none" stroke="#e8ffff" stroke-width="0.9"/>
<rect x="532.0" y="782.5" width="7.0" height="7.0" rx="0" fill="#10e0f8"/>
<rect x="527.5" y="795.0" width="7.0" height="7.0" rx="0" fill="#10e0f8"/>
<rect x="538.0" y="795.0" width="7.0" height="7.0" rx="0" fill="#10e0f8"/>
<path d="M540.9 806.0L542.8 806.0L543.7 806.9L543.7 810.6L542.8 811.5L540.9 811.5L540.0 810.6L540.0 806.9L540.9 806.0M542.3 810.1L543.7 811.5M547.8 811.5L547.8 806.0L545.0 809.7L548.7 809.7" stroke="#ffffff" stroke-width="1.00" fill="none" stroke-linecap="round" stroke-linejoin="round"/>
<path d="M561.0 792.7L556.7 792.7L554.5 795.2L556.7 797.6L561.0 797.6M554.5 799.0L558.6 799.0L561.0 801.1L558.6 803.3L554.5 803.3M556.9 799.0L556.9 803.3M559.9 806.0L561.0 807.1L554.5 807.1M554.5 806.0L554.5 808.2M561.0 815.2L561.0 810.9L557.8 810.9L557.8 814.1L556.7 815.2L555.6 815.2L554.5 814.1L554.5 812.0L555.6 810.9M557.8 816.8L557.8 821.2M559.9 819.0L555.6 819.0" stroke="#ffffff" stroke-width="1.00" fill="none" stroke-linecap="round" stroke-linejoin="round"/>
<path d="M558.9 839.3L560.0 838.2L560.0 836.1L558.9 835.0L557.8 835.0L556.8 836.1L556.8 838.2L555.7 839.3L554.6 839.3L553.5 838.2L553.5 836.1L554.6 835.0M553.5 840.7L560.0 840.7L556.8 842.9L560.0 845.1L553.5 845.1M560.0 846.5L553.5 846.5L553.5 850.8M560.0 853.9L560.0 856.6M560.0 855.7L554.6 855.7L553.5 854.6L553.5 853.3L554.6 852.2M556.8 858.5L556.8 861.8M553.5 863.7L560.0 863.7L560.0 867.2L559.1 868.0L557.6 868.0L556.8 867.2L556.8 863.7M560.0 870.5L560.0 872.7L558.9 873.8L554.6 873.8L553.5 872.7L553.5 870.5L554.6 869.5L558.9 869.5L560.0 870.5M560.0 875.2L553.5 875.2L555.3 877.4L553.5 879.5L560.0 879.5M560.0 885.3L560.0 880.9L553.5 880.9L553.5 885.3M556.8 880.9L556.8 884.0M553.5 886.7L560.0 886.7L560.0 890.1L559.1 891.0L557.6 891.0L556.8 890.1L556.8 886.7M556.8 888.6L553.5 891.0" stroke="#ffffff" stroke-width="1.00" fill="none" stroke-linecap="round" stroke-linejoin="round"/>
<path d="M462.0 767.8l3.2 3.2l-3.2 3.2l-3.2 -3.2z" fill="#d0c8e8"/>
<path d="M494.0 765.8l3.2 3.2l-3.2 3.2l-3.2 -3.2z" fill="#d0c8e8"/>
<path d="M528.0 767.8l3.2 3.2l-3.2 3.2l-3.2 -3.2z" fill="#d0c8e8"/>
<path d="M548.0 771.8l3.2 3.2l-3.2 3.2l-3.2 -3.2z" fill="#d0c8e8"/>
<path d="M554.0 782.8l3.2 3.2l-3.2 3.2l-3.2 -3.2z" fill="#d0c8e8"/>
<path d="M545.0 810.8l3.2 3.2l-3.2 3.2l-3.2 -3.2z" fill="#d0c8e8"/>
<path d="M545.0 826.8l3.2 3.2l-3.2 3.2l-3.2 -3.2z" fill="#d0c8e8"/>
<path d="M434.0 836.8l3.2 3.2l-3.2 3.2l-3.2 -3.2z" fill="#d0c8e8"/>
<path d="M552.0 892.8l3.2 3.2l-3.2 3.2l-3.2 -3.2z" fill="#d0c8e8"/>
<path d="M536.0 797.8l3.2 3.2l-3.2 3.2l-3.2 -3.2z" fill="#d0c8e8"/>
<rect x="562.5" y="755.5" width="18.5" height="25.5" rx="2" fill="none" stroke="#e8ffff" stroke-width="2.2"/>
<rect x="565.0" y="758.0" width="13.5" height="20.5" rx="0" fill="#10e0f8"/>
<rect x="603.0" y="755.5" width="18.5" height="25.5" rx="2" fill="none" stroke="#e8ffff" stroke-width="2.2"/>
<rect x="605.5" y="758.0" width="13.5" height="20.5" rx="0" fill="#10e0f8"/>
<path d="M588 763.0 L588 773.0 M593 763.0 L593 773.0" stroke="#e8ffff" stroke-width="1.2"/>
<rect x="562.5" y="826.5" width="18.5" height="25.5" rx="2" fill="none" stroke="#e8ffff" stroke-width="2.2"/>
<rect x="565.0" y="829.0" width="13.5" height="20.5" rx="0" fill="#10e0f8"/>
<rect x="603.0" y="826.5" width="18.5" height="25.5" rx="2" fill="none" stroke="#e8ffff" stroke-width="2.2"/>
<rect x="605.5" y="829.0" width="13.5" height="20.5" rx="0" fill="#10e0f8"/>
<path d="M588 834.0 L588 844.0 M593 834.0 L593 844.0" stroke="#e8ffff" stroke-width="1.2"/>
<rect x="562.5" y="874.5" width="18.5" height="25.5" rx="2" fill="none" stroke="#e8ffff" stroke-width="2.2"/>
<rect x="565.0" y="877.0" width="13.5" height="20.5" rx="0" fill="#10e0f8"/>
<rect x="603.0" y="874.5" width="18.5" height="25.5" rx="2" fill="none" stroke="#e8ffff" stroke-width="2.2"/>
<rect x="605.5" y="877.0" width="13.5" height="20.5" rx="0" fill="#10e0f8"/>
<path d="M588 882.0 L588 892.0 M593 882.0 L593 892.0" stroke="#e8ffff" stroke-width="1.2"/>
<rect x="628.5" y="755.5" width="14.5" height="25.5" rx="2" fill="none" stroke="#e8ffff" stroke-width="2.2"/>
<rect x="631.0" y="758.0" width="9.5" height="20.5" rx="0" fill="#10e0f8"/>
<rect x="657.0" y="755.5" width="14.5" height="25.5" rx="2" fill="none" stroke="#e8ffff" stroke-width="2.2"/>
<rect x="659.5" y="758.0" width="9.5" height="20.5" rx="0" fill="#10e0f8"/>
<path d="M643.0 768.0 q3 -5 6 0 q3 -5 6 0 q3 -5 6 0" stroke="#e8ffff" stroke-width="1" fill="none"/>
<rect x="628.5" y="826.5" width="14.5" height="25.5" rx="2" fill="none" stroke="#e8ffff" stroke-width="2.2"/>
<rect x="631.0" y="829.0" width="9.5" height="20.5" rx="0" fill="#10e0f8"/>
<rect x="657.0" y="826.5" width="14.5" height="25.5" rx="2" fill="none" stroke="#e8ffff" stroke-width="2.2"/>
<rect x="659.5" y="829.0" width="9.5" height="20.5" rx="0" fill="#10e0f8"/>
<path d="M643.0 839.0 q3 -5 6 0 q3 -5 6 0 q3 -5 6 0" stroke="#e8ffff" stroke-width="1" fill="none"/>
<rect x="650.5" y="874.5" width="14.5" height="25.5" rx="2" fill="none" stroke="#e8ffff" stroke-width="2.2"/>
<rect x="653.0" y="877.0" width="9.5" height="20.5" rx="0" fill="#10e0f8"/>
<rect x="680.5" y="874.5" width="14.5" height="25.5" rx="2" fill="none" stroke="#e8ffff" stroke-width="2.2"/>
<rect x="683.0" y="877.0" width="9.5" height="20.5" rx="0" fill="#10e0f8"/>
<path d="M665.0 887.0 q3 -5 6 0 q3 -5 6 0 q3 -5 6 0" stroke="#e8ffff" stroke-width="1" fill="none"/>
<path d="M587.0 752.0L586.0 751.0L584.0 751.0L583.0 752.0L583.0 756.0L584.0 757.0L586.0 757.0L587.0 756.0M589.5 752.0L590.5 751.0L590.5 757.0M589.5 757.0L591.5 757.0M598.0 751.0L594.0 751.0L594.0 754.0L597.0 754.0L598.0 755.0L598.0 756.0L597.0 757.0L595.0 757.0L594.0 756.0" stroke="#ffffff" stroke-width="1.00" fill="none" stroke-linecap="round" stroke-linejoin="round"/>
<path d="M636.0 750.0L636.0 756.0L640.0 756.0M641.5 751.0L642.5 750.0L644.5 750.0L645.5 751.0L645.5 752.0L644.5 753.0L645.5 754.0L645.5 755.0L644.5 756.0L642.5 756.0L641.5 755.0M643.0 753.0L644.5 753.0" stroke="#ffffff" stroke-width="1.00" fill="none" stroke-linecap="round" stroke-linejoin="round"/>
<path d="M570.0 738.9L570.9 738.0L572.8 738.0L573.7 738.9L573.7 739.8L570.0 743.5L573.7 743.5M575.0 738.9L576.0 738.0L577.8 738.0L578.7 738.9L578.7 739.8L575.0 743.5L578.7 743.5M580.1 739.8L580.1 742.6L581.0 743.5L583.8 743.5L583.8 739.8M588.8 738.0L585.1 738.0L585.1 743.5M585.1 740.8L587.7 740.8M595.2 738.9L596.1 738.0L598.0 738.0L598.9 738.9L598.9 739.8L595.2 743.5L598.9 743.5M601.2 738.0L603.0 738.0L603.9 738.9L603.9 742.6L603.0 743.5L601.2 743.5L600.2 742.6L600.2 738.9L601.2 738.0M605.1 738.0L605.1 741.7L607.1 743.5L609.2 741.7L609.2 738.0" stroke="#8fb4f4" stroke-width="0.90" fill="none" stroke-linecap="round" stroke-linejoin="round"/>
<path d="M584.0 824.0L583.0 823.0L581.0 823.0L580.0 824.0L580.0 828.0L581.0 829.0L583.0 829.0L584.0 828.0M586.5 824.0L587.5 823.0L587.5 829.0M586.5 829.0L588.5 829.0M594.0 829.0L594.0 823.0L591.0 827.0L595.0 827.0" stroke="#ffffff" stroke-width="1.00" fill="none" stroke-linecap="round" stroke-linejoin="round"/>
<path d="M636.0 822.0L636.0 828.0L640.0 828.0M641.5 823.0L642.5 822.0L644.5 822.0L645.5 823.0L645.5 824.0L641.5 828.0L645.5 828.0" stroke="#ffffff" stroke-width="1.00" fill="none" stroke-linecap="round" stroke-linejoin="round"/>
<path d="M580.0 905.0L579.0 904.0L577.0 904.0L576.0 905.0L576.0 909.0L577.0 910.0L579.0 910.0L580.0 909.0M582.5 905.0L583.5 904.0L583.5 910.0M582.5 910.0L584.5 910.0M588.0 905.0L589.0 904.0L589.0 910.0M588.0 910.0L590.0 910.0" stroke="#ffffff" stroke-width="1.00" fill="none" stroke-linecap="round" stroke-linejoin="round"/>
<path d="M698.0 873.0L698.0 879.0L702.0 879.0M704.5 874.0L705.5 873.0L705.5 879.0M704.5 879.0L706.5 879.0" stroke="#ffffff" stroke-width="1.00" fill="none" stroke-linecap="round" stroke-linejoin="round"/>
<path d="M583.0 784.5L586.3 784.5M584.7 782.8L584.7 786.2" stroke="#ffffff" stroke-width="1.00" fill="none" stroke-linecap="round" stroke-linejoin="round"/>
<path d="M612.0 855.5L615.3 855.5M613.7 853.8L613.7 857.2" stroke="#ffffff" stroke-width="1.00" fill="none" stroke-linecap="round" stroke-linejoin="round"/>
<path d="M612.0 904.5L615.3 904.5M613.7 902.8L613.7 906.2" stroke="#ffffff" stroke-width="1.00" fill="none" stroke-linecap="round" stroke-linejoin="round"/>
<path d="M569.0 753.5L572.3 753.5M570.7 751.8L570.7 755.2" stroke="#ffffff" stroke-width="1.00" fill="none" stroke-linecap="round" stroke-linejoin="round"/>
<rect x="563.0" y="793.0" width="35.0" height="14.0" rx="0" fill="none" stroke="#e8ffff" stroke-width="1"/>
<rect x="565.0" y="795.0" width="10.0" height="10.0" rx="0" fill="none" stroke="#0000a0" stroke-width="1.5"/>
<rect x="585.0" y="795.0" width="10.0" height="10.0" rx="0" fill="none" stroke="#0000a0" stroke-width="1.5"/>
<path d="M578.0 796.0L578.0 804.0L582.0 800.0L578.0 796.0" stroke="#e8ffff" stroke-width="0.9" fill="none" stroke-linejoin="round"/>
<rect x="569.0" y="803.0" width="7.0" height="4.0" rx="0" fill="#e8f0f0"/>
<path d="M580.0 810.0L580.0 816.0L584.0 816.0M589.5 810.0L585.5 810.0L585.5 816.0L589.5 816.0M585.5 813.0L588.3 813.0M591.0 810.0L591.0 816.0L593.8 816.0L595.0 814.8L595.0 811.2L593.8 810.0L591.0 810.0M596.5 811.0L597.5 810.0L599.5 810.0L600.5 811.0L600.5 812.0L596.5 816.0L600.5 816.0" stroke="#8fb4f4" stroke-width="1.00" fill="none" stroke-linecap="round" stroke-linejoin="round"/>
<rect x="567.0" y="855.0" width="35.0" height="14.0" rx="0" fill="none" stroke="#e8ffff" stroke-width="1"/>
<rect x="569.0" y="857.0" width="10.0" height="10.0" rx="0" fill="none" stroke="#0000a0" stroke-width="1.5"/>
<rect x="589.0" y="857.0" width="10.0" height="10.0" rx="0" fill="none" stroke="#0000a0" stroke-width="1.5"/>
<path d="M582.0 858.0L582.0 866.0L586.0 862.0L582.0 858.0" stroke="#e8ffff" stroke-width="0.9" fill="none" stroke-linejoin="round"/>
<rect x="573.0" y="865.0" width="7.0" height="4.0" rx="0" fill="#e8f0f0"/>
<path d="M584.0 872.0L584.0 878.0L588.0 878.0M593.5 872.0L589.5 872.0L589.5 878.0L593.5 878.0M589.5 875.0L592.3 875.0M595.0 872.0L595.0 878.0L597.8 878.0L599.0 876.8L599.0 873.2L597.8 872.0L595.0 872.0M601.5 873.0L602.5 872.0L602.5 878.0M601.5 878.0L603.5 878.0" stroke="#8fb4f4" stroke-width="1.00" fill="none" stroke-linecap="round" stroke-linejoin="round"/>
<path d="M606.9 794.0L601.9 794.0L601.9 806.0L606.9 806.0" stroke="#e8ffff" stroke-width="2.2" fill="none" stroke-linejoin="round"/>
<path d="M627.9 794.0L632.9 794.0L632.9 806.0L627.9 806.0" stroke="#e8ffff" stroke-width="2.2" fill="none" stroke-linejoin="round"/>
<rect x="604.4" y="796.0" width="7.5" height="8.0" rx="0" fill="#10e0f8"/>
<rect x="622.9" y="796.0" width="7.5" height="8.0" rx="0" fill="#10e0f8"/>
<path d="M614.4 796.5L614.4 803.0L616.6 801.2L618.7 803.0L618.7 796.5" stroke="#e8ffff" stroke-width="1.10" fill="none" stroke-linecap="round" stroke-linejoin="round"/>
<path d="M611.0 814.0L611.0 808.0L614.2 808.0L615.0 808.8L615.0 810.2L614.2 811.0L611.0 811.0M612.8 811.0L615.0 814.0M620.5 808.0L616.5 808.0L616.5 811.0L619.5 811.0L620.5 812.0L620.5 813.0L619.5 814.0L617.5 814.0L616.5 813.0M623.0 809.0L624.0 808.0L624.0 814.0M623.0 814.0L625.0 814.0" stroke="#ffffff" stroke-width="1.00" fill="none" stroke-linecap="round" stroke-linejoin="round"/>
<path d="M604.0 786.0L605.0 785.0L605.0 791.0M604.0 791.0L606.0 791.0M610.2 790.7L610.8 790.7L610.8 791.0L610.2 791.0L610.2 790.7M618.0 785.0L614.0 785.0L614.0 788.0L617.0 788.0L618.0 789.0L618.0 790.0L617.0 791.0L615.0 791.0L614.0 790.0M619.5 785.0L619.5 791.0M623.5 785.0L619.5 789.0M621.0 787.5L623.5 791.0" stroke="#8fb4f4" stroke-width="1.00" fill="none" stroke-linecap="round" stroke-linejoin="round"/>
<path d="M621.8 856.0L616.8 856.0L616.8 868.0L621.8 868.0" stroke="#e8ffff" stroke-width="2.2" fill="none" stroke-linejoin="round"/>
<path d="M642.8 856.0L647.8 856.0L647.8 868.0L642.8 868.0" stroke="#e8ffff" stroke-width="2.2" fill="none" stroke-linejoin="round"/>
<rect x="619.3" y="858.0" width="7.5" height="8.0" rx="0" fill="#10e0f8"/>
<rect x="637.8" y="858.0" width="7.5" height="8.0" rx="0" fill="#10e0f8"/>
<path d="M629.3 858.5L629.3 865.0L631.5 863.2L633.6 865.0L633.6 858.5" stroke="#e8ffff" stroke-width="1.10" fill="none" stroke-linecap="round" stroke-linejoin="round"/>
<path d="M630.0 876.5L630.0 870.5L633.2 870.5L634.0 871.3L634.0 872.7L633.2 873.5L630.0 873.5M631.8 873.5L634.0 876.5M639.5 870.5L635.5 870.5L635.5 873.5L638.5 873.5L639.5 874.5L639.5 875.5L638.5 876.5L636.5 876.5L635.5 875.5M642.0 870.5L644.0 870.5L645.0 871.5L645.0 875.5L644.0 876.5L642.0 876.5L641.0 875.5L641.0 871.5L642.0 870.5" stroke="#ffffff" stroke-width="1.00" fill="none" stroke-linecap="round" stroke-linejoin="round"/>
<rect x="663.0" y="790.0" width="14.0" height="32.0" rx="2" fill="none" stroke="#e8ffff" stroke-width="2.2"/>
<rect x="665.0" y="792.0" width="9.0" height="8.0" rx="0" fill="#10e0f8"/>
<rect x="665.0" y="812.0" width="9.0" height="8.0" rx="0" fill="#10e0f8"/>
<rect x="666.0" y="801.0" width="7.0" height="10.0" rx="0" fill="#f0f8ff"/>
<path d="M653.0 818.0L653.0 812.3L661.5 818.0L661.5 812.3M653.0 804.5L653.0 810.2L661.5 810.2L661.5 804.5M657.2 810.2L657.2 806.2M661.5 802.4L653.0 802.4L653.0 797.9L654.1 796.8L656.1 796.8L657.2 797.9L657.2 802.4M657.2 799.9L661.5 796.8M653.0 793.2L653.0 790.4L654.4 789.0L660.1 789.0L661.5 790.4L661.5 793.2L660.1 794.6L654.4 794.6L653.0 793.2" stroke="#ffffff" stroke-width="1.05" fill="none" stroke-linecap="round" stroke-linejoin="round"/>
<path d="M648.0 805.0L642.0 805.0L642.0 801.8L642.8 801.0L644.2 801.0L645.0 801.8L645.0 805.0M645.0 803.2L648.0 801.0M643.0 799.5L642.0 798.5L642.0 796.5L643.0 795.5L644.0 795.5L645.0 796.5L646.0 795.5L647.0 795.5L648.0 796.5L648.0 798.5L647.0 799.5M645.0 798.0L645.0 796.5M645.0 793.0L644.0 794.0L643.0 794.0L642.0 793.0L642.0 791.0L643.0 790.0L644.0 790.0L645.0 791.0L645.0 793.0L646.0 794.0L647.0 794.0L648.0 793.0L648.0 791.0L647.0 790.0L646.0 790.0L645.0 791.0" stroke="#ffffff" stroke-width="1.00" fill="none" stroke-linecap="round" stroke-linejoin="round"/>
<rect x="689.7" y="768.3" width="54.1" height="102.0" rx="0" fill="none" stroke="#e8ffff" stroke-width="1.1"/>
<circle cx="701.3" cy="782.0" r="6.5" fill="#d0c8e8" stroke="#000" stroke-width="0.8" stroke-dasharray="1 1"/>
<circle cx="701.3" cy="805.5" r="6.5" fill="#d0c8e8" stroke="#000" stroke-width="0.8" stroke-dasharray="1 1"/>
<circle cx="701.3" cy="830.0" r="6.5" fill="#d0c8e8" stroke="#000" stroke-width="0.8" stroke-dasharray="1 1"/>
<circle cx="701.3" cy="853.3" r="6.5" fill="#d0c8e8" stroke="#000" stroke-width="0.8" stroke-dasharray="1 1"/>
<circle cx="732.0" cy="805.5" r="6.5" fill="#d0c8e8" stroke="#000" stroke-width="0.8" stroke-dasharray="1 1"/>
<circle cx="732.0" cy="830.0" r="6.5" fill="#d0c8e8" stroke="#000" stroke-width="0.8" stroke-dasharray="1 1"/>
<circle cx="732.0" cy="853.3" r="6.5" fill="#d0c8e8" stroke="#000" stroke-width="0.8" stroke-dasharray="1 1"/>
<rect x="725.8" y="771.4" width="13.8" height="18.1" rx="0" fill="#c8c0a8"/>
<rect x="724.0" y="768.5" width="19.0" height="6.0" rx="0" fill="#f0f8ff"/>
<path d="M704.3 774.0 a9 9 0 0 1 0 16" stroke="#e8ffff" stroke-width="1.2" fill="none"/>
<path d="M704.3 845.3 a9 9 0 0 1 0 16" stroke="#e8ffff" stroke-width="1.2" fill="none"/>
<path d="M735.0 797.5 a9 9 0 0 1 0 16" stroke="#e8ffff" stroke-width="1.2" fill="none"/>
<path d="M735.0 822.0 a9 9 0 0 1 0 16" stroke="#e8ffff" stroke-width="1.2" fill="none"/>
<path d="M677.5 828.0L687.5 828.0L687.5 833.3L686.2 834.7L683.8 834.7L682.5 833.3L682.5 828.0M687.5 838.8L687.5 842.2L685.8 843.8L679.2 843.8L677.5 842.2L677.5 838.8L679.2 837.2L685.8 837.2L687.5 838.8M687.5 846.3L677.5 846.3L680.3 849.7L677.5 853.0L687.5 853.0M687.5 862.2L687.5 855.5L677.5 855.5L677.5 862.2M682.5 855.5L682.5 860.2M677.5 864.7L687.5 864.7L687.5 870.0L686.2 871.3L683.8 871.3L682.5 870.0L682.5 864.7M682.5 867.7L677.5 871.3" stroke="#ffffff" stroke-width="1.10" fill="none" stroke-linecap="round" stroke-linejoin="round"/>
<path d="M682.0 773.0L688.0 773.0L688.0 776.2L687.2 777.0L685.8 777.0L685.0 776.2L685.0 773.0M688.0 782.5L688.0 778.5L685.0 778.5L685.0 781.5L684.0 782.5L683.0 782.5L682.0 781.5L682.0 779.5L683.0 778.5" stroke="#ffffff" stroke-width="1.00" fill="none" stroke-linecap="round" stroke-linejoin="round"/>
<path d="M718.0 795.0L713.0 795.0L712.0 796.0L712.0 798.0L713.0 799.0L718.0 799.0M717.0 804.5L718.0 803.5L718.0 801.5L717.0 800.5L716.0 800.5L715.0 801.5L715.0 803.5L714.0 804.5L713.0 804.5L712.0 803.5L712.0 801.5L713.0 800.5M715.0 806.0L715.0 809.2L714.2 810.0L712.8 810.0L712.0 809.2L712.0 806.0L718.0 806.0L718.0 809.0L717.2 809.8L715.8 809.8L715.0 809.0M715.0 812.0L715.0 815.0M717.0 821.0L718.0 820.0L718.0 818.0L717.0 817.0L716.0 817.0L715.0 818.0L715.0 820.0L714.0 821.0L713.0 821.0L712.0 820.0L712.0 818.0L713.0 817.0M712.0 822.5L718.0 822.5L715.0 824.5L718.0 826.5L712.0 826.5M718.0 828.0L718.0 832.0M718.0 830.0L712.0 830.0" stroke="#8fb4f4" stroke-width="0.90" fill="none" stroke-linecap="round" stroke-linejoin="round"/>
<path d="M706.0 839.8l3.2 3.2l-3.2 3.2l-3.2 -3.2z" fill="#d0c8e8"/>
<path d="M740.0 811.8l3.2 3.2l-3.2 3.2l-3.2 -3.2z" fill="#d0c8e8"/>
<path d="M721.0 802.8l3.2 3.2l-3.2 3.2l-3.2 -3.2z" fill="#d0c8e8"/>
<path d="M575.0 925.0L576.0 924.0L578.0 924.0L579.0 925.0L579.0 926.0L575.0 930.0L579.0 930.0M580.5 925.0L581.5 924.0L583.5 924.0L584.5 925.0L584.5 926.0L580.5 930.0L584.5 930.0M586.0 926.0L586.0 929.0L587.0 930.0L590.0 930.0L590.0 926.0M595.5 924.0L591.5 924.0L591.5 930.0M591.5 927.0L594.3 927.0M602.5 925.0L603.5 924.0L605.5 924.0L606.5 925.0L606.5 926.0L602.5 930.0L606.5 930.0M609.0 924.0L611.0 924.0L612.0 925.0L612.0 929.0L611.0 930.0L609.0 930.0L608.0 929.0L608.0 925.0L609.0 924.0M613.2 924.0L613.2 928.0L615.5 930.0L617.8 928.0L617.8 924.0" stroke="#a09040" stroke-width="1.00" fill="none" stroke-linecap="round" stroke-linejoin="round"/>
<path d="M575.0 931.0L576.0 930.0L578.0 930.0L579.0 931.0L579.0 932.0L575.0 936.0L579.0 936.0M580.5 931.0L581.5 930.0L583.5 930.0L584.5 931.0L584.5 932.0L580.5 936.0L584.5 936.0M586.0 932.0L586.0 935.0L587.0 936.0L590.0 936.0L590.0 932.0M595.5 930.0L591.5 930.0L591.5 936.0M591.5 933.0L594.3 933.0M602.5 931.0L603.5 930.0L605.5 930.0L606.5 931.0L606.5 932.0L602.5 936.0L606.5 936.0M609.0 930.0L611.0 930.0L612.0 931.0L612.0 935.0L611.0 936.0L609.0 936.0L608.0 935.0L608.0 931.0L609.0 930.0M613.2 930.0L613.2 934.0L615.5 936.0L617.8 934.0L617.8 930.0" stroke="#a09040" stroke-width="1.00" fill="none" stroke-linecap="round" stroke-linejoin="round"/>
<path d="M727.0 250.0L727.0 254.0M727.0 252.0L721.0 252.0M726.0 259.9L727.0 258.9L727.0 256.9L726.0 255.9L725.0 255.9L724.0 256.9L724.0 258.9L723.0 259.9L722.0 259.9L721.0 258.9L721.0 256.9L722.0 255.9M727.0 261.8L721.0 261.8L722.7 263.8L721.0 265.8L727.0 265.8M724.0 268.2L724.0 271.2M721.0 276.6L727.0 276.6L723.0 273.6L723.0 277.6M727.0 279.2L721.0 283.8M727.0 283.8L721.0 279.2M726.0 285.4L727.0 286.4L727.0 288.4L726.0 289.4L725.0 289.4L721.0 285.4L721.0 289.4M727.0 295.3L727.0 291.3L721.0 291.3M724.0 291.3L724.0 294.1" stroke="#8fb4f4" stroke-width="0.90" fill="none" stroke-linecap="round" stroke-linejoin="round"/>
<path d="M303.0 91.3L303.0 95.0L305.8 95.0L305.8 92.2L306.7 91.3L307.6 91.3L308.5 92.2L308.5 94.1L307.6 95.0M303.9 90.0L303.0 89.0L303.0 87.2L303.9 86.3L304.8 86.3L308.5 90.0L308.5 86.3M308.2 83.4L308.2 82.8L308.5 82.8L308.5 83.4L308.2 83.4M303.9 79.9L303.0 79.0L303.0 77.1L303.9 76.2L304.8 76.2L305.8 77.1L306.7 76.2L307.6 76.2L308.5 77.1L308.5 79.0L307.6 79.9M305.8 78.5L305.8 77.1" stroke="#8fb4f4" stroke-width="0.90" fill="none" stroke-linecap="round" stroke-linejoin="round"/>
<path d="M328.0 122.0L328.0 118.3L333.5 120.6M333.2 115.4L333.2 114.8L333.5 114.8L333.5 115.4L333.2 115.4M330.8 111.0L329.8 111.9L328.9 111.9L328.0 111.0L328.0 109.2L328.9 108.2L329.8 108.2L330.8 109.2L330.8 111.0L331.7 111.9L332.6 111.9L333.5 111.0L333.5 109.2L332.6 108.2L331.7 108.2L330.8 109.2M328.0 106.9L328.0 103.2L333.5 105.5M328.0 101.8L333.5 101.8M328.0 98.2L331.7 101.8M330.3 100.5L333.5 98.2" stroke="#8fb4f4" stroke-width="0.90" fill="none" stroke-linecap="round" stroke-linejoin="round"/>
<path d="M352.7 95.0L352.7 91.3L358.2 93.6M357.9 88.4L357.9 87.8L358.2 87.8L358.2 88.4L357.9 88.4M355.4 84.0L354.5 84.9L353.6 84.9L352.7 84.0L352.7 82.2L353.6 81.2L354.5 81.2L355.4 82.2L355.4 84.0L356.4 84.9L357.3 84.9L358.2 84.0L358.2 82.2L357.3 81.2L356.4 81.2L355.4 82.2M352.7 79.9L352.7 76.2L358.2 78.5M352.7 74.8L358.2 74.8M352.7 71.2L356.4 74.8M355.0 73.5L358.2 71.2" stroke="#8fb4f4" stroke-width="0.90" fill="none" stroke-linecap="round" stroke-linejoin="round"/>
<path d="M374.9 120.0L374.0 119.1L374.0 117.2L374.9 116.3L375.8 116.3L379.5 120.0L379.5 116.3M379.5 112.2L374.0 112.2L377.7 115.0L377.7 111.3M378.6 109.9L379.5 109.0L379.5 107.2L378.6 106.2L374.9 106.2L374.0 107.2L374.0 109.0L374.9 109.9L375.8 109.9L376.8 109.0L376.8 106.2" stroke="#8fb4f4" stroke-width="0.90" fill="none" stroke-linecap="round" stroke-linejoin="round"/>
<path d="M378.4 146.0L377.5 145.1L377.5 143.2L378.4 142.3L379.3 142.3L383.0 146.0L383.0 142.3M383.0 138.2L377.5 138.2L381.2 141.0L381.2 137.3M382.1 135.9L383.0 135.0L383.0 133.2L382.1 132.2L378.4 132.2L377.5 133.2L377.5 135.0L378.4 135.9L379.3 135.9L380.2 135.0L380.2 132.2" stroke="#8fb4f4" stroke-width="0.90" fill="none" stroke-linecap="round" stroke-linejoin="round"/>
<path d="M403.0 91.3L403.0 95.0L405.8 95.0L405.8 92.2L406.7 91.3L407.6 91.3L408.5 92.2L408.5 94.1L407.6 95.0M403.9 90.0L403.0 89.0L403.0 87.2L403.9 86.3L404.8 86.3L408.5 90.0L408.5 86.3M408.2 83.4L408.2 82.8L408.5 82.8L408.5 83.4L408.2 83.4M403.9 79.9L403.0 79.0L403.0 77.1L403.9 76.2L404.8 76.2L405.8 77.1L406.7 76.2L407.6 76.2L408.5 77.1L408.5 79.0L407.6 79.9M405.8 78.5L405.8 77.1" stroke="#8fb4f4" stroke-width="0.90" fill="none" stroke-linecap="round" stroke-linejoin="round"/>
<path d="M532.5 109.2L527.0 109.2L530.7 112.0L530.7 108.3M527.0 107.0L527.0 103.3L532.5 105.6M527.0 101.0L527.0 99.2L527.9 98.2L531.6 98.2L532.5 99.2L532.5 101.0L531.6 101.9L527.9 101.9L527.0 101.0M532.5 96.9L528.8 96.9M529.3 96.9L528.8 96.0L528.8 94.1L529.8 93.2L532.5 93.2M527.0 88.2L527.0 91.8L532.5 91.8M529.8 91.8L529.8 89.3M532.5 79.0L527.0 79.0L530.7 81.8L530.7 78.1M527.0 76.9L530.7 76.9L532.5 74.9L530.7 72.8L527.0 72.8" stroke="#8fb4f4" stroke-width="0.90" fill="none" stroke-linecap="round" stroke-linejoin="round"/>
<path d="M312.8 172.0L311.8 171.0L309.8 171.0L308.8 172.0L308.8 176.0L309.8 177.0L311.8 177.0L312.8 176.0L312.8 174.5L311.3 174.5M314.3 177.0L314.3 171.0L317.5 171.0L318.3 171.8L318.3 173.2L317.5 174.0L314.3 174.0M320.8 174.0L319.8 173.0L319.8 172.0L320.8 171.0L322.8 171.0L323.8 172.0L323.8 173.0L322.8 174.0L320.8 174.0L319.8 175.0L319.8 176.0L320.8 177.0L322.8 177.0L323.8 176.0L323.8 175.0L322.8 174.0" stroke="#8fb4f4" stroke-width="1.00" fill="none" stroke-linecap="round" stroke-linejoin="round"/>
<path d="M650.3 156.8L649.5 156.0L647.8 156.0L647.0 156.8L647.0 160.2L647.8 161.0L649.5 161.0L650.3 160.2L650.3 159.3L649.5 158.5L647.0 158.5M652.4 156.0L654.1 156.0L654.9 156.8L654.9 160.2L654.1 161.0L652.4 161.0L651.6 160.2L651.6 156.8L652.4 156.0M657.6 160.8L658.1 160.8L658.1 161.0L657.6 161.0L657.6 160.8M663.2 161.0L663.2 156.0L660.8 159.3L664.1 159.3" stroke="#8fb4f4" stroke-width="0.90" fill="none" stroke-linecap="round" stroke-linejoin="round"/>
<path d="M626.0 206.3L626.0 210.0L631.5 210.0L631.5 206.3M628.8 210.0L628.8 207.4M631.5 205.0L626.0 205.0L626.0 202.0L626.7 201.3L628.0 201.3L628.8 202.0L628.8 205.0M628.8 203.3L631.5 201.3M631.5 199.9L628.0 199.9L626.0 198.1L628.0 196.2L631.5 196.2M629.5 199.9L629.5 196.2M628.8 194.4L628.8 191.7M626.9 186.2L626.0 187.1L626.0 188.9L626.9 189.8L627.8 189.8L628.8 188.9L628.8 187.1L629.7 186.2L630.6 186.2L631.5 187.1L631.5 188.9L630.6 189.8M631.5 184.8L626.0 184.8L628.8 183.0L626.0 181.1L631.5 181.1M626.9 178.8L626.0 177.9L631.5 177.9M631.5 178.8L631.5 177.0M626.9 174.7L626.0 173.8L626.0 172.0L626.9 171.0L627.8 171.0L631.5 174.7L631.5 171.0" stroke="#8fb4f4" stroke-width="0.90" fill="none" stroke-linecap="round" stroke-linejoin="round"/>
<rect x="172.5" y="54.5" width="577" height="864.5" fill="none" stroke="#ff30ff" stroke-width="3"/>
<rect x="172.5" y="54.5" width="577" height="864.5" fill="none" stroke="#ffa8ff" stroke-width="1"/>
<path d="M749.0 38.0L749.0 69.0" stroke="#fff" stroke-width="2.2" fill="none" stroke-linejoin="round"/>
<path d="M734.0 54.0L765.0 54.0" stroke="#fff" stroke-width="2.2" fill="none" stroke-linejoin="round"/>
</svg>
</body></html>
